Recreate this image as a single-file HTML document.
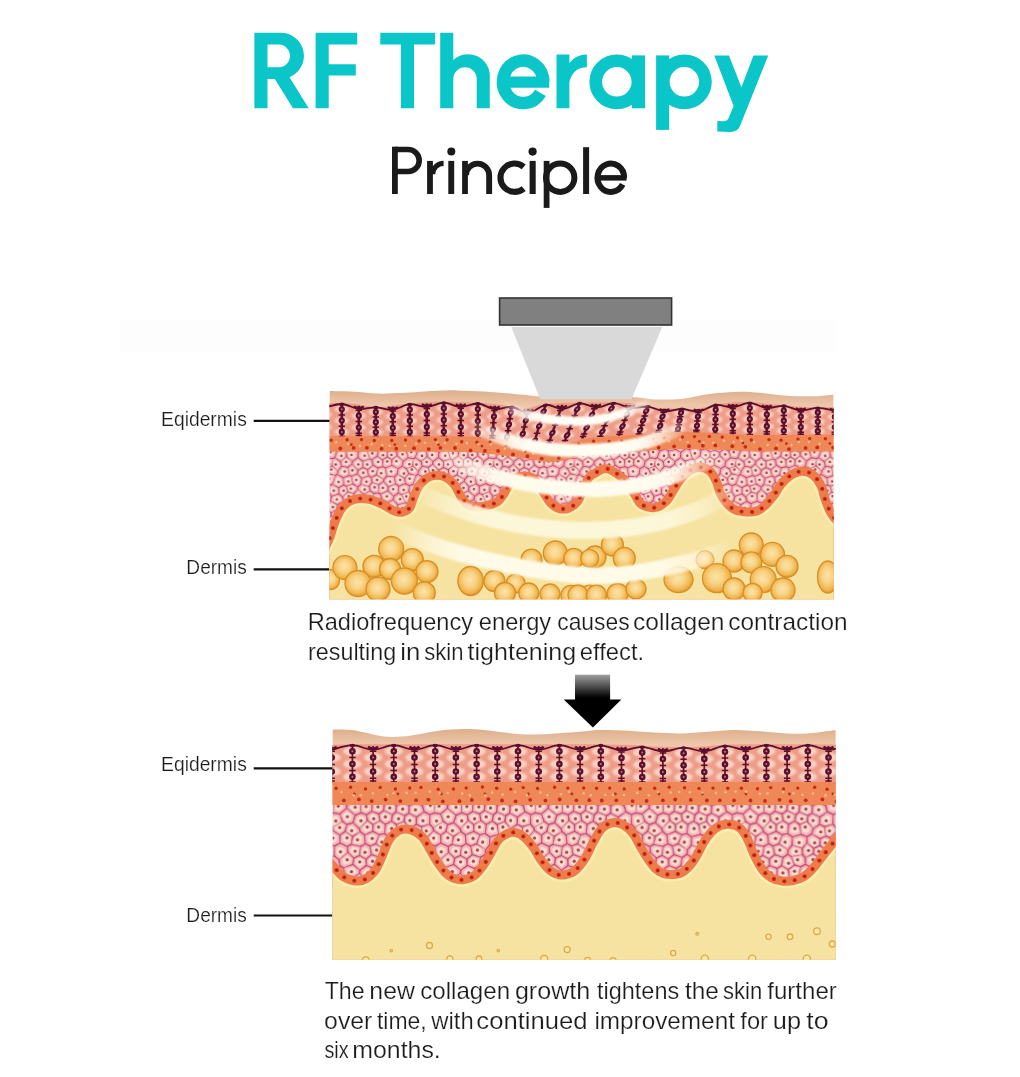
<!DOCTYPE html>
<html><head><meta charset="utf-8"><title>RF Therapy Principle</title>
<style>
html,body{margin:0;padding:0;background:#fff}
body{width:1020px;height:1077px;overflow:hidden;font-family:"Liberation Sans",sans-serif}
svg{display:block;font-family:"Liberation Sans",sans-serif}
</style></head><body>
<svg width="1020" height="1077" viewBox="0 0 1020 1077">
<defs>
<pattern id="cells2" width="100.8" height="87.3" patternUnits="userSpaceOnUse">
<rect width="100.8" height="87.3" fill="#c04a70"/>
<g fill="#f5b5b8" stroke="#f5b5b8" stroke-width="1.4" stroke-linejoin="round"><path d="M-4.7,-4.9L-1.1,-7.2L4.2,-4L3.9,4.1L0.4,6.4L-6.6,4.4Z"/><path d="M-4.7,82.4L-1.1,80.1L4.2,83.3L3.9,91.3L0.4,93.7L-6.6,91.7Z"/><path d="M96.1,-4.9L99.7,-7.2L105,-4L104.7,4.1L101.2,6.4L94.2,4.4Z"/><path d="M96.1,82.4L99.7,80.1L105,83.3L104.7,91.3L101.2,93.7L94.2,91.7Z"/><path d="M17.1,-2.3L18.4,3.1L12.6,6.5L6.5,4.1L6.6,-4L11.5,-5.7Z"/><path d="M17.1,85L18.4,90.4L12.6,93.8L6.5,91.4L6.6,83.3L11.5,81.6Z"/><path d="M20,-2.9L20.9,2.6L24.8,4.4L28.3,1.9L30.8,-3.9L24.3,-6.3Z"/><path d="M20,84.4L20.9,89.9L24.8,91.7L28.3,89.2L30.8,83.4L24.3,81Z"/><path d="M41.5,3.4L40,-3.9L37.3,-5.7L33,-3L30.6,2.9L38.5,6.3Z"/><path d="M41.5,90.7L40,83.4L37.3,81.6L33,84.3L30.6,90.2L38.5,93.6Z"/><path d="M49.3,4L55.8,0L56,-2.4L50.2,-7.1L42.4,-4.4L44.2,2.8Z"/><path d="M49.3,91.3L55.8,87.3L56,84.9L50.2,80.2L42.4,82.8L44.2,90.1Z"/><path d="M64.1,6.2L70.2,2.9L70.2,-3.6L64.3,-6L59,-2.2L58.8,0.2Z"/><path d="M64.1,93.5L70.2,90.2L70.2,83.7L64.3,81.3L59,85.1L58.8,87.5Z"/><path d="M81.5,-2.6L76.3,-5.8L72.7,-3.6L72.8,2.9L77.8,5.8L82.7,3.8Z"/><path d="M81.5,84.7L76.3,81.5L72.7,83.7L72.8,90.2L77.8,93.1L82.7,91.1Z"/><path d="M88.9,-6.4L84.3,-3L84.9,3.5L89.3,5.4L92.2,4L94,-5.3Z"/><path d="M88.9,80.9L84.3,84.3L84.9,90.8L89.3,92.7L92.2,91.3L94,82Z"/><path d="M2.3,15.7L6.3,18.6L11.9,15.9L11.6,9L5.5,6.5L2,8.8Z"/><path d="M19.7,5.3L14.1,8.9L14.5,15.8L19.2,18.6L24.7,12.5L23.5,7.1Z"/><path d="M26,6.4L29.9,4.5L37.9,7.8L37,12.3L32,13.6L27.6,11.7Z"/><path d="M43.5,5.2L48.5,6.9L50.4,13.8L44.6,18.3L39.7,12.9L40.7,8.4Z"/><path d="M57,1.8L50.7,6.2L52.7,13.1L57.4,14.3L61.6,11.7L62.2,7.9Z"/><path d="M76.5,8.1L75.4,13.7L70.1,16L64.5,12.1L65.2,8.3L71.4,5.3Z"/><path d="M83.8,6.3L88.3,8L87.9,15L82.1,17.7L78.1,14.2L79,8.5Z"/><path d="M-7.3,6.8L-0.4,8.9L-0.4,15.8L-6.4,18.5L-10.1,15.1L-10.3,8Z"/><path d="M93.5,6.8L100.4,8.9L100.4,15.8L94.4,18.5L90.7,15.1L90.5,8Z"/><path d="M-5.8,25.7L1.2,28.5L4.4,26.6L4.7,20.8L0.6,18L-5.4,20.7Z"/><path d="M95,25.7L102,28.5L105.2,26.6L105.5,20.8L101.4,18L95.4,20.7Z"/><path d="M13,18.3L7.4,21L7.1,26.8L13.1,29.9L19.5,25.8L17.9,20.9Z"/><path d="M26.5,14.1L30.8,16.3L30.3,25.8L26.8,27.4L22.1,25L20.8,20Z"/><path d="M37.1,26.8L42.8,22L42.9,20L37.7,14.7L32.8,16.4L31.9,25.9Z"/><path d="M46,20.2L52.1,16L56.9,16.9L57.5,26L52.9,28L45.8,22.2Z"/><path d="M68.4,18.3L68.3,24.7L64.1,27.5L59.6,25.9L59.1,16.8L63.1,14Z"/><path d="M80,24L76.4,26.7L70.7,24.8L71.1,18.4L76.4,16.2L80.3,19.7Z"/><path d="M89.5,27.7L82.7,24.2L83.1,19.9L88.9,17.2L92.6,20.5L92.2,25.4Z"/><path d="M2.8,31.1L5.9,29L11.9,32.1L11.9,37.9L6.9,41.5L2.4,35.5Z"/><path d="M20.8,27.7L25.6,29.9L25.1,37.8L18.6,39.6L14.6,37.9L14.7,32.2Z"/><path d="M30.5,40.6L38.6,35.6L36.6,29.6L31.5,28.7L27.9,30L27.9,37.8Z"/><path d="M41.2,34.6L44.7,37.3L49.5,35.8L51.3,29.8L44.4,24L38.8,28.8Z"/><path d="M52.1,36.6L54,30.6L58.6,28.6L63.1,30.2L63.5,34.8L57.4,41.5Z"/><path d="M75.4,29.3L76.2,34.5L70.8,37.5L66.6,34.4L65.5,29.8L69.9,27.2Z"/><path d="M88.6,29.6L87.9,34.5L83.1,37.1L78.9,34.1L78,28.9L81.7,26.3Z"/><path d="M-9.4,30L-10.2,34.9L-6.2,37.4L-0.6,35L0.3,30.7L-6.7,27.7Z"/><path d="M91.4,30L90.6,34.9L94.6,37.4L100.2,35L101.1,30.7L94.1,27.7Z"/><path d="M5.4,42.7L4.2,47.1L0.3,49.5L-4.6,47.3L-5.3,39.5L0.3,37.2Z"/><path d="M106.2,42.7L105,47.1L101.1,49.5L96.2,47.3L95.5,39.5L101.1,37.2Z"/><path d="M17.3,42.3L13.5,40.2L8.3,43.6L6.8,47.9L13.8,51.4L18.2,49.6Z"/><path d="M29,45L23.5,50.5L20.2,49.3L19.4,42.1L25.8,39.9L28.4,42.6Z"/><path d="M31.9,44.3L37.5,47.9L41.5,44.8L43.1,39.4L39.5,37.1L31.4,41.9Z"/><path d="M44.3,45.6L50,49.3L56.3,45.8L55.6,43.4L50.4,38.5L45.5,40Z"/><path d="M69.3,44.7L62.6,47.8L59.1,45.1L58.6,42.7L65.1,36.3L69.1,39.6Z"/><path d="M81.1,46.8L81.7,39.2L77.3,36.4L72,39.6L71.8,44.7L76.7,47.6Z"/><path d="M92.9,39.9L94.3,47.6L87.2,49.8L83.4,47L84.4,39.5L89.2,36.9Z"/><path d="M12.2,59L12.4,53.9L5.8,49.7L1.8,52L2.1,57.2L7.6,61.2Z"/><path d="M19.2,62.6L15,59.1L14.9,53.9L19.2,52.1L22.6,53.2L24.7,58.2Z"/><path d="M27.2,57.2L25.2,52.1L30.5,46.4L36.1,50L36.4,56.5L31.8,58.9Z"/><path d="M38.9,56.4L45.1,59.3L48,57.4L48.8,51.2L43.2,47.2L39,50Z"/><path d="M50.1,57.8L57.6,59.3L61.5,57.3L60.9,50.2L57.3,47.5L51.6,51.7Z"/><path d="M75.4,49.8L72.5,56.8L67.9,58.8L64.1,57L63.5,49.9L70.4,47.2Z"/><path d="M81.6,49.4L85.5,52.2L85,58.8L82,62.7L74.9,57.7L77.3,50.6Z"/><path d="M-1,57.2L-0.7,52L-5.7,50.2L-12.9,52.2L-12.9,58.9L-4.9,61.4Z"/><path d="M99.8,57.2L100.1,52L95.1,50.2L87.9,52.2L87.9,58.9L95.9,61.4Z"/><path d="M5.7,67.2L6,63.3L0.8,58.7L-2.7,63.2L-2.5,68.1L-0.5,70.6Z"/><path d="M106.5,67.2L106.8,63.3L101.6,58.7L98.1,63.2L98.3,68.1L100.3,70.6Z"/><path d="M17.7,68.5L13,70.8L8.4,67.3L8.8,63.5L13.3,61.3L17.7,64.4Z"/><path d="M20.5,68.6L24.3,71L30.7,69.3L30.9,61.5L26.2,60.1L20.7,64.5Z"/><path d="M33.3,69.4L36.9,72.6L43.9,66.6L43.9,61.8L37.7,58.9L33.2,61.5Z"/><path d="M51.8,70.8L56.1,68.8L57.1,61.7L49.6,60.1L46.5,61.7L47,66.5Z"/><path d="M58.6,69.1L59.2,62L62.9,59.5L66.5,61.6L67.6,68.4L63.4,71.9Z"/><path d="M80.8,67.9L81,64.2L73.6,59.7L68.8,61.1L70.2,67.9L76.8,70.4Z"/><path d="M86.6,69.7L95.6,68.2L95.2,63.4L87.3,60.7L84,64.5L83.7,68.1Z"/><path d="M10.4,78.8L5.6,80.8L0.3,77.8L0.4,72.4L6.9,69.5L11.7,72.7Z"/><path d="M111.2,78.8L106.4,80.8L101.1,77.8L101.2,72.4L107.7,69.5L112.5,72.7Z"/><path d="M18.9,70.8L14.4,73.4L12.7,79.4L18.5,82.7L22.3,78.8L22.6,73.5Z"/><path d="M25,73.5L25.1,78.9L31.6,81.6L36.3,79.6L35.2,74.7L31.4,71.6Z"/><path d="M49.3,77.7L41.7,80.8L38.9,79.1L38.2,74.1L45.3,68.3L50,72.8Z"/><path d="M51.9,78.2L57.5,83.1L62.6,79.1L62.3,74.1L57.3,71.4L52.8,73.2Z"/><path d="M65.2,73.9L69.3,70.4L76,72.6L74.8,79.1L71.2,81.3L65.3,78.9Z"/><path d="M87.4,78.9L85,72.2L82.3,70.2L78.4,73L77.5,79.5L82.8,82.4Z"/><path d="M89.7,78L86.9,71.5L95.9,70.1L98.2,72.5L98.4,77.8L94.6,79.7Z"/></g>
<g fill="#fcdfd4" stroke="#fcdfd4" stroke-width="2" stroke-linejoin="round" opacity="0.95"><path d="M-3.3,-2.8L-1.2,-4.1L1.8,-2.2L1.7,2.4L-0.4,3.8L-4.4,2.6Z"/><path d="M-3.3,84.5L-1.2,83.2L1.8,85.1L1.7,89.7L-0.4,91.1L-4.4,89.9Z"/><path d="M97.5,-2.8L99.6,-4.1L102.6,-2.2L102.5,2.4L100.4,3.8L96.4,2.6Z"/><path d="M97.5,84.5L99.6,83.2L102.6,85.1L102.5,89.7L100.4,91.1L96.4,89.9Z"/><path d="M14.9,-1.1L15.7,2L12.3,4L8.8,2.6L8.8,-2.1L11.7,-3.1Z"/><path d="M14.9,86.2L15.7,89.3L12.3,91.3L8.8,89.9L8.8,85.2L11.7,84.2Z"/><path d="M22.5,-2.6L23,0.6L25.2,1.6L27.3,0.1L28.7,-3.2L24.9,-4.6Z"/><path d="M22.5,84.7L23,87.9L25.2,88.9L27.3,87.4L28.7,84.1L24.9,82.7Z"/><path d="M38.9,2.7L38,-1.5L36.5,-2.6L33.9,-1L32.6,2.4L37.2,4.4Z"/><path d="M38.9,90L38,85.8L36.5,84.7L33.9,86.3L32.6,89.7L37.2,91.7Z"/><path d="M49.2,1.8L53,-0.6L53.1,-2L49.8,-4.7L45.3,-3.2L46.3,1Z"/><path d="M49.2,89.1L53,86.7L53.1,85.3L49.8,82.6L45.3,84.1L46.3,88.3Z"/><path d="M64.7,3.5L68.2,1.6L68.3,-2.1L64.8,-3.5L61.8,-1.3L61.7,0.1Z"/><path d="M64.7,90.8L68.2,88.9L68.3,85.2L64.8,83.8L61.8,86L61.7,87.4Z"/><path d="M79.7,-1.5L76.8,-3.4L74.7,-2.1L74.7,1.6L77.6,3.3L80.5,2.2Z"/><path d="M79.7,85.8L76.8,83.9L74.7,85.2L74.7,88.9L77.6,90.6L80.5,89.5Z"/><path d="M88.9,-4.5L86.2,-2.5L86.6,1.3L89.2,2.3L90.8,1.5L91.8,-3.9Z"/><path d="M88.9,82.8L86.2,84.8L86.6,88.6L89.2,89.6L90.8,88.8L91.8,83.4Z"/><path d="M4.3,14.5L6.6,16.2L9.9,14.6L9.7,10.6L6.1,9.1L4.1,10.5Z"/><path d="M19.4,8.2L16.1,10.3L16.4,14.3L19.1,15.9L22.3,12.3L21.6,9.2Z"/><path d="M28.7,7.4L30.9,6.3L35.6,8.1L35.1,10.8L32.2,11.5L29.6,10.4Z"/><path d="M44.3,7.8L47.2,8.8L48.3,12.8L45,15.4L42.1,12.3L42.7,9.6Z"/><path d="M56.4,4.6L52.8,7.2L53.9,11.2L56.7,11.8L59.1,10.4L59.4,8.1Z"/><path d="M74.3,9.2L73.6,12.5L70.6,13.8L67.3,11.6L67.7,9.3L71.3,7.6Z"/><path d="M83.5,9L86.1,10L85.8,14.1L82.5,15.7L80.2,13.7L80.7,10.3Z"/><path d="M-6.4,9.4L-2.4,10.7L-2.4,14.6L-5.9,16.2L-8,14.3L-8.1,10.2Z"/><path d="M94.4,9.4L98.4,10.7L98.4,14.6L94.9,16.2L92.8,14.3L92.7,10.2Z"/><path d="M-3.6,24.7L0.5,26.4L2.3,25.3L2.5,21.9L0.1,20.3L-3.3,21.8Z"/><path d="M97.2,24.7L101.3,26.4L103.1,25.3L103.3,21.9L100.9,20.3L97.5,21.8Z"/><path d="M12.7,20.7L9.5,22.3L9.3,25.6L12.8,27.5L16.5,25.1L15.5,22.2Z"/><path d="M26.8,16.4L29.3,17.7L29,23.3L27,24.2L24.2,22.8L23.5,19.9Z"/><path d="M36.6,24.1L39.9,21.3L40,20.1L37,17.1L34.1,18.1L33.6,23.6Z"/><path d="M48.8,20.7L52.4,18.3L55.2,18.9L55.5,24.1L52.8,25.2L48.8,21.9Z"/><path d="M66.4,19.3L66.3,23.1L63.9,24.7L61.3,23.7L61,18.5L63.4,16.9Z"/><path d="M78.1,22.8L76.1,24.4L72.8,23.3L73,19.6L76.1,18.3L78.3,20.3Z"/><path d="M88.6,25.4L84.7,23.4L84.9,20.9L88.3,19.3L90.4,21.2L90.2,24.1Z"/><path d="M4.5,32.7L6.3,31.5L9.8,33.3L9.7,36.6L6.8,38.7L4.2,35.2Z"/><path d="M20.4,30.7L23.2,32L22.9,36.6L19.1,37.7L16.8,36.7L16.9,33.3Z"/><path d="M31.7,38.3L36.4,35.5L35.2,32L32.3,31.5L30.2,32.2L30.2,36.8Z"/><path d="M42.8,33.1L44.8,34.6L47.6,33.8L48.7,30.3L44.6,26.9L41.4,29.7Z"/><path d="M54.8,36L55.9,32.5L58.6,31.4L61.2,32.3L61.5,35L57.9,38.8Z"/><path d="M73.7,30.9L74.2,33.9L71,35.7L68.6,33.8L68,31.2L70.5,29.7Z"/><path d="M86.2,30.3L85.8,33.1L83.1,34.6L80.6,32.9L80.1,29.9L82.2,28.4Z"/><path d="M-7.4,31.3L-7.8,34.1L-5.5,35.6L-2.3,34.2L-1.8,31.7L-5.8,30Z"/><path d="M93.4,31.3L93,34.1L95.3,35.6L98.5,34.2L99,31.7L95,30Z"/><path d="M2.6,42.1L2,44.7L-0.3,46.1L-3.1,44.8L-3.5,40.3L-0.3,38.9Z"/><path d="M103.4,42.1L102.8,44.7L100.5,46.1L97.7,44.8L97.3,40.3L100.5,38.9Z"/><path d="M16.1,44L13.9,42.7L10.9,44.7L10,47.2L14.1,49.2L16.6,48.1Z"/><path d="M26.5,45.1L23.3,48.3L21.4,47.6L20.9,43.4L24.7,42.1L26.2,43.7Z"/><path d="M34.2,43.2L37.4,45.3L39.7,43.6L40.7,40.4L38.6,39.1L33.9,41.9Z"/><path d="M46.4,45.4L49.7,47.5L53.4,45.5L53,44.1L49.9,41.2L47.1,42.1Z"/><path d="M67.5,43.3L63.6,45.1L61.6,43.5L61.3,42.1L65,38.4L67.4,40.3Z"/><path d="M79,44.5L79.4,40.1L76.8,38.5L73.8,40.3L73.6,43.3L76.5,44.9Z"/><path d="M91.4,41.1L92.2,45.6L88.1,46.8L85.9,45.2L86.5,40.9L89.3,39.4Z"/><path d="M10.6,58.2L10.7,55.2L6.8,52.8L4.5,54.1L4.7,57.1L7.9,59.5Z"/><path d="M19.1,60.3L16.6,58.3L16.6,55.3L19.1,54.2L21,54.9L22.3,57.8Z"/><path d="M28.6,55.2L27.4,52.2L30.5,48.9L33.7,51L33.9,54.8L31.3,56.2Z"/><path d="M41.3,54.6L44.9,56.3L46.6,55.2L47,51.6L43.8,49.3L41.3,50.9Z"/><path d="M52.2,56.2L56.6,57.1L58.8,55.9L58.4,51.8L56.4,50.2L53.1,52.7Z"/><path d="M73.1,51.1L71.4,55.1L68.7,56.3L66.6,55.2L66.2,51.1L70.2,49.5Z"/><path d="M80.8,52.4L83,54L82.7,57.8L80.9,60.1L76.8,57.2L78.3,53Z"/><path d="M-3.7,57.1L-3.5,54.1L-6.4,53L-10.5,54.2L-10.5,58.1L-5.9,59.5Z"/><path d="M97.1,57.1L97.3,54.1L94.4,53L90.3,54.2L90.3,58.1L94.9,59.5Z"/><path d="M4.2,66.2L4.3,63.9L1.3,61.3L-0.7,63.9L-0.6,66.7L0.6,68.2Z"/><path d="M105,66.2L105.1,63.9L102.1,61.3L100.1,63.9L100.2,66.7L101.4,68.2Z"/><path d="M15.5,67.3L12.8,68.6L10.1,66.6L10.3,64.4L12.9,63.1L15.5,64.9Z"/><path d="M22.8,67.5L25,68.9L28.7,67.9L28.8,63.4L26.1,62.5L22.9,65.1Z"/><path d="M35.3,68L37.4,69.9L41.5,66.4L41.5,63.6L37.9,61.9L35.3,63.4Z"/><path d="M52.2,68.6L54.7,67.4L55.2,63.3L50.9,62.3L49.1,63.3L49.4,66.1Z"/><path d="M60.3,68L60.6,63.9L62.8,62.5L64.9,63.7L65.5,67.6L63.1,69.7Z"/><path d="M78.1,66.5L78.1,64.3L73.8,61.7L71.1,62.5L71.9,66.4L75.7,67.9Z"/><path d="M88.3,67.9L93.6,67.1L93.3,64.3L88.7,62.7L86.8,64.9L86.6,67.1Z"/><path d="M8.8,76.7L6,77.9L2.9,76.1L3,73L6.8,71.3L9.6,73.2Z"/><path d="M109.6,76.7L106.8,77.9L103.7,76.1L103.8,73L107.6,71.3L110.4,73.2Z"/><path d="M18.7,73.3L16.1,74.8L15.1,78.3L18.5,80.2L20.7,78L20.9,74.9Z"/><path d="M26.7,75L26.7,78.1L30.5,79.6L33.2,78.5L32.6,75.6L30.4,73.9Z"/><path d="M47.4,76.2L43,78L41.4,77L41,74.1L45.1,70.7L47.8,73.3Z"/><path d="M54.2,77.4L57.4,80.2L60.4,77.9L60.2,75L57.3,73.4L54.7,74.5Z"/><path d="M67.3,74.6L69.7,72.6L73.6,73.9L72.9,77.6L70.8,78.9L67.4,77.5Z"/><path d="M85.5,78.4L84.1,74.5L82.6,73.3L80.3,74.9L79.8,78.7L82.9,80.4Z"/><path d="M90.6,76.4L89,72.6L94.3,71.8L95.6,73.1L95.7,76.2L93.5,77.3Z"/></g>
<g fill="#a34242"><circle cx="-1.4" cy="0.2" r="1.6"/><circle cx="-1.4" cy="87.5" r="1.6"/><circle cx="99.4" cy="0.2" r="1.6"/><circle cx="99.4" cy="87.5" r="1.6"/><circle cx="11.9" cy="0.5" r="1.6"/><circle cx="11.9" cy="87.8" r="1.6"/><circle cx="25.9" cy="-2.3" r="1.6"/><circle cx="25.9" cy="85" r="1.6"/><circle cx="35.3" cy="1.8" r="1.6"/><circle cx="35.3" cy="89.1" r="1.6"/><circle cx="49.1" cy="-1.4" r="1.6"/><circle cx="49.1" cy="85.9" r="1.6"/><circle cx="65.6" cy="-0.2" r="1.6"/><circle cx="65.6" cy="87.1" r="1.6"/><circle cx="77.3" cy="-0.1" r="1.6"/><circle cx="77.3" cy="87.2" r="1.6"/><circle cx="88.9" cy="-1.8" r="1.6"/><circle cx="88.9" cy="85.5" r="1.6"/><circle cx="7" cy="12.8" r="1.6"/><circle cx="19" cy="12.2" r="1.6"/><circle cx="32.4" cy="8.6" r="1.6"/><circle cx="45.4" cy="11.4" r="1.6"/><circle cx="55.7" cy="8.5" r="1.6"/><circle cx="71.2" cy="10.8" r="1.6"/><circle cx="83" cy="12.9" r="1.6"/><circle cx="-5.2" cy="13.1" r="1.6"/><circle cx="95.6" cy="13.1" r="1.6"/><circle cx="-0.5" cy="23.4" r="1.6"/><circle cx="100.3" cy="23.4" r="1.6"/><circle cx="12.3" cy="24.1" r="1.6"/><circle cx="27.2" cy="19.7" r="1.6"/><circle cx="35.9" cy="20.4" r="1.6"/><circle cx="52.8" cy="21.5" r="1.6"/><circle cx="63.7" cy="20.8" r="1.6"/><circle cx="75.6" cy="21.2" r="1.6"/><circle cx="87.4" cy="22.3" r="1.6"/><circle cx="6.7" cy="34.8" r="1.6"/><circle cx="19.8" cy="35" r="1.6"/><circle cx="33.4" cy="35.3" r="1.6"/><circle cx="45" cy="31" r="1.6"/><circle cx="58.6" cy="35.2" r="1.6"/><circle cx="71.4" cy="33.1" r="1.6"/><circle cx="83" cy="31.2" r="1.6"/><circle cx="-4.6" cy="33.1" r="1.6"/><circle cx="96.2" cy="33.1" r="1.6"/><circle cx="-1.1" cy="41.4" r="1.6"/><circle cx="99.7" cy="41.4" r="1.6"/><circle cx="14.4" cy="46.2" r="1.6"/><circle cx="23.1" cy="45.2" r="1.6"/><circle cx="37.3" cy="41.8" r="1.6"/><circle cx="49.3" cy="45" r="1.6"/><circle cx="64.9" cy="41.3" r="1.6"/><circle cx="76.2" cy="41.3" r="1.6"/><circle cx="89.3" cy="42.8" r="1.6"/><circle cx="8.3" cy="57.1" r="1.6"/><circle cx="18.9" cy="57.2" r="1.6"/><circle cx="30.5" cy="52.4" r="1.6"/><circle cx="44.6" cy="52.1" r="1.6"/><circle cx="55.1" cy="54.1" r="1.6"/><circle cx="69.9" cy="52.8" r="1.6"/><circle cx="79.5" cy="56.5" r="1.6"/><circle cx="-7.3" cy="56.9" r="1.6"/><circle cx="93.5" cy="56.9" r="1.6"/><circle cx="2.1" cy="64.8" r="1.6"/><circle cx="102.9" cy="64.8" r="1.6"/><circle cx="12.4" cy="65.6" r="1.6"/><circle cx="25.9" cy="66" r="1.6"/><circle cx="38.1" cy="66.1" r="1.6"/><circle cx="52.7" cy="65.5" r="1.6"/><circle cx="62.6" cy="66.6" r="1.6"/><circle cx="74.2" cy="64.4" r="1.6"/><circle cx="90.7" cy="65.6" r="1.6"/><circle cx="6.6" cy="73.8" r="1.6"/><circle cx="107.4" cy="73.8" r="1.6"/><circle cx="18.5" cy="76.8" r="1.6"/><circle cx="29" cy="77" r="1.6"/><circle cx="44.8" cy="74.1" r="1.6"/><circle cx="57.4" cy="76.2" r="1.6"/><circle cx="70.2" cy="75.6" r="1.6"/><circle cx="83" cy="77.6" r="1.6"/><circle cx="92" cy="74.1" r="1.6"/></g>
</pattern>
<pattern id="cells1" width="100.8" height="87.3" patternUnits="userSpaceOnUse" patternTransform="scale(0.8)">
<rect width="100.8" height="87.3" fill="#c04a70"/>
<g fill="#f5b5b8" stroke="#f5b5b8" stroke-width="1.4" stroke-linejoin="round"><path d="M-1.3,5.5L-4.8,4.5L-4.3,-2.6L2.5,-5.1L6.6,-3L5.8,2.9Z"/><path d="M-1.3,92.8L-4.8,91.8L-4.3,84.7L2.5,82.2L6.6,84.3L5.8,90.2Z"/><path d="M99.5,5.5L96,4.5L96.5,-2.6L103.3,-5.1L107.4,-3L106.6,2.9Z"/><path d="M99.5,92.8L96,91.8L96.5,84.7L103.3,82.2L107.4,84.3L106.6,90.2Z"/><path d="M11.9,7.8L19,5.4L18.9,-0.6L12.7,-4.2L8.9,-2.9L8.8,3.2Z"/><path d="M11.9,95.1L19,92.7L18.9,86.7L12.7,83L8.9,84.4L8.8,90.5Z"/><path d="M26.4,-3.5L21.6,-0.6L21.6,5.4L25.3,8.4L30.2,3.4L28.9,-2.1Z"/><path d="M26.4,83.8L21.6,86.7L21.6,92.7L25.3,95.7L30.2,90.7L28.9,85.2Z"/><path d="M42.5,0.4L38.4,4.5L32.7,2.7L31.1,-2.6L37.3,-4.8L42.7,-2Z"/><path d="M42.5,87.7L38.4,91.8L32.7,90L31.1,84.7L37.3,82.5L42.7,85.3Z"/><path d="M45.6,-1.9L45.6,0.5L51.8,5.3L58,2L57,-2.3L48.7,-4.3Z"/><path d="M45.6,85.4L45.6,87.8L51.8,92.6L58,89.3L57,85L48.7,83Z"/><path d="M62.6,-6.9L69.2,-4.5L68.9,3.7L64.4,4.1L60.8,1.4L59.8,-2.9Z"/><path d="M62.6,80.4L69.2,82.8L68.9,91L64.4,91.4L60.8,88.7L59.8,84.4Z"/><path d="M76.1,-8L80.7,-2.3L80.2,1.6L73,5.1L70.8,3.8L71.7,-4.3Z"/><path d="M76.1,79.3L80.7,85L80.2,88.9L73,92.4L70.8,91.1L71.7,83Z"/><path d="M89,7.5L93.4,4.3L93.9,-2.7L90.7,-5L83.6,-1.9L83.1,1.9Z"/><path d="M89,94.8L93.4,91.6L93.9,84.6L90.7,82.3L83.6,85.4L83.1,89.2Z"/><path d="M3,15.8L-0.5,7.6L6.5,4.8L9.7,9.3L8.6,14L5,16.6Z"/><path d="M103.8,15.8L100.3,7.6L107.3,4.8L110.5,9.3L109.4,14L105.8,16.6Z"/><path d="M11.3,14.7L18.5,18.1L25,15.1L23.6,10.6L19.8,7.7L12.6,10Z"/><path d="M26.6,9.8L27.6,14.4L31.5,16.9L38.2,14.3L37.9,6.6L32,5.3Z"/><path d="M50,7.4L44.3,2L40.6,6.5L40.4,14.2L44.6,16.1L50.3,12.5Z"/><path d="M59.8,12.8L62.8,6.3L59.1,3.8L52.9,7.4L52.7,12.5L57.1,14.2Z"/><path d="M67.6,17.1L72.3,12.5L71.4,7.7L69.2,6.4L64.7,7.1L62.2,13.8Z"/><path d="M75.3,11.8L81.1,15.7L86.8,12.9L87.6,9.2L81.3,3.9L73.9,7.1Z"/><path d="M-10.3,9.8L-5.7,6.8L-2.4,8.4L1.5,16.4L-6.2,18.2L-11.1,13.5Z"/><path d="M90.5,9.8L95.1,6.8L98.4,8.4L102.3,16.4L94.6,18.2L89.7,13.5Z"/><path d="M2,18.7L4.2,19.2L4.7,26L-2.3,29.5L-6.5,26.4L-5.6,20.6Z"/><path d="M102.8,18.7L105,19.2L105.5,26L98.5,29.5L94.3,26.4L95.2,20.6Z"/><path d="M6.6,18.9L7.5,25.7L11,28.6L16.6,25L17.3,20.4L10.3,16.5Z"/><path d="M25.2,30L29.7,25L30,19.4L26,17L19.9,20.7L19.4,25.4Z"/><path d="M44.9,25.3L43.4,18.8L39.2,16.9L32.5,19.4L32.8,25L38.3,28.4Z"/><path d="M56.3,23.4L50.5,26.9L47.6,24.6L45.8,18.2L51.7,15L56,16.9Z"/><path d="M66.9,23.2L66.5,19L61.1,15.6L58.2,16.7L58.8,23.2L64.2,25.8Z"/><path d="M69.4,23.1L78.4,25L79.8,17.7L73.8,13.9L69.5,18.8Z"/><path d="M82.4,18.2L88,15.1L92.6,20.2L91.7,26L87.4,27.6L81,25.9L80.8,25.5Z"/><path d="M5.7,27.9L9.2,30.8L9.5,33.9L3.9,38.3L-1.1,36.4L-1.2,31.6Z"/><path d="M106.5,27.9L110,30.8L110.3,33.9L104.7,38.3L99.7,36.4L99.6,31.6Z"/><path d="M12.5,33.5L18.1,38.4L24.1,36.2L24.1,31.5L18,27.3L12.1,30.4Z"/><path d="M36.8,30.6L31.6,26.7L27.2,31.7L26.7,36.4L30.1,38.7L37.1,36.8Z"/><path d="M48.7,29.2L49.9,36.2L44.4,40.1L39.2,36.8L39.5,30.7L45.8,27Z"/><path d="M63.3,27.9L63.5,34.1L55.9,36.8L52.4,35.8L51.5,28.8L57.7,25.8Z"/><path d="M69,25.4L78,26.9L78.2,27.3L74.9,35.8L70.2,37.2L66.1,34.1L66.2,27.9Z"/><path d="M86.6,37.8L86.5,30.4L80.3,28.1L77.2,36.6L81.4,39.4Z"/><path d="M92.8,40.2L97,36.5L96.7,31.7L92.7,28.5L88.5,30.3L88.8,37.7Z"/><path d="M-0,51.1L-6.1,45.3L-6.4,42.2L-2,38.7L2.8,40.9L4.9,47.6Z"/><path d="M100.8,51.1L94.7,45.3L94.4,42.2L98.8,38.7L103.6,40.9L105.7,47.6Z"/><path d="M12.1,47.9L6.9,47.1L5.5,40.2L10.8,35.5L16.6,40.2L14.3,47Z"/><path d="M22.6,51.4L28.5,46.9L28.3,41.2L25,38.7L19.1,41.1L16.7,47.9Z"/><path d="M31.5,46.7L30.7,41L37.7,39.4L43.2,42.2L42.8,47.5L37.2,51.5Z"/><path d="M50.8,51.1L45.8,47.7L46,42.3L51.5,38.4L54.9,39.7L57.8,49.1Z"/><path d="M61.8,49.5L67.2,45.6L68.4,39.5L64.3,36.4L56.7,39.1L59.8,48.5Z"/><path d="M75.3,49.6L79.5,46.6L79.7,41.8L75.7,38.7L70.9,39.9L70.1,46.1Z"/><path d="M82.4,46.6L82.1,41.8L87.4,40.4L91.6,42.4L91.7,45.5L86.5,49.4Z"/><path d="M1.5,53.3L6.5,50L11.7,50.7L10.7,57.9L5,60.8L0.2,58.5Z"/><path d="M102.3,53.3L107.3,50L112.5,50.7L111.5,57.9L105.8,60.8L101,58.5Z"/><path d="M22.4,58.6L21.1,53.8L15.4,49.8L13.3,50.8L13.5,58L18.7,63.5Z"/><path d="M25,58L31.2,58.7L35.4,55.8L35.9,53.1L29.9,48.7L23.9,53.1Z"/><path d="M49,59.6L44.5,62.4L38.4,56.3L38.8,53.7L44.3,49.7L49,53.5Z"/><path d="M61.7,57.4L60.6,52.1L58.5,51.3L51.5,53.5L51.6,59.6L56.2,61.8Z"/><path d="M64.6,56.8L63.2,51.5L68.8,47.9L73.7,51.8L74.5,58.4L69.3,59.6Z"/><path d="M76.6,58.3L79,59.5L85.5,56.9L85.1,51.4L81,48.8L76.6,51.6Z"/><path d="M98.3,57.9L94.2,60.4L87.8,56.8L88.1,51.4L93,47.2L99.4,52.6Z"/><path d="M-5.1,62.9L-5.8,68.5L1.7,72.6L5.7,68.2L3.4,63.5L-0.9,60.4Z"/><path d="M95.7,62.9L95,68.5L102.5,72.6L106.5,68.2L104.2,63.5L99.9,60.4Z"/><path d="M17.7,64.7L17.4,68.1L15.3,69.2L8.1,67L5.7,62.3L11.7,60.1Z"/><path d="M24.6,60.4L30.8,61.4L32.2,69.5L26.2,71.8L20,68.5L20.7,65.1Z"/><path d="M42.9,64L36.9,57.8L33,61L34.2,69.2L36.4,70L42.2,67.7Z"/><path d="M56.3,70.2L55.1,64.3L50.4,62L45.9,64.6L45,68.3L49.4,72.6Z"/><path d="M61.3,71.4L66.1,68.6L68,62L63.2,59.2L57.8,63.8L58.7,69.8Z"/><path d="M70.1,62.5L75.2,61L77.6,62.2L79,70.6L76,73.9L68.7,69.3Z"/><path d="M81.4,70.2L79.9,61.8L86.5,59.4L93.1,62.5L92,68L89.1,71Z"/><path d="M7.9,81.8L3.9,79.5L3.5,74.2L7.4,69.8L14.9,71.1L11.5,80.2Z"/><path d="M13.8,81L16.9,71.9L18.8,70.6L24.7,74.4L25.1,81.5L20.2,84.3Z"/><path d="M30.3,82.5L27.7,81.3L27.1,74.2L33.2,72L35.3,72.8L36.5,80.3Z"/><path d="M46.6,80.7L43.8,83.4L38.9,79.9L37.3,72.4L43.2,70.1L47.5,74.5Z"/><path d="M60.3,78.9L59.7,73.9L57.1,72.4L50.2,75L49.1,81.1L57.5,82.8Z"/><path d="M63.3,78.4L69.9,80.6L74.8,77.5L75.1,75.5L67.4,71.3L62.3,73.5Z"/><path d="M77.8,77.9L82.7,83.2L89.9,80.3L88.9,73.4L81.2,72.7L78.1,75.9Z"/><path d="M1.6,79.9L0.5,74.6L-6.7,70L-9.5,73L-8.3,79.9L-5.2,82.3Z"/><path d="M102.4,79.9L101.3,74.6L94.1,70L91.3,73L92.5,79.9L95.6,82.3Z"/></g>
<g fill="#fcdfd4" stroke="#fcdfd4" stroke-width="2" stroke-linejoin="round" opacity="0.95"><path d="M-0.5,3.7L-2.5,3.1L-2.3,-1L1.7,-2.4L4.1,-1.2L3.6,2.2Z"/><path d="M-0.5,91L-2.5,90.4L-2.3,86.3L1.7,84.9L4.1,86.1L3.6,89.5Z"/><path d="M100.3,3.7L98.3,3.1L98.5,-1L102.5,-2.4L104.9,-1.2L104.4,2.2Z"/><path d="M100.3,91L98.3,90.4L98.5,86.3L102.5,84.9L104.9,86.1L104.4,89.5Z"/><path d="M12.8,5.5L17,4.1L16.9,0.6L13.3,-1.5L11.1,-0.7L11,2.8Z"/><path d="M12.8,92.8L17,91.4L16.9,87.9L13.3,85.8L11.1,86.6L11,90.1Z"/><path d="M26.4,-1.1L23.6,0.6L23.6,4L25.8,5.8L28.6,2.9L27.9,-0.3Z"/><path d="M26.4,86.2L23.6,87.9L23.6,91.3L25.8,93.1L28.6,90.2L27.9,87Z"/><path d="M39.5,0.1L37.1,2.6L33.8,1.5L32.9,-1.6L36.5,-2.8L39.6,-1.2Z"/><path d="M39.5,87.4L37.1,89.8L33.8,88.8L32.9,85.7L36.5,84.4L39.6,86Z"/><path d="M48.6,-0.8L48.6,0.6L52.2,3.4L55.8,1.5L55.2,-1L50.4,-2.2Z"/><path d="M48.6,86.5L48.6,87.9L52.2,90.7L55.8,88.8L55.2,86.3L50.4,85.1Z"/><path d="M63.6,-4.8L67.5,-3.4L67.3,1.3L64.7,1.5L62.6,-0.1L62,-2.5Z"/><path d="M63.6,82.5L67.5,83.9L67.3,88.6L64.7,88.8L62.6,87.2L62,84.8Z"/><path d="M75.8,-5.2L78.5,-1.9L78.2,0.4L74,2.4L72.8,1.7L73.3,-3Z"/><path d="M75.8,82.1L78.5,85.4L78.2,87.7L74,89.7L72.8,89L73.3,84.3Z"/><path d="M88.8,4.5L91.3,2.7L91.6,-1.4L89.8,-2.7L85.6,-0.9L85.3,1.3Z"/><path d="M88.8,91.8L91.3,90L91.6,85.9L89.8,84.6L85.6,86.3L85.3,88.6Z"/><path d="M3.3,13.1L1.3,8.3L5.3,6.7L7.2,9.4L6.6,12.1L4.5,13.6Z"/><path d="M104.1,13.1L102.1,8.3L106.1,6.7L108,9.4L107.4,12.1L105.3,13.6Z"/><path d="M14,14L18.2,16L21.9,14.2L21.1,11.6L18.9,9.9L14.8,11.3Z"/><path d="M29.2,9.5L29.8,12.2L32.1,13.7L36,12.1L35.8,7.6L32.4,6.9Z"/><path d="M48.2,8.1L44.9,5L42.7,7.6L42.6,12.1L45,13.1L48.3,11.1Z"/><path d="M58.8,11.2L60.5,7.4L58.3,6L54.8,8.1L54.7,11L57.2,12Z"/><path d="M67.2,15.3L70,12.6L69.4,9.9L68.2,9.1L65.5,9.5L64.1,13.4Z"/><path d="M77.4,10.8L80.8,13.1L84.1,11.4L84.6,9.3L80.9,6.2L76.6,8.1Z"/><path d="M-7.6,11.1L-4.9,9.3L-3,10.3L-0.7,14.9L-5.2,15.9L-8,13.2Z"/><path d="M93.2,11.1L95.9,9.3L97.8,10.3L100.1,14.9L95.6,15.9L92.8,13.2Z"/><path d="M0.7,21L2,21.3L2.3,25.3L-1.8,27.3L-4.2,25.5L-3.7,22.1Z"/><path d="M101.5,21L102.8,21.3L103.1,25.3L99,27.3L96.6,25.5L97.1,22.1Z"/><path d="M9.2,20.5L9.7,24.5L11.8,26.2L15,24.1L15.4,21.4L11.4,19.1Z"/><path d="M24.6,27.5L27.2,24.6L27.4,21.4L25,20L21.5,22.1L21.2,24.8Z"/><path d="M42.3,24.9L41.4,21.1L39,20L35.1,21.5L35.3,24.7L38.5,26.6Z"/><path d="M54.7,22.3L51.3,24.4L49.6,23L48.6,19.3L52,17.4L54.5,18.5Z"/><path d="M65,21.9L64.7,19.4L61.6,17.5L59.9,18.2L60.3,21.9L63.4,23.4Z"/><path d="M71.2,21.6L76.4,22.7L77.2,18.5L73.8,16.3L71.3,19.1Z"/><path d="M84.4,20L87.7,18.2L90.3,21.1L89.8,24.5L87.3,25.4L83.6,24.4L83.5,24.2Z"/><path d="M4.8,30.3L6.9,32L7.1,33.8L3.8,36.4L1,35.3L0.8,32.5Z"/><path d="M105.6,30.3L107.7,32L107.9,33.8L104.6,36.4L101.8,35.3L101.6,32.5Z"/><path d="M14.9,32.8L18.1,35.6L21.5,34.3L21.6,31.6L18,29.2L14.6,31Z"/><path d="M35.3,31.5L32.3,29.2L29.7,32.1L29.4,34.8L31.4,36.2L35.4,35.1Z"/><path d="M46.3,30.7L47.1,34.7L43.9,36.9L40.9,35.1L41,31.5L44.7,29.4Z"/><path d="M61,29L61.1,32.6L56.7,34.1L54.6,33.5L54.1,29.5L57.7,27.7Z"/><path d="M70.2,27.4L75.4,28.3L75.5,28.5L73.6,33.5L70.8,34.3L68.5,32.5L68.5,28.9Z"/><path d="M85.2,36.4L85.1,32.1L81.5,30.8L79.7,35.7L82.2,37.3Z"/><path d="M92.4,37.7L94.9,35.6L94.8,32.8L92.4,30.9L89.9,32L90.1,36.3Z"/><path d="M-0.3,48.1L-3.8,44.8L-4,43L-1.5,41L1.3,42.2L2.5,46.1Z"/><path d="M100.5,48.1L97,44.8L96.8,43L99.3,41L102.1,42.2L103.3,46.1Z"/><path d="M11.2,45.1L8.2,44.7L7.4,40.7L10.5,38L13.8,40.6L12.5,44.6Z"/><path d="M23,49.2L26.4,46.5L26.3,43.2L24.4,41.8L21,43.2L19.6,47.1Z"/><path d="M33.5,46L33,42.7L37.1,41.8L40.3,43.4L40.1,46.5L36.8,48.7Z"/><path d="M51.6,48.9L48.7,47L48.8,43.9L52,41.6L54,42.3L55.6,47.8Z"/><path d="M62,46.7L65.1,44.5L65.8,40.9L63.4,39.1L59,40.7L60.8,46.1Z"/><path d="M75.5,47.7L77.9,46L78,43.2L75.7,41.4L72.9,42.1L72.5,45.7Z"/><path d="M84,45.9L83.8,43.1L86.9,42.3L89.3,43.4L89.4,45.3L86.4,47.5Z"/><path d="M4.2,54.6L7.1,52.7L10.1,53.1L9.5,57.3L6.2,59L3.4,57.6Z"/><path d="M105,54.6L107.9,52.7L110.9,53.1L110.3,57.3L107,59L104.2,57.6Z"/><path d="M19.9,57.9L19.1,55.1L15.9,52.8L14.6,53.3L14.8,57.5L17.8,60.7Z"/><path d="M26.8,56.2L30.4,56.6L32.8,54.9L33.2,53.4L29.7,50.8L26.2,53.4Z"/><path d="M47.2,58.4L44.6,60L41,56.5L41.3,55L44.5,52.6L47.2,54.8Z"/><path d="M59.3,57.2L58.6,54.1L57.4,53.6L53.3,54.9L53.4,58.4L56.1,59.7Z"/><path d="M66.7,55.4L65.9,52.4L69.1,50.3L71.9,52.5L72.4,56.4L69.4,57.1Z"/><path d="M78.4,56L79.8,56.7L83.6,55.2L83.4,52L81,50.5L78.4,52.1Z"/><path d="M95.8,55.7L93.4,57.2L89.7,55.1L89.9,52L92.7,49.5L96.4,52.7Z"/><path d="M-2.5,65.1L-2.9,68.3L1.4,70.7L3.7,68.1L2.4,65.4L-0.1,63.6Z"/><path d="M98.3,65.1L97.9,68.3L102.2,70.7L104.5,68.1L103.2,65.4L100.7,63.6Z"/><path d="M14.8,64L14.6,66L13.4,66.7L9.3,65.4L7.9,62.7L11.3,61.3Z"/><path d="M25.9,62.6L29.5,63.2L30.3,67.9L26.8,69.2L23.3,67.3L23.7,65.3Z"/><path d="M40.6,64L37.1,60.5L34.8,62.3L35.5,67L36.8,67.5L40.1,66.2Z"/><path d="M54,68.9L53.3,65.5L50.6,64.2L48,65.7L47.5,67.8L50,70.3Z"/><path d="M61.9,68.7L64.7,67.1L65.8,63.3L63,61.6L59.9,64.3L60.4,67.8Z"/><path d="M71.4,64.7L74.4,63.8L75.8,64.5L76.6,69.4L74.9,71.3L70.6,68.6Z"/><path d="M83.2,68.2L82.4,63.3L86.2,61.9L90,63.7L89.4,66.9L87.7,68.7Z"/><path d="M7.9,78.7L5.6,77.4L5.4,74.3L7.7,71.8L12,72.5L10.1,77.8Z"/><path d="M16.4,80L18.3,74.7L19.4,74L22.8,76.2L23,80.3L20.2,82Z"/><path d="M31.1,80.5L29.6,79.9L29.2,75.7L32.8,74.5L34,74.9L34.7,79.3Z"/><path d="M44.7,78.7L43.1,80.3L40.2,78.3L39.3,74L42.7,72.6L45.2,75.2Z"/><path d="M58,78.6L57.7,75.7L56.2,74.8L52.2,76.3L51.5,79.9L56.4,80.8Z"/><path d="M65.3,77.5L69.2,78.7L72,76.9L72.2,75.8L67.8,73.3L64.8,74.6Z"/><path d="M80.6,78L83.5,81.1L87.6,79.5L87,75.5L82.6,75L80.8,76.9Z"/><path d="M-0.7,78.3L-1.3,75.3L-5.5,72.6L-7.1,74.3L-6.4,78.3L-4.6,79.7Z"/><path d="M100.1,78.3L99.5,75.3L95.3,72.6L93.7,74.3L94.4,78.3L96.2,79.7Z"/></g>
<g fill="#a34242"><circle cx="0.6" cy="1.3" r="1.6"/><circle cx="0.6" cy="88.6" r="1.6"/><circle cx="101.4" cy="1.3" r="1.6"/><circle cx="101.4" cy="88.6" r="1.6"/><circle cx="14.1" cy="2.3" r="1.6"/><circle cx="14.1" cy="89.6" r="1.6"/><circle cx="26.4" cy="2.2" r="1.6"/><circle cx="26.4" cy="89.5" r="1.6"/><circle cx="35.4" cy="-0.2" r="1.6"/><circle cx="35.4" cy="87.1" r="1.6"/><circle cx="52.7" cy="0.8" r="1.6"/><circle cx="52.7" cy="88.1" r="1.6"/><circle cx="65.1" cy="-2" r="1.6"/><circle cx="65.1" cy="85.3" r="1.6"/><circle cx="75.4" cy="-1.3" r="1.6"/><circle cx="75.4" cy="86" r="1.6"/><circle cx="88.4" cy="0.4" r="1.6"/><circle cx="88.4" cy="87.7" r="1.6"/><circle cx="3.8" cy="9.4" r="1.6"/><circle cx="104.6" cy="9.4" r="1.6"/><circle cx="17.8" cy="13.1" r="1.6"/><circle cx="32.9" cy="9.1" r="1.6"/><circle cx="45.6" cy="9" r="1.6"/><circle cx="57.3" cy="9" r="1.6"/><circle cx="66.7" cy="12.8" r="1.6"/><circle cx="80.4" cy="9.4" r="1.6"/><circle cx="-3.8" cy="12.8" r="1.6"/><circle cx="97" cy="12.8" r="1.6"/><circle cx="-1.1" cy="24.2" r="1.6"/><circle cx="99.7" cy="24.2" r="1.6"/><circle cx="12.8" cy="22.7" r="1.6"/><circle cx="23.7" cy="24.1" r="1.6"/><circle cx="38.8" cy="24.2" r="1.6"/><circle cx="52.4" cy="20.8" r="1.6"/><circle cx="62.3" cy="20.1" r="1.6"/><circle cx="73.8" cy="19.6" r="1.6"/><circle cx="87.2" cy="22.4" r="1.6"/><circle cx="3.7" cy="33.7" r="1.6"/><circle cx="104.5" cy="33.7" r="1.6"/><circle cx="18.1" cy="31.7" r="1.6"/><circle cx="33.2" cy="32.6" r="1.6"/><circle cx="43.1" cy="32.6" r="1.6"/><circle cx="57.8" cy="30.4" r="1.6"/><circle cx="71.8" cy="30.3" r="1.6"/><circle cx="83.2" cy="34.5" r="1.6"/><circle cx="92" cy="34.2" r="1.6"/><circle cx="-0.7" cy="44.1" r="1.6"/><circle cx="100.1" cy="44.1" r="1.6"/><circle cx="10" cy="41.3" r="1.6"/><circle cx="23.5" cy="46" r="1.6"/><circle cx="36.2" cy="45" r="1.6"/><circle cx="52.6" cy="45.9" r="1.6"/><circle cx="62.2" cy="42.9" r="1.6"/><circle cx="75.7" cy="45.1" r="1.6"/><circle cx="86.2" cy="44.9" r="1.6"/><circle cx="7.8" cy="56.4" r="1.6"/><circle cx="108.6" cy="56.4" r="1.6"/><circle cx="16.5" cy="56.9" r="1.6"/><circle cx="29.4" cy="53.7" r="1.6"/><circle cx="44.7" cy="56.7" r="1.6"/><circle cx="55.9" cy="56.8" r="1.6"/><circle cx="69.5" cy="53.6" r="1.6"/><circle cx="80.9" cy="52.9" r="1.6"/><circle cx="92.3" cy="52.7" r="1.6"/><circle cx="1" cy="68.1" r="1.6"/><circle cx="101.8" cy="68.1" r="1.6"/><circle cx="10.8" cy="63.1" r="1.6"/><circle cx="27.7" cy="65.6" r="1.6"/><circle cx="37.3" cy="64.1" r="1.6"/><circle cx="50.9" cy="67.2" r="1.6"/><circle cx="62.8" cy="65.1" r="1.6"/><circle cx="73.3" cy="67.6" r="1.6"/><circle cx="85.8" cy="65.4" r="1.6"/><circle cx="8.1" cy="74.5" r="1.6"/><circle cx="20.1" cy="78.7" r="1.6"/><circle cx="32.2" cy="77.9" r="1.6"/><circle cx="42.1" cy="76" r="1.6"/><circle cx="54.9" cy="78.2" r="1.6"/><circle cx="68.2" cy="76.1" r="1.6"/><circle cx="84.5" cy="78.2" r="1.6"/><circle cx="-3.8" cy="76.1" r="1.6"/><circle cx="97" cy="76.1" r="1.6"/></g>
</pattern>
<filter id="b1" x="-5%" y="-20%" width="110%" height="140%"><feGaussianBlur stdDeviation="1.1"/></filter>
<filter id="b2" x="-5%" y="-10%" width="110%" height="120%"><feGaussianBlur stdDeviation="1.2"/></filter>
<radialGradient id="fatg" cx="0.47" cy="0.45" r="0.56"><stop offset="0" stop-color="#fbe4aa"/><stop offset="0.45" stop-color="#f8d284"/><stop offset="0.8" stop-color="#f0b54e"/><stop offset="1" stop-color="#df942a"/></radialGradient>
<linearGradient id="wg0" gradientUnits="userSpaceOnUse" x1="503" y1="0" x2="652" y2="0"><stop offset="0" stop-color="#fffef6" stop-opacity="0.0"/><stop offset="0.05" stop-color="#fffef6" stop-opacity="0.3"/><stop offset="0.12" stop-color="#fffef6" stop-opacity="0.7"/><stop offset="0.2" stop-color="#fffef6" stop-opacity="0.95"/><stop offset="0.28" stop-color="#fffef6" stop-opacity="1.0"/><stop offset="0.72" stop-color="#fffef6" stop-opacity="1.0"/><stop offset="0.8" stop-color="#fffef6" stop-opacity="0.95"/><stop offset="0.88" stop-color="#fffef6" stop-opacity="0.7"/><stop offset="0.95" stop-color="#fffef6" stop-opacity="0.3"/><stop offset="1" stop-color="#fffef6" stop-opacity="0.0"/></linearGradient><linearGradient id="wg1" gradientUnits="userSpaceOnUse" x1="472" y1="0" x2="688" y2="0"><stop offset="0" stop-color="#fffdf2" stop-opacity="0.0"/><stop offset="0.05" stop-color="#fffdf2" stop-opacity="0.3"/><stop offset="0.12" stop-color="#fffdf2" stop-opacity="0.7"/><stop offset="0.2" stop-color="#fffdf2" stop-opacity="0.95"/><stop offset="0.28" stop-color="#fffdf2" stop-opacity="1.0"/><stop offset="0.72" stop-color="#fffdf2" stop-opacity="1.0"/><stop offset="0.8" stop-color="#fffdf2" stop-opacity="0.95"/><stop offset="0.88" stop-color="#fffdf2" stop-opacity="0.7"/><stop offset="0.95" stop-color="#fffdf2" stop-opacity="0.3"/><stop offset="1" stop-color="#fffdf2" stop-opacity="0.0"/></linearGradient><linearGradient id="wg2" gradientUnits="userSpaceOnUse" x1="440" y1="0" x2="722" y2="0"><stop offset="0" stop-color="#fffcee" stop-opacity="0.0"/><stop offset="0.05" stop-color="#fffcee" stop-opacity="0.3"/><stop offset="0.12" stop-color="#fffcee" stop-opacity="0.7"/><stop offset="0.2" stop-color="#fffcee" stop-opacity="0.95"/><stop offset="0.28" stop-color="#fffcee" stop-opacity="1.0"/><stop offset="0.72" stop-color="#fffcee" stop-opacity="1.0"/><stop offset="0.8" stop-color="#fffcee" stop-opacity="0.95"/><stop offset="0.88" stop-color="#fffcee" stop-opacity="0.7"/><stop offset="0.95" stop-color="#fffcee" stop-opacity="0.3"/><stop offset="1" stop-color="#fffcee" stop-opacity="0.0"/></linearGradient><linearGradient id="wg3" gradientUnits="userSpaceOnUse" x1="412" y1="0" x2="735" y2="0"><stop offset="0" stop-color="#fdf8dc" stop-opacity="0.0"/><stop offset="0.05" stop-color="#fdf8dc" stop-opacity="0.28"/><stop offset="0.12" stop-color="#fdf8dc" stop-opacity="0.66"/><stop offset="0.2" stop-color="#fdf8dc" stop-opacity="0.9"/><stop offset="0.28" stop-color="#fdf8dc" stop-opacity="0.95"/><stop offset="0.72" stop-color="#fdf8dc" stop-opacity="0.95"/><stop offset="0.8" stop-color="#fdf8dc" stop-opacity="0.9"/><stop offset="0.88" stop-color="#fdf8dc" stop-opacity="0.66"/><stop offset="0.95" stop-color="#fdf8dc" stop-opacity="0.28"/><stop offset="1" stop-color="#fdf8dc" stop-opacity="0.0"/></linearGradient><linearGradient id="wg4" gradientUnits="userSpaceOnUse" x1="392" y1="0" x2="732" y2="0"><stop offset="0" stop-color="#fffbe8" stop-opacity="0.0"/><stop offset="0.05" stop-color="#fffbe8" stop-opacity="0.3"/><stop offset="0.12" stop-color="#fffbe8" stop-opacity="0.7"/><stop offset="0.2" stop-color="#fffbe8" stop-opacity="0.95"/><stop offset="0.28" stop-color="#fffbe8" stop-opacity="1.0"/><stop offset="0.72" stop-color="#fffbe8" stop-opacity="1.0"/><stop offset="0.8" stop-color="#fffbe8" stop-opacity="0.95"/><stop offset="0.88" stop-color="#fffbe8" stop-opacity="0.7"/><stop offset="0.95" stop-color="#fffbe8" stop-opacity="0.3"/><stop offset="1" stop-color="#fffbe8" stop-opacity="0.0"/></linearGradient><linearGradient id="stem" x1="0" y1="0" x2="0" y2="1"><stop offset="0" stop-color="#a0a0a0"/><stop offset="0.85" stop-color="#000"/></linearGradient>
</defs>
<rect x="119.5" y="319" width="716" height="33" fill="#fdfdfd"/>
<!-- label lines -->
<g stroke="#111" stroke-width="2.2">
<line x1="253.7" y1="420.8" x2="330" y2="420.8"/><line x1="253.7" y1="569.4" x2="330" y2="569.4"/>
<line x1="253.7" y1="768.4" x2="332.5" y2="768.4"/><line x1="253.7" y1="915.5" x2="332.5" y2="915.5"/>
</g>
<!-- arrow -->
<rect x="575" y="674.7" width="35.1" height="27" fill="url(#stem)"/>
<polygon points="563.7,699.5 621.4,699.5 592.9,727.6" fill="#000"/>
<clipPath id="clip1"><path d="M329.5,390.9C333.2,391 343.4,391.1 351.5,391.5C359.6,391.9 369.1,393.4 377.9,393.6C386.7,393.8 395.6,393.2 404.4,392.8C413.2,392.4 422.1,391.3 430.9,390.9C439.7,390.5 448.5,390.3 457.3,390.4C466.1,390.5 475,391 483.8,391.5C492.6,392 501.5,392.8 510.3,393.6C519.1,394.4 528.4,395.5 536.7,396.2C545,396.9 549.5,397.3 560,397.6C570.5,397.9 588,398.1 600,398C612,397.9 622.8,396.8 631.9,397C641,397.2 646.2,399.1 654.4,399.4C662.6,399.7 673.4,399.5 680.9,398.9C688.4,398.3 693.2,396.7 699.4,395.7C705.6,394.7 711.3,393.8 717.9,393.1C724.5,392.4 732,391.8 739.1,391.7C746.2,391.6 752.3,392.1 760.3,392.8C768.2,393.5 778,395.1 786.8,395.7C795.6,396.3 805.4,396.4 813.2,396.2C821,396 830.2,394.7 833.6,394.4L833.6,599.2 L329.5,599.2 Z"/></clipPath>
<g clip-path="url(#clip1)">
<linearGradient id="bg1" gradientUnits="userSpaceOnUse" x1="0" y1="391.4" x2="0" y2="405.4"><stop offset="0" stop-color="#deb18d"/><stop offset="1" stop-color="#efc6ac"/></linearGradient>
<rect x="329.5" y="388.4" width="504.1" height="210.8" fill="url(#bg1)"/>
<rect x="329.5" y="446" width="504.1" height="153.2" fill="url(#cells1)"/>
<path d="M329.5,403C333.1,403.1 342.9,402.8 351,403.5C359.1,404.2 369.1,406.9 377.9,407C386.7,407.1 395.3,404.8 404,404C412.7,403.2 421.2,402.3 430,402C438.8,401.7 448,401.8 457,402C466,402.2 475,402.3 483.8,403C492.6,403.7 503,405.1 510,406C517,406.9 520.2,408.8 526,408.5C531.8,408.2 536,405 545,404C554,403 567.5,402.8 580,402.5C592.5,402.2 610,402.2 620,402.5C630,402.8 634.3,403.7 640,404.5C645.7,405.3 645,406.6 654,407.4C663,408.1 683,409.6 694,409C705,408.4 711.2,404.8 720,403.6C728.8,402.4 735.9,401.7 747,402C758.1,402.3 775.8,404.6 786.8,405.5C797.8,406.4 805.2,407.2 813,407.5C820.8,407.8 830.2,407.1 833.6,407L845,437C830.8,437 780.8,437.2 760,437C739.2,436.8 733.3,436 720,435.5C706.7,435 693.3,433.8 680,434C666.7,434.2 655,435.5 640,436.5C625,437.5 601.7,438.6 590,440C578.3,441.4 576.7,443.5 570,445C563.3,446.5 557,448.8 550,449C543,449.2 537.8,447.4 527.8,446C517.8,444.6 502.1,441.8 490,440.5C477.9,439.2 483.3,438.8 455,438.5C426.7,438.2 342.5,438.5 320,438.5Z" fill="#ee9c88"/>
<g fill="#fbdccc" filter="url(#b1)" opacity="0.85"><g transform="translate(324.8,403) skewX(0)"><ellipse cx="0" cy="11.7" rx="7.2" ry="3.2"/><ellipse cx="0" cy="24.1" rx="7.2" ry="3.2"/></g><g transform="translate(341.8,403.3) skewX(0)"><ellipse cx="0" cy="6" rx="7.2" ry="3.2"/><ellipse cx="0" cy="17.3" rx="7.2" ry="3.2"/><ellipse cx="0" cy="28.6" rx="7.2" ry="3.2"/></g><g transform="translate(358.8,404.5) skewX(0)"><ellipse cx="0" cy="11.2" rx="7.2" ry="3.2"/><ellipse cx="0" cy="23" rx="7.2" ry="3.2"/></g><g transform="translate(375.8,406.7) skewX(0)"><ellipse cx="0" cy="5.4" rx="7.2" ry="3.2"/><ellipse cx="0" cy="15.5" rx="7.2" ry="3.2"/><ellipse cx="0" cy="25.6" rx="7.2" ry="3.2"/></g><g transform="translate(392.8,405.3) skewX(0)"><ellipse cx="0" cy="10.9" rx="7.2" ry="3.2"/><ellipse cx="0" cy="22.5" rx="7.2" ry="3.2"/></g><g transform="translate(409.8,403.6) skewX(0)"><ellipse cx="0" cy="5.9" rx="7.2" ry="3.2"/><ellipse cx="0" cy="17.1" rx="7.2" ry="3.2"/><ellipse cx="0" cy="28.3" rx="7.2" ry="3.2"/></g><g transform="translate(426.8,402.2) skewX(0)"><ellipse cx="0" cy="12" rx="7.2" ry="3.2"/><ellipse cx="0" cy="24.7" rx="7.2" ry="3.2"/></g><g transform="translate(443.8,402) skewX(0)"><ellipse cx="0" cy="6.2" rx="7.2" ry="3.2"/><ellipse cx="0" cy="17.9" rx="7.2" ry="3.2"/><ellipse cx="0" cy="29.7" rx="7.2" ry="3.2"/></g><g transform="translate(460.8,402.1) skewX(0)"><ellipse cx="0" cy="12.1" rx="7.2" ry="3.2"/><ellipse cx="0" cy="25" rx="7.2" ry="3.2"/></g><g transform="translate(477.8,402.8) skewX(0)"><ellipse cx="0" cy="6.3" rx="7.2" ry="3.2"/><ellipse cx="0" cy="18.2" rx="7.2" ry="3.2"/><ellipse cx="0" cy="30.1" rx="7.2" ry="3.2"/></g><g transform="translate(494.8,404.3) skewX(-4.2)"><ellipse cx="0" cy="12.2" rx="7.2" ry="3.2"/><ellipse cx="0" cy="25.2" rx="7.2" ry="3.2"/></g><g transform="translate(511.8,406.3) skewX(-8.9)"><ellipse cx="0" cy="6.4" rx="7.2" ry="3.2"/><ellipse cx="0" cy="18.4" rx="7.2" ry="3.2"/><ellipse cx="0" cy="30.4" rx="7.2" ry="3.2"/></g><g transform="translate(528.8,407.8) skewX(-13.1)"><ellipse cx="0" cy="12.7" rx="7.2" ry="3.2"/><ellipse cx="0" cy="26.1" rx="7.2" ry="3.2"/></g><g transform="translate(545.8,404) skewX(-16.7)"><ellipse cx="0" cy="7.6" rx="7.2" ry="3.2"/><ellipse cx="0" cy="22.1" rx="7.2" ry="3.2"/><ellipse cx="0" cy="36.5" rx="7.2" ry="3.2"/></g><g transform="translate(562.8,403.2) skewX(-19.4)"><ellipse cx="0" cy="14.4" rx="7.2" ry="3.2"/><ellipse cx="0" cy="29.7" rx="7.2" ry="3.2"/></g><g transform="translate(579.8,402.5) skewX(-21.2)"><ellipse cx="0" cy="6.8" rx="7.2" ry="3.2"/><ellipse cx="0" cy="19.8" rx="7.2" ry="3.2"/><ellipse cx="0" cy="32.7" rx="7.2" ry="3.2"/></g><g transform="translate(596.8,402.5) skewX(-22)"><ellipse cx="0" cy="12.3" rx="7.2" ry="3.2"/><ellipse cx="0" cy="25.2" rx="7.2" ry="3.2"/></g><g transform="translate(613.8,402.5) skewX(-21.6)"><ellipse cx="0" cy="6.1" rx="7.2" ry="3.2"/><ellipse cx="0" cy="17.6" rx="7.2" ry="3.2"/><ellipse cx="0" cy="29.1" rx="7.2" ry="3.2"/></g><g transform="translate(630.8,403.6) skewX(-20.2)"><ellipse cx="0" cy="11" rx="7.2" ry="3.2"/><ellipse cx="0" cy="22.7" rx="7.2" ry="3.2"/></g><g transform="translate(647.8,406.1) skewX(-17.8)"><ellipse cx="0" cy="5" rx="7.2" ry="3.2"/><ellipse cx="0" cy="14.5" rx="7.2" ry="3.2"/><ellipse cx="0" cy="24" rx="7.2" ry="3.2"/></g><g transform="translate(664.8,407.8) skewX(-14.5)"><ellipse cx="0" cy="8.8" rx="7.2" ry="3.2"/><ellipse cx="0" cy="18.1" rx="7.2" ry="3.2"/></g><g transform="translate(681.8,408.5) skewX(-10.5)"><ellipse cx="0" cy="4.2" rx="7.2" ry="3.2"/><ellipse cx="0" cy="12.2" rx="7.2" ry="3.2"/><ellipse cx="0" cy="20.3" rx="7.2" ry="3.2"/></g><g transform="translate(698.8,408) skewX(-6)"><ellipse cx="0" cy="8.6" rx="7.2" ry="3.2"/><ellipse cx="0" cy="17.8" rx="7.2" ry="3.2"/></g><g transform="translate(715.8,404.5) skewX(-1.2)"><ellipse cx="0" cy="5.2" rx="7.2" ry="3.2"/><ellipse cx="0" cy="15" rx="7.2" ry="3.2"/><ellipse cx="0" cy="24.8" rx="7.2" ry="3.2"/></g><g transform="translate(732.8,402.8) skewX(0)"><ellipse cx="0" cy="10.9" rx="7.2" ry="3.2"/><ellipse cx="0" cy="22.4" rx="7.2" ry="3.2"/></g><g transform="translate(749.8,402.2) skewX(0)"><ellipse cx="0" cy="5.8" rx="7.2" ry="3.2"/><ellipse cx="0" cy="16.8" rx="7.2" ry="3.2"/><ellipse cx="0" cy="27.8" rx="7.2" ry="3.2"/></g><g transform="translate(766.8,403.7) skewX(0)"><ellipse cx="0" cy="10.9" rx="7.2" ry="3.2"/><ellipse cx="0" cy="22.5" rx="7.2" ry="3.2"/></g><g transform="translate(783.8,405.2) skewX(0)"><ellipse cx="0" cy="5.4" rx="7.2" ry="3.2"/><ellipse cx="0" cy="15.5" rx="7.2" ry="3.2"/><ellipse cx="0" cy="25.6" rx="7.2" ry="3.2"/></g><g transform="translate(800.8,406.6) skewX(0)"><ellipse cx="0" cy="10" rx="7.2" ry="3.2"/><ellipse cx="0" cy="20.5" rx="7.2" ry="3.2"/></g><g transform="translate(817.8,407.4) skewX(0)"><ellipse cx="0" cy="5" rx="7.2" ry="3.2"/><ellipse cx="0" cy="14.4" rx="7.2" ry="3.2"/><ellipse cx="0" cy="23.8" rx="7.2" ry="3.2"/></g><g transform="translate(834.8,407) skewX(0)"><ellipse cx="0" cy="9.8" rx="7.2" ry="3.2"/><ellipse cx="0" cy="20.2" rx="7.2" ry="3.2"/></g></g><path d="M324.8,407.7C327.6,407.1 336.1,403.7 341.8,404C347.5,404.2 353.1,408.4 358.8,409C364.5,409.6 370.1,407.2 375.8,407.3C381.5,407.4 387.1,410.2 392.8,409.7C398.5,409.1 404.1,404.6 409.8,404.2C415.5,403.8 421.1,407.3 426.8,407C432.5,406.8 438.1,402.7 443.8,402.7C449.5,402.7 455.1,406.9 460.8,407C466.5,407.1 472.1,403.1 477.8,403.5C483.5,403.8 489.1,408.6 494.8,409.2C500.5,409.7 506.1,406.4 511.8,407C517.5,407.6 523.1,413.3 528.8,412.9C534.5,412.6 540.1,405.5 545.8,404.8C551.5,404.2 557.1,409.3 562.8,409C568.5,408.7 574.1,403.5 579.8,403.3C585.5,403 591.1,407.4 596.8,407.4C602.5,407.4 608.1,403.1 613.8,403.2C619.5,403.3 625.1,407.4 630.8,408C636.5,408.6 642.1,406.1 647.8,406.7C653.5,407.2 659.1,411 664.8,411.3C670.5,411.7 676.1,409 681.8,409C687.5,409 693.1,412.1 698.8,411.5C704.5,410.8 710.1,405.8 715.8,405C721.5,404.3 727.1,407.6 732.8,407.2C738.5,406.8 744.1,402.7 749.8,402.9C755.5,403 761.1,407.6 766.8,408.1C772.5,408.6 778.1,405.4 783.8,405.8C789.5,406.2 795.1,410.2 800.8,410.5C806.5,410.9 812.1,407.9 817.8,407.9C823.5,408 832,410.4 834.8,410.9" fill="none" stroke="#5a0f2d" stroke-width="1.8"/><g fill="#5a0f2d"><g transform="translate(324.8,403) skewX(0)"><line x1="0" y1="1.3" x2="0" y2="34.5" stroke-width="2.6" stroke="#64122f"/><circle cx="0" cy="11.7" r="3.1"/><circle cx="0" cy="11.7" r="1" fill="#c8708a"/><circle cx="0" cy="24.1" r="3.1"/><circle cx="0" cy="24.1" r="1" fill="#c8708a"/><line x1="-3.2" y1="6" x2="3.2" y2="6" stroke-width="1.5" stroke="#5a0f2d"/><line x1="-3.2" y1="17.8" x2="3.2" y2="17.8" stroke-width="1.5" stroke="#5a0f2d"/><line x1="-3.2" y1="30.2" x2="3.2" y2="30.2" stroke-width="1.5" stroke="#5a0f2d"/><line x1="-3.2" y1="32.5" x2="3.2" y2="32.5" stroke-width="1.5" stroke="#5a0f2d"/><path d="M-5,2 Q0,5.4 5,2" fill="none" stroke="#5a0f2d" stroke-width="2.4"/></g><g transform="translate(341.8,403.3) skewX(0)"><line x1="0" y1="1.3" x2="0" y2="34.2" stroke-width="2.6" stroke="#64122f"/><circle cx="0" cy="6" r="3.1"/><circle cx="0" cy="6" r="1" fill="#c8708a"/><circle cx="0" cy="17.3" r="3.1"/><circle cx="0" cy="17.3" r="1" fill="#c8708a"/><circle cx="0" cy="28.6" r="3.1"/><circle cx="0" cy="28.6" r="1" fill="#c8708a"/><line x1="-3.2" y1="11.6" x2="3.2" y2="11.6" stroke-width="1.5" stroke="#5a0f2d"/><line x1="-3.2" y1="22.9" x2="3.2" y2="22.9" stroke-width="1.5" stroke="#5a0f2d"/><line x1="-3.2" y1="33.2" x2="3.2" y2="33.2" stroke-width="1.5" stroke="#5a0f2d"/><ellipse cx="0" cy="1" rx="2.8" ry="1.8"/></g><g transform="translate(358.8,404.5) skewX(0)"><line x1="0" y1="1.3" x2="0" y2="33" stroke-width="2.6" stroke="#64122f"/><circle cx="0" cy="11.2" r="3.1"/><circle cx="0" cy="11.2" r="1" fill="#c8708a"/><circle cx="0" cy="23" r="3.1"/><circle cx="0" cy="23" r="1" fill="#c8708a"/><line x1="-3.2" y1="5.8" x2="3.2" y2="5.8" stroke-width="1.5" stroke="#5a0f2d"/><line x1="-3.2" y1="17" x2="3.2" y2="17" stroke-width="1.5" stroke="#5a0f2d"/><line x1="-3.2" y1="28.8" x2="3.2" y2="28.8" stroke-width="1.5" stroke="#5a0f2d"/><line x1="-3.2" y1="31" x2="3.2" y2="31" stroke-width="1.5" stroke="#5a0f2d"/><path d="M-5,1.9 Q0,5.1 5,1.9" fill="none" stroke="#5a0f2d" stroke-width="2.4"/></g><g transform="translate(375.8,406.7) skewX(0)"><line x1="0" y1="1.2" x2="0" y2="30.8" stroke-width="2.6" stroke="#64122f"/><circle cx="0" cy="5.4" r="3.1"/><circle cx="0" cy="5.4" r="1" fill="#c8708a"/><circle cx="0" cy="15.5" r="3.1"/><circle cx="0" cy="15.5" r="1" fill="#c8708a"/><circle cx="0" cy="25.6" r="3.1"/><circle cx="0" cy="25.6" r="1" fill="#c8708a"/><line x1="-3.2" y1="10.4" x2="3.2" y2="10.4" stroke-width="1.5" stroke="#5a0f2d"/><line x1="-3.2" y1="20.5" x2="3.2" y2="20.5" stroke-width="1.5" stroke="#5a0f2d"/><line x1="-3.2" y1="29.8" x2="3.2" y2="29.8" stroke-width="1.5" stroke="#5a0f2d"/><ellipse cx="0" cy="0.9" rx="2.8" ry="1.8"/></g><g transform="translate(392.8,405.3) skewX(0)"><line x1="0" y1="1.2" x2="0" y2="32.2" stroke-width="2.6" stroke="#64122f"/><circle cx="0" cy="10.9" r="3.1"/><circle cx="0" cy="10.9" r="1" fill="#c8708a"/><circle cx="0" cy="22.5" r="3.1"/><circle cx="0" cy="22.5" r="1" fill="#c8708a"/><line x1="-3.2" y1="5.6" x2="3.2" y2="5.6" stroke-width="1.5" stroke="#5a0f2d"/><line x1="-3.2" y1="16.5" x2="3.2" y2="16.5" stroke-width="1.5" stroke="#5a0f2d"/><line x1="-3.2" y1="28.1" x2="3.2" y2="28.1" stroke-width="1.5" stroke="#5a0f2d"/><line x1="-3.2" y1="30.3" x2="3.2" y2="30.3" stroke-width="1.5" stroke="#5a0f2d"/><path d="M-5,1.9 Q0,5 5,1.9" fill="none" stroke="#5a0f2d" stroke-width="2.4"/></g><g transform="translate(409.8,403.6) skewX(0)"><line x1="0" y1="1.3" x2="0" y2="33.9" stroke-width="2.6" stroke="#64122f"/><circle cx="0" cy="5.9" r="3.1"/><circle cx="0" cy="5.9" r="1" fill="#c8708a"/><circle cx="0" cy="17.1" r="3.1"/><circle cx="0" cy="17.1" r="1" fill="#c8708a"/><circle cx="0" cy="28.3" r="3.1"/><circle cx="0" cy="28.3" r="1" fill="#c8708a"/><line x1="-3.2" y1="11.5" x2="3.2" y2="11.5" stroke-width="1.5" stroke="#5a0f2d"/><line x1="-3.2" y1="22.7" x2="3.2" y2="22.7" stroke-width="1.5" stroke="#5a0f2d"/><line x1="-3.2" y1="32.9" x2="3.2" y2="32.9" stroke-width="1.5" stroke="#5a0f2d"/><ellipse cx="0" cy="1" rx="2.8" ry="1.8"/></g><g transform="translate(426.8,402.2) skewX(0)"><line x1="0" y1="1.4" x2="0" y2="35.3" stroke-width="2.6" stroke="#64122f"/><circle cx="0" cy="12" r="3.1"/><circle cx="0" cy="12" r="1" fill="#c8708a"/><circle cx="0" cy="24.7" r="3.1"/><circle cx="0" cy="24.7" r="1" fill="#c8708a"/><line x1="-3.2" y1="6.2" x2="3.2" y2="6.2" stroke-width="1.5" stroke="#5a0f2d"/><line x1="-3.2" y1="18.2" x2="3.2" y2="18.2" stroke-width="1.5" stroke="#5a0f2d"/><line x1="-3.2" y1="30.8" x2="3.2" y2="30.8" stroke-width="1.5" stroke="#5a0f2d"/><line x1="-3.2" y1="33.2" x2="3.2" y2="33.2" stroke-width="1.5" stroke="#5a0f2d"/><path d="M-5,2.1 Q0,5.5 5,2.1" fill="none" stroke="#5a0f2d" stroke-width="2.4"/></g><g transform="translate(443.8,402) skewX(0)"><line x1="0" y1="1.4" x2="0" y2="35.5" stroke-width="2.6" stroke="#64122f"/><circle cx="0" cy="6.2" r="3.1"/><circle cx="0" cy="6.2" r="1" fill="#c8708a"/><circle cx="0" cy="17.9" r="3.1"/><circle cx="0" cy="17.9" r="1" fill="#c8708a"/><circle cx="0" cy="29.7" r="3.1"/><circle cx="0" cy="29.7" r="1" fill="#c8708a"/><line x1="-3.2" y1="12.1" x2="3.2" y2="12.1" stroke-width="1.5" stroke="#5a0f2d"/><line x1="-3.2" y1="23.8" x2="3.2" y2="23.8" stroke-width="1.5" stroke="#5a0f2d"/><line x1="-3.2" y1="34.5" x2="3.2" y2="34.5" stroke-width="1.5" stroke="#5a0f2d"/><ellipse cx="0" cy="1" rx="2.8" ry="1.8"/></g><g transform="translate(460.8,402.1) skewX(0)"><line x1="0" y1="1.4" x2="0" y2="35.7" stroke-width="2.6" stroke="#64122f"/><circle cx="0" cy="12.1" r="3.1"/><circle cx="0" cy="12.1" r="1" fill="#c8708a"/><circle cx="0" cy="25" r="3.1"/><circle cx="0" cy="25" r="1" fill="#c8708a"/><line x1="-3.2" y1="6.2" x2="3.2" y2="6.2" stroke-width="1.5" stroke="#5a0f2d"/><line x1="-3.2" y1="18.4" x2="3.2" y2="18.4" stroke-width="1.5" stroke="#5a0f2d"/><line x1="-3.2" y1="31.2" x2="3.2" y2="31.2" stroke-width="1.5" stroke="#5a0f2d"/><line x1="-3.2" y1="33.6" x2="3.2" y2="33.6" stroke-width="1.5" stroke="#5a0f2d"/><path d="M-5,2.1 Q0,5.6 5,2.1" fill="none" stroke="#5a0f2d" stroke-width="2.4"/></g><g transform="translate(477.8,402.8) skewX(0)"><line x1="0" y1="1.4" x2="0" y2="36" stroke-width="2.6" stroke="#64122f"/><circle cx="0" cy="6.3" r="3.1"/><circle cx="0" cy="6.3" r="1" fill="#c8708a"/><circle cx="0" cy="18.2" r="3.1"/><circle cx="0" cy="18.2" r="1" fill="#c8708a"/><circle cx="0" cy="30.1" r="3.1"/><circle cx="0" cy="30.1" r="1" fill="#c8708a"/><line x1="-3.2" y1="12.3" x2="3.2" y2="12.3" stroke-width="1.5" stroke="#5a0f2d"/><line x1="-3.2" y1="24.2" x2="3.2" y2="24.2" stroke-width="1.5" stroke="#5a0f2d"/><line x1="-3.2" y1="35" x2="3.2" y2="35" stroke-width="1.5" stroke="#5a0f2d"/><ellipse cx="0" cy="1.1" rx="2.8" ry="1.8"/></g><g transform="translate(494.8,404.3) skewX(-4.2)"><line x1="0" y1="1.4" x2="0" y2="35.9" stroke-width="2.6" stroke="#64122f"/><circle cx="0" cy="12.2" r="3.1"/><circle cx="0" cy="12.2" r="1" fill="#c8708a"/><circle cx="0" cy="25.2" r="3.1"/><circle cx="0" cy="25.2" r="1" fill="#c8708a"/><line x1="-3.2" y1="6.3" x2="3.2" y2="6.3" stroke-width="1.5" stroke="#5a0f2d"/><line x1="-3.2" y1="18.5" x2="3.2" y2="18.5" stroke-width="1.5" stroke="#5a0f2d"/><line x1="-3.2" y1="31.4" x2="3.2" y2="31.4" stroke-width="1.5" stroke="#5a0f2d"/><line x1="-3.2" y1="33.9" x2="3.2" y2="33.9" stroke-width="1.5" stroke="#5a0f2d"/><path d="M-5,2.1 Q0,5.6 5,2.1" fill="none" stroke="#5a0f2d" stroke-width="2.4"/></g><g transform="translate(511.8,406.3) skewX(-8.9)"><line x1="0" y1="1.4" x2="0" y2="36.4" stroke-width="2.6" stroke="#64122f"/><circle cx="0" cy="6.4" r="3.1"/><circle cx="0" cy="6.4" r="1" fill="#c8708a"/><circle cx="0" cy="18.4" r="3.1"/><circle cx="0" cy="18.4" r="1" fill="#c8708a"/><circle cx="0" cy="30.4" r="3.1"/><circle cx="0" cy="30.4" r="1" fill="#c8708a"/><line x1="-3.2" y1="12.4" x2="3.2" y2="12.4" stroke-width="1.5" stroke="#5a0f2d"/><line x1="-3.2" y1="24.4" x2="3.2" y2="24.4" stroke-width="1.5" stroke="#5a0f2d"/><line x1="-3.2" y1="35.4" x2="3.2" y2="35.4" stroke-width="1.5" stroke="#5a0f2d"/><ellipse cx="0" cy="1.1" rx="2.8" ry="1.8"/></g><g transform="translate(528.8,407.8) skewX(-13.1)"><line x1="0" y1="1.5" x2="0" y2="37.3" stroke-width="2.6" stroke="#64122f"/><circle cx="0" cy="12.7" r="3.1"/><circle cx="0" cy="12.7" r="1" fill="#c8708a"/><circle cx="0" cy="26.1" r="3.1"/><circle cx="0" cy="26.1" r="1" fill="#c8708a"/><line x1="-3.2" y1="6.5" x2="3.2" y2="6.5" stroke-width="1.5" stroke="#5a0f2d"/><line x1="-3.2" y1="19.2" x2="3.2" y2="19.2" stroke-width="1.5" stroke="#5a0f2d"/><line x1="-3.2" y1="32.7" x2="3.2" y2="32.7" stroke-width="1.5" stroke="#5a0f2d"/><line x1="-3.2" y1="35.2" x2="3.2" y2="35.2" stroke-width="1.5" stroke="#5a0f2d"/><path d="M-5,2.2 Q0,5.8 5,2.2" fill="none" stroke="#5a0f2d" stroke-width="2.4"/></g><g transform="translate(545.8,404) skewX(-16.7)"><line x1="0" y1="1.7" x2="0" y2="43.5" stroke-width="2.6" stroke="#64122f"/><circle cx="0" cy="7.6" r="3.1"/><circle cx="0" cy="7.6" r="1" fill="#c8708a"/><circle cx="0" cy="22.1" r="3.1"/><circle cx="0" cy="22.1" r="1" fill="#c8708a"/><circle cx="0" cy="36.5" r="3.1"/><circle cx="0" cy="36.5" r="1" fill="#c8708a"/><line x1="-3.2" y1="14.9" x2="3.2" y2="14.9" stroke-width="1.5" stroke="#5a0f2d"/><line x1="-3.2" y1="29.3" x2="3.2" y2="29.3" stroke-width="1.5" stroke="#5a0f2d"/><line x1="-3.2" y1="42.5" x2="3.2" y2="42.5" stroke-width="1.5" stroke="#5a0f2d"/><ellipse cx="0" cy="1.3" rx="2.8" ry="1.8"/></g><g transform="translate(562.8,403.2) skewX(-19.4)"><line x1="0" y1="1.6" x2="0" y2="42.2" stroke-width="2.6" stroke="#64122f"/><circle cx="0" cy="14.4" r="3.1"/><circle cx="0" cy="14.4" r="1" fill="#c8708a"/><circle cx="0" cy="29.7" r="3.1"/><circle cx="0" cy="29.7" r="1" fill="#c8708a"/><line x1="-3.2" y1="7.4" x2="3.2" y2="7.4" stroke-width="1.5" stroke="#5a0f2d"/><line x1="-3.2" y1="21.8" x2="3.2" y2="21.8" stroke-width="1.5" stroke="#5a0f2d"/><line x1="-3.2" y1="37.1" x2="3.2" y2="37.1" stroke-width="1.5" stroke="#5a0f2d"/><line x1="-3.2" y1="40" x2="3.2" y2="40" stroke-width="1.5" stroke="#5a0f2d"/><path d="M-5,2.5 Q0,6.6 5,2.5" fill="none" stroke="#5a0f2d" stroke-width="2.4"/></g><g transform="translate(579.8,402.5) skewX(-21.2)"><line x1="0" y1="1.5" x2="0" y2="39" stroke-width="2.6" stroke="#64122f"/><circle cx="0" cy="6.8" r="3.1"/><circle cx="0" cy="6.8" r="1" fill="#c8708a"/><circle cx="0" cy="19.8" r="3.1"/><circle cx="0" cy="19.8" r="1" fill="#c8708a"/><circle cx="0" cy="32.7" r="3.1"/><circle cx="0" cy="32.7" r="1" fill="#c8708a"/><line x1="-3.2" y1="13.3" x2="3.2" y2="13.3" stroke-width="1.5" stroke="#5a0f2d"/><line x1="-3.2" y1="26.2" x2="3.2" y2="26.2" stroke-width="1.5" stroke="#5a0f2d"/><line x1="-3.2" y1="38" x2="3.2" y2="38" stroke-width="1.5" stroke="#5a0f2d"/><ellipse cx="0" cy="1.1" rx="2.8" ry="1.8"/></g><g transform="translate(596.8,402.5) skewX(-22)"><line x1="0" y1="1.4" x2="0" y2="36" stroke-width="2.6" stroke="#64122f"/><circle cx="0" cy="12.3" r="3.1"/><circle cx="0" cy="12.3" r="1" fill="#c8708a"/><circle cx="0" cy="25.2" r="3.1"/><circle cx="0" cy="25.2" r="1" fill="#c8708a"/><line x1="-3.2" y1="6.3" x2="3.2" y2="6.3" stroke-width="1.5" stroke="#5a0f2d"/><line x1="-3.2" y1="18.6" x2="3.2" y2="18.6" stroke-width="1.5" stroke="#5a0f2d"/><line x1="-3.2" y1="31.5" x2="3.2" y2="31.5" stroke-width="1.5" stroke="#5a0f2d"/><line x1="-3.2" y1="34" x2="3.2" y2="34" stroke-width="1.5" stroke="#5a0f2d"/><path d="M-5,2.1 Q0,5.6 5,2.1" fill="none" stroke="#5a0f2d" stroke-width="2.4"/></g><g transform="translate(613.8,402.5) skewX(-21.6)"><line x1="0" y1="1.4" x2="0" y2="34.8" stroke-width="2.6" stroke="#64122f"/><circle cx="0" cy="6.1" r="3.1"/><circle cx="0" cy="6.1" r="1" fill="#c8708a"/><circle cx="0" cy="17.6" r="3.1"/><circle cx="0" cy="17.6" r="1" fill="#c8708a"/><circle cx="0" cy="29.1" r="3.1"/><circle cx="0" cy="29.1" r="1" fill="#c8708a"/><line x1="-3.2" y1="11.8" x2="3.2" y2="11.8" stroke-width="1.5" stroke="#5a0f2d"/><line x1="-3.2" y1="23.3" x2="3.2" y2="23.3" stroke-width="1.5" stroke="#5a0f2d"/><line x1="-3.2" y1="33.8" x2="3.2" y2="33.8" stroke-width="1.5" stroke="#5a0f2d"/><ellipse cx="0" cy="1" rx="2.8" ry="1.8"/></g><g transform="translate(630.8,403.6) skewX(-20.2)"><line x1="0" y1="1.3" x2="0" y2="32.6" stroke-width="2.6" stroke="#64122f"/><circle cx="0" cy="11" r="3.1"/><circle cx="0" cy="11" r="1" fill="#c8708a"/><circle cx="0" cy="22.7" r="3.1"/><circle cx="0" cy="22.7" r="1" fill="#c8708a"/><line x1="-3.2" y1="5.7" x2="3.2" y2="5.7" stroke-width="1.5" stroke="#5a0f2d"/><line x1="-3.2" y1="16.7" x2="3.2" y2="16.7" stroke-width="1.5" stroke="#5a0f2d"/><line x1="-3.2" y1="28.4" x2="3.2" y2="28.4" stroke-width="1.5" stroke="#5a0f2d"/><line x1="-3.2" y1="30.6" x2="3.2" y2="30.6" stroke-width="1.5" stroke="#5a0f2d"/><path d="M-5,1.9 Q0,5.1 5,1.9" fill="none" stroke="#5a0f2d" stroke-width="2.4"/></g><g transform="translate(647.8,406.1) skewX(-17.8)"><line x1="0" y1="1.1" x2="0" y2="28.9" stroke-width="2.6" stroke="#64122f"/><circle cx="0" cy="5" r="3.1"/><circle cx="0" cy="5" r="1" fill="#c8708a"/><circle cx="0" cy="14.5" r="3.1"/><circle cx="0" cy="14.5" r="1" fill="#c8708a"/><circle cx="0" cy="24" r="3.1"/><circle cx="0" cy="24" r="1" fill="#c8708a"/><line x1="-3.2" y1="9.8" x2="3.2" y2="9.8" stroke-width="1.5" stroke="#5a0f2d"/><line x1="-3.2" y1="19.2" x2="3.2" y2="19.2" stroke-width="1.5" stroke="#5a0f2d"/><line x1="-3.2" y1="27.9" x2="3.2" y2="27.9" stroke-width="1.5" stroke="#5a0f2d"/><ellipse cx="0" cy="0.8" rx="2.8" ry="1.8"/></g><g transform="translate(664.8,407.8) skewX(-14.5)"><line x1="0" y1="1" x2="0" y2="26.1" stroke-width="2.6" stroke="#64122f"/><circle cx="0" cy="8.8" r="3.1"/><circle cx="0" cy="8.8" r="1" fill="#c8708a"/><circle cx="0" cy="18.1" r="3.1"/><circle cx="0" cy="18.1" r="1" fill="#c8708a"/><line x1="-3.2" y1="4.5" x2="3.2" y2="4.5" stroke-width="1.5" stroke="#5a0f2d"/><line x1="-3.2" y1="13.3" x2="3.2" y2="13.3" stroke-width="1.5" stroke="#5a0f2d"/><line x1="-3.2" y1="22.6" x2="3.2" y2="22.6" stroke-width="1.5" stroke="#5a0f2d"/><line x1="-3.2" y1="24.4" x2="3.2" y2="24.4" stroke-width="1.5" stroke="#5a0f2d"/><path d="M-5,1.5 Q0,4 5,1.5" fill="none" stroke="#5a0f2d" stroke-width="2.4"/></g><g transform="translate(681.8,408.5) skewX(-10.5)"><line x1="0" y1="0.9" x2="0" y2="24.6" stroke-width="2.6" stroke="#64122f"/><circle cx="0" cy="4.2" r="3.1"/><circle cx="0" cy="4.2" r="1" fill="#c8708a"/><circle cx="0" cy="12.2" r="3.1"/><circle cx="0" cy="12.2" r="1" fill="#c8708a"/><circle cx="0" cy="20.3" r="3.1"/><circle cx="0" cy="20.3" r="1" fill="#c8708a"/><line x1="-3.2" y1="8.2" x2="3.2" y2="8.2" stroke-width="1.5" stroke="#5a0f2d"/><line x1="-3.2" y1="16.3" x2="3.2" y2="16.3" stroke-width="1.5" stroke="#5a0f2d"/><line x1="-3.2" y1="23.6" x2="3.2" y2="23.6" stroke-width="1.5" stroke="#5a0f2d"/><ellipse cx="0" cy="0.7" rx="2.8" ry="1.8"/></g><g transform="translate(698.8,408) skewX(-6)"><line x1="0" y1="1" x2="0" y2="25.7" stroke-width="2.6" stroke="#64122f"/><circle cx="0" cy="8.6" r="3.1"/><circle cx="0" cy="8.6" r="1" fill="#c8708a"/><circle cx="0" cy="17.8" r="3.1"/><circle cx="0" cy="17.8" r="1" fill="#c8708a"/><line x1="-3.2" y1="4.4" x2="3.2" y2="4.4" stroke-width="1.5" stroke="#5a0f2d"/><line x1="-3.2" y1="13.1" x2="3.2" y2="13.1" stroke-width="1.5" stroke="#5a0f2d"/><line x1="-3.2" y1="22.2" x2="3.2" y2="22.2" stroke-width="1.5" stroke="#5a0f2d"/><line x1="-3.2" y1="24" x2="3.2" y2="24" stroke-width="1.5" stroke="#5a0f2d"/><path d="M-5,1.5 Q0,4 5,1.5" fill="none" stroke="#5a0f2d" stroke-width="2.4"/></g><g transform="translate(715.8,404.5) skewX(-1.2)"><line x1="0" y1="1.2" x2="0" y2="29.9" stroke-width="2.6" stroke="#64122f"/><circle cx="0" cy="5.2" r="3.1"/><circle cx="0" cy="5.2" r="1" fill="#c8708a"/><circle cx="0" cy="15" r="3.1"/><circle cx="0" cy="15" r="1" fill="#c8708a"/><circle cx="0" cy="24.8" r="3.1"/><circle cx="0" cy="24.8" r="1" fill="#c8708a"/><line x1="-3.2" y1="10.1" x2="3.2" y2="10.1" stroke-width="1.5" stroke="#5a0f2d"/><line x1="-3.2" y1="19.9" x2="3.2" y2="19.9" stroke-width="1.5" stroke="#5a0f2d"/><line x1="-3.2" y1="28.9" x2="3.2" y2="28.9" stroke-width="1.5" stroke="#5a0f2d"/><ellipse cx="0" cy="0.9" rx="2.8" ry="1.8"/></g><g transform="translate(732.8,402.8) skewX(0)"><line x1="0" y1="1.2" x2="0" y2="32.1" stroke-width="2.6" stroke="#64122f"/><circle cx="0" cy="10.9" r="3.1"/><circle cx="0" cy="10.9" r="1" fill="#c8708a"/><circle cx="0" cy="22.4" r="3.1"/><circle cx="0" cy="22.4" r="1" fill="#c8708a"/><line x1="-3.2" y1="5.6" x2="3.2" y2="5.6" stroke-width="1.5" stroke="#5a0f2d"/><line x1="-3.2" y1="16.5" x2="3.2" y2="16.5" stroke-width="1.5" stroke="#5a0f2d"/><line x1="-3.2" y1="28" x2="3.2" y2="28" stroke-width="1.5" stroke="#5a0f2d"/><line x1="-3.2" y1="30.2" x2="3.2" y2="30.2" stroke-width="1.5" stroke="#5a0f2d"/><path d="M-5,1.9 Q0,5 5,1.9" fill="none" stroke="#5a0f2d" stroke-width="2.4"/></g><g transform="translate(749.8,402.2) skewX(0)"><line x1="0" y1="1.3" x2="0" y2="33.4" stroke-width="2.6" stroke="#64122f"/><circle cx="0" cy="5.8" r="3.1"/><circle cx="0" cy="5.8" r="1" fill="#c8708a"/><circle cx="0" cy="16.8" r="3.1"/><circle cx="0" cy="16.8" r="1" fill="#c8708a"/><circle cx="0" cy="27.8" r="3.1"/><circle cx="0" cy="27.8" r="1" fill="#c8708a"/><line x1="-3.2" y1="11.3" x2="3.2" y2="11.3" stroke-width="1.5" stroke="#5a0f2d"/><line x1="-3.2" y1="22.3" x2="3.2" y2="22.3" stroke-width="1.5" stroke="#5a0f2d"/><line x1="-3.2" y1="32.4" x2="3.2" y2="32.4" stroke-width="1.5" stroke="#5a0f2d"/><ellipse cx="0" cy="1" rx="2.8" ry="1.8"/></g><g transform="translate(766.8,403.7) skewX(0)"><line x1="0" y1="1.3" x2="0" y2="32.3" stroke-width="2.6" stroke="#64122f"/><circle cx="0" cy="10.9" r="3.1"/><circle cx="0" cy="10.9" r="1" fill="#c8708a"/><circle cx="0" cy="22.5" r="3.1"/><circle cx="0" cy="22.5" r="1" fill="#c8708a"/><line x1="-3.2" y1="5.6" x2="3.2" y2="5.6" stroke-width="1.5" stroke="#5a0f2d"/><line x1="-3.2" y1="16.6" x2="3.2" y2="16.6" stroke-width="1.5" stroke="#5a0f2d"/><line x1="-3.2" y1="28.1" x2="3.2" y2="28.1" stroke-width="1.5" stroke="#5a0f2d"/><line x1="-3.2" y1="30.3" x2="3.2" y2="30.3" stroke-width="1.5" stroke="#5a0f2d"/><path d="M-5,1.9 Q0,5 5,1.9" fill="none" stroke="#5a0f2d" stroke-width="2.4"/></g><g transform="translate(783.8,405.2) skewX(0)"><line x1="0" y1="1.2" x2="0" y2="30.8" stroke-width="2.6" stroke="#64122f"/><circle cx="0" cy="5.4" r="3.1"/><circle cx="0" cy="5.4" r="1" fill="#c8708a"/><circle cx="0" cy="15.5" r="3.1"/><circle cx="0" cy="15.5" r="1" fill="#c8708a"/><circle cx="0" cy="25.6" r="3.1"/><circle cx="0" cy="25.6" r="1" fill="#c8708a"/><line x1="-3.2" y1="10.4" x2="3.2" y2="10.4" stroke-width="1.5" stroke="#5a0f2d"/><line x1="-3.2" y1="20.5" x2="3.2" y2="20.5" stroke-width="1.5" stroke="#5a0f2d"/><line x1="-3.2" y1="29.8" x2="3.2" y2="29.8" stroke-width="1.5" stroke="#5a0f2d"/><ellipse cx="0" cy="0.9" rx="2.8" ry="1.8"/></g><g transform="translate(800.8,406.6) skewX(0)"><line x1="0" y1="1.1" x2="0" y2="29.4" stroke-width="2.6" stroke="#64122f"/><circle cx="0" cy="10" r="3.1"/><circle cx="0" cy="10" r="1" fill="#c8708a"/><circle cx="0" cy="20.5" r="3.1"/><circle cx="0" cy="20.5" r="1" fill="#c8708a"/><line x1="-3.2" y1="5.1" x2="3.2" y2="5.1" stroke-width="1.5" stroke="#5a0f2d"/><line x1="-3.2" y1="15.1" x2="3.2" y2="15.1" stroke-width="1.5" stroke="#5a0f2d"/><line x1="-3.2" y1="25.6" x2="3.2" y2="25.6" stroke-width="1.5" stroke="#5a0f2d"/><line x1="-3.2" y1="27.6" x2="3.2" y2="27.6" stroke-width="1.5" stroke="#5a0f2d"/><path d="M-5,1.7 Q0,4.5 5,1.7" fill="none" stroke="#5a0f2d" stroke-width="2.4"/></g><g transform="translate(817.8,407.4) skewX(0)"><line x1="0" y1="1.1" x2="0" y2="28.6" stroke-width="2.6" stroke="#64122f"/><circle cx="0" cy="5" r="3.1"/><circle cx="0" cy="5" r="1" fill="#c8708a"/><circle cx="0" cy="14.4" r="3.1"/><circle cx="0" cy="14.4" r="1" fill="#c8708a"/><circle cx="0" cy="23.8" r="3.1"/><circle cx="0" cy="23.8" r="1" fill="#c8708a"/><line x1="-3.2" y1="9.7" x2="3.2" y2="9.7" stroke-width="1.5" stroke="#5a0f2d"/><line x1="-3.2" y1="19.1" x2="3.2" y2="19.1" stroke-width="1.5" stroke="#5a0f2d"/><line x1="-3.2" y1="27.6" x2="3.2" y2="27.6" stroke-width="1.5" stroke="#5a0f2d"/><ellipse cx="0" cy="0.8" rx="2.8" ry="1.8"/></g><g transform="translate(834.8,407) skewX(0)"><line x1="0" y1="1.1" x2="0" y2="29" stroke-width="2.6" stroke="#64122f"/><circle cx="0" cy="9.8" r="3.1"/><circle cx="0" cy="9.8" r="1" fill="#c8708a"/><circle cx="0" cy="20.2" r="3.1"/><circle cx="0" cy="20.2" r="1" fill="#c8708a"/><line x1="-3.2" y1="5" x2="3.2" y2="5" stroke-width="1.5" stroke="#5a0f2d"/><line x1="-3.2" y1="14.8" x2="3.2" y2="14.8" stroke-width="1.5" stroke="#5a0f2d"/><line x1="-3.2" y1="25.2" x2="3.2" y2="25.2" stroke-width="1.5" stroke="#5a0f2d"/><line x1="-3.2" y1="27.2" x2="3.2" y2="27.2" stroke-width="1.5" stroke="#5a0f2d"/><path d="M-5,1.7 Q0,4.5 5,1.7" fill="none" stroke="#5a0f2d" stroke-width="2.4"/></g></g>
<path d="M320,436.5C342.5,436.5 426.7,436.2 455,436.5C483.3,436.8 477.9,437.2 490,438.5C502.1,439.8 517.8,442.6 527.8,444C537.8,445.4 543,447.2 550,447C557,446.8 563.3,444.5 570,443C576.7,441.5 578.3,439.4 590,438C601.7,436.6 625,435.5 640,434.5C655,433.5 666.7,432.2 680,432C693.3,431.8 706.7,433 720,433.5C733.3,434 739.2,434.8 760,435C780.8,435.2 830.8,435 845,435L845,451.5C830.8,451.5 780.8,451.8 760,451.5C739.2,451.2 733.3,450.4 720,450C706.7,449.6 693.3,448.8 680,449C666.7,449.2 655,450.2 640,451C625,451.8 601.7,452.7 590,454C578.3,455.3 576.7,457.7 570,459C563.3,460.3 557,462 550,462C543,462 537.8,460.3 527.8,459C517.8,457.7 502.1,455.2 490,454C477.9,452.8 483.3,452.3 455,452C426.7,451.7 342.5,452 320,452Z" fill="#ef8757"/>
<g fill="#c42c14"><circle cx="331.1" cy="440.3" r="1.7"/><circle cx="340.4" cy="448.5" r="1.9"/><circle cx="347.1" cy="439.7" r="1.7"/><circle cx="353.7" cy="447.9" r="1.9"/><circle cx="351.4" cy="444.6" r="1.4" fill="#b8321c"/><circle cx="361.5" cy="439.6" r="1.7"/><circle cx="366.9" cy="447.8" r="1.9"/><circle cx="374.3" cy="440.5" r="1.7"/><circle cx="381.6" cy="448.7" r="1.9"/><circle cx="391.8" cy="440.5" r="1.7"/><circle cx="396.2" cy="448.7" r="1.9"/><circle cx="394.9" cy="444.6" r="1.4" fill="#b8321c"/><circle cx="405.5" cy="440" r="1.7"/><circle cx="414" cy="448.2" r="1.9"/><circle cx="419.1" cy="440.9" r="1.7"/><circle cx="428.7" cy="449.1" r="1.9"/><circle cx="435.4" cy="439.6" r="1.7"/><circle cx="440.4" cy="447.8" r="1.9"/><circle cx="438.4" cy="444.6" r="1.4" fill="#b8321c"/><circle cx="447" cy="439.8" r="1.7"/><circle cx="455" cy="448" r="1.9"/><circle cx="461.7" cy="441.8" r="1.7"/><circle cx="470.6" cy="450.5" r="1.9"/><circle cx="477" cy="442.3" r="1.7"/><circle cx="484.9" cy="450.9" r="1.9"/><circle cx="481.9" cy="446.1" r="1.4" fill="#b8321c"/><circle cx="490.2" cy="441.7" r="1.7"/><circle cx="498.1" cy="450.9" r="1.9"/><circle cx="506.2" cy="445.4" r="1.7"/><circle cx="513" cy="454.4" r="1.9"/><circle cx="520.8" cy="447.3" r="1.7"/><circle cx="527.4" cy="456.2" r="1.9"/><circle cx="525.4" cy="451.5" r="1.4" fill="#b8321c"/><circle cx="536.3" cy="449.9" r="1.7"/><circle cx="541.7" cy="458.6" r="1.9"/><circle cx="550.1" cy="451.2" r="1.7"/><circle cx="558.8" cy="457.8" r="1.9"/><circle cx="563.7" cy="449.1" r="1.7"/><circle cx="573.7" cy="455.4" r="1.9"/><circle cx="568.9" cy="451.5" r="1.4" fill="#b8321c"/><circle cx="578.7" cy="444.2" r="1.7"/><circle cx="587.3" cy="450.6" r="1.9"/><circle cx="593.5" cy="441.3" r="1.7"/><circle cx="598.9" cy="449.4" r="1.9"/><circle cx="609.1" cy="441.4" r="1.7"/><circle cx="615.5" cy="449.6" r="1.9"/><circle cx="612.4" cy="444.9" r="1.4" fill="#b8321c"/><circle cx="621.8" cy="441.1" r="1.7"/><circle cx="630.5" cy="449.2" r="1.9"/><circle cx="637.3" cy="439.4" r="1.7"/><circle cx="644.1" cy="447.7" r="1.9"/><circle cx="653.3" cy="439" r="1.7"/><circle cx="658.6" cy="447.5" r="1.9"/><circle cx="655.9" cy="442.2" r="1.4" fill="#b8321c"/><circle cx="664.2" cy="437.9" r="1.7"/><circle cx="674.1" cy="446.3" r="1.9"/><circle cx="682.5" cy="437" r="1.7"/><circle cx="689" cy="446.2" r="1.9"/><circle cx="694.5" cy="436.6" r="1.7"/><circle cx="702.9" cy="445.7" r="1.9"/><circle cx="699.4" cy="441.4" r="1.4" fill="#b8321c"/><circle cx="709.3" cy="436.4" r="1.7"/><circle cx="715.4" cy="445.4" r="1.9"/><circle cx="722.2" cy="437.1" r="1.7"/><circle cx="732.3" cy="446.2" r="1.9"/><circle cx="737.5" cy="437.7" r="1.7"/><circle cx="745.3" cy="446.8" r="1.9"/><circle cx="742.9" cy="442.9" r="1.4" fill="#b8321c"/><circle cx="751.3" cy="440" r="1.7"/><circle cx="760" cy="449.1" r="1.9"/><circle cx="769" cy="439.6" r="1.7"/><circle cx="776" cy="448.3" r="1.9"/><circle cx="781.1" cy="440.3" r="1.7"/><circle cx="788.9" cy="449.1" r="1.9"/><circle cx="786.4" cy="443.6" r="1.4" fill="#b8321c"/><circle cx="798" cy="439.1" r="1.7"/><circle cx="805.6" cy="447.9" r="1.9"/><circle cx="809.7" cy="438.6" r="1.7"/><circle cx="817.2" cy="447.4" r="1.9"/><circle cx="825.4" cy="438.8" r="1.7"/><circle cx="833.1" cy="447.6" r="1.9"/><circle cx="829.9" cy="443.6" r="1.4" fill="#b8321c"/></g><g fill="#f9c49a" opacity="0.8"><circle cx="336.1" cy="442.3" r="1.3"/><circle cx="348" cy="443.7" r="1.3"/><circle cx="359.9" cy="446.1" r="1.3"/><circle cx="371.6" cy="444.3" r="1.3"/><circle cx="382.2" cy="445" r="1.3"/><circle cx="389.8" cy="445.8" r="1.3"/><circle cx="405.2" cy="445.7" r="1.3"/><circle cx="416.3" cy="443.8" r="1.3"/><circle cx="424.9" cy="442.7" r="1.3"/><circle cx="437.3" cy="442.5" r="1.3"/><circle cx="444.9" cy="443.1" r="1.3"/><circle cx="456.5" cy="443.7" r="1.3"/><circle cx="466.8" cy="442.9" r="1.3"/><circle cx="478.4" cy="444" r="1.3"/><circle cx="490.7" cy="444.4" r="1.3"/><circle cx="504.7" cy="448.8" r="1.3"/><circle cx="511.4" cy="448.2" r="1.3"/><circle cx="523.6" cy="450.4" r="1.3"/><circle cx="533.2" cy="453.6" r="1.3"/><circle cx="549.5" cy="454.3" r="1.3"/><circle cx="557.4" cy="451.5" r="1.3"/><circle cx="566.1" cy="451.1" r="1.3"/><circle cx="578.1" cy="450.3" r="1.3"/><circle cx="588.5" cy="444.5" r="1.3"/><circle cx="604.2" cy="445.2" r="1.3"/><circle cx="610.4" cy="444.8" r="1.3"/><circle cx="620.7" cy="444.1" r="1.3"/><circle cx="637.4" cy="444.4" r="1.3"/><circle cx="646.7" cy="441.4" r="1.3"/><circle cx="655.7" cy="440.5" r="1.3"/><circle cx="669.1" cy="441.2" r="1.3"/><circle cx="680.2" cy="439.8" r="1.3"/><circle cx="687.8" cy="442" r="1.3"/><circle cx="703.4" cy="442.6" r="1.3"/><circle cx="713.3" cy="442.8" r="1.3"/><circle cx="723.9" cy="440.8" r="1.3"/><circle cx="733.6" cy="441.7" r="1.3"/><circle cx="741.7" cy="440.7" r="1.3"/><circle cx="754.2" cy="442.1" r="1.3"/><circle cx="767.7" cy="445.1" r="1.3"/><circle cx="777.2" cy="445" r="1.3"/><circle cx="791.4" cy="445.1" r="1.3"/><circle cx="798.7" cy="442.1" r="1.3"/><circle cx="808.9" cy="442" r="1.3"/><circle cx="819.7" cy="443.7" r="1.3"/><circle cx="834.9" cy="444.6" r="1.3"/></g>
<path d="M320,575C321.6,571.2 327,557.9 329.5,552C332,546.1 333.4,544 335.2,539.4C337,534.8 338.4,528.8 340.3,524.1C342.2,519.4 344.1,514.6 346.7,511.4C349.2,508.2 352,506.1 355.6,505C359.2,503.9 364.1,504.1 368.3,505C372.6,505.9 377.1,508.2 381.1,510.1C385.1,512 388.7,515.2 392.5,516.5C396.3,517.8 400.4,518.6 404,517.7C407.6,516.9 411.6,514.6 414.2,511.4C416.8,508.2 417.6,502.4 419.3,498.6C421,494.8 422.3,491.2 424.4,488.4C426.5,485.6 429,483.1 432,482C435,480.9 439.2,480.9 442.2,482C445.2,483.1 447.5,485.4 449.9,488.4C452.2,491.4 453.9,496.5 456.3,499.9C458.7,503.3 460.8,506.7 464,508.8C467.2,510.9 471.4,512.2 475.4,512.6C479.4,513 483.9,512.4 488.1,511.4C492.4,510.3 497.5,508.6 500.9,506.3C504.3,504 506.4,500.4 508.5,497.4C510.6,494.4 511.7,490.8 513.6,488.4C515.5,486 517.8,484.1 520,483C522.2,481.9 524.8,481.5 527,482C529.2,482.5 531,483.6 533,486C535,488.4 536.8,492.5 539.1,496.1C541.4,499.7 543.8,504.5 546.8,507.5C549.8,510.5 553.2,512.8 557,513.9C560.8,515 565.9,515 569.7,513.9C573.5,512.8 577.4,509.8 579.9,507.5C582.4,505.2 582.9,504.2 585,500C587.1,495.8 590.6,485.6 592.8,482C595,478.4 595.9,479.5 598,478.2C600.1,476.9 603.1,474.4 605.6,474.4C608.1,474.4 610.9,476.7 613.2,478.2C615.5,479.7 616.8,480.1 619.6,483.3C622.4,486.5 627,493.4 629.8,497.4C632.6,501.4 633.4,505 636.2,507.5C639,510 642.6,511.8 646.4,512.6C650.2,513.5 655.1,513.9 659.1,512.6C663.1,511.3 667.4,508.2 670.6,505C673.8,501.8 675.9,497.1 678.2,493.5C680.5,489.9 682.2,486.3 684.6,483.3C687,480.3 689.8,477.4 692.3,475.7C694.8,474 697.6,473.1 699.9,473.1C702.2,473.1 704.4,473.8 706.3,475.7C708.2,477.6 709.9,481.2 711.4,484.6C712.9,488 713.3,492.3 715.2,496.1C717.1,499.9 719.8,504.3 722.8,507.5C725.8,510.7 729.2,513.5 733,515.2C736.8,516.9 741.5,517.5 745.8,517.7C750,517.9 754.7,517.8 758.5,516.5C762.3,515.2 765.5,512.9 768.7,510.1C771.9,507.3 774.9,503.5 777.7,499.9C780.5,496.3 782.8,491.6 785.3,488.4C787.8,485.2 790.2,482.7 793,480.8C795.8,478.9 799.1,477.2 801.9,477C804.6,476.8 807.2,477.6 809.5,479.5C811.8,481.4 814.2,484.8 815.9,488.4C817.6,492 818.2,496.9 819.7,501.2C821.2,505.4 823.1,510.5 824.8,513.9C826.5,517.3 828.4,519.7 829.9,521.6C831.4,523.5 831.7,523.5 833.7,525.4C835.7,527.3 840.6,531.7 842,533L843.6,609.2 L319.5,609.2 Z" fill="#f6e3a1" stroke="#ee7c4a" stroke-width="20.5" stroke-linejoin="round"/>
<path d="M320,575C321.6,571.2 327,557.9 329.5,552C332,546.1 333.4,544 335.2,539.4C337,534.8 338.4,528.8 340.3,524.1C342.2,519.4 344.1,514.6 346.7,511.4C349.2,508.2 352,506.1 355.6,505C359.2,503.9 364.1,504.1 368.3,505C372.6,505.9 377.1,508.2 381.1,510.1C385.1,512 388.7,515.2 392.5,516.5C396.3,517.8 400.4,518.6 404,517.7C407.6,516.9 411.6,514.6 414.2,511.4C416.8,508.2 417.6,502.4 419.3,498.6C421,494.8 422.3,491.2 424.4,488.4C426.5,485.6 429,483.1 432,482C435,480.9 439.2,480.9 442.2,482C445.2,483.1 447.5,485.4 449.9,488.4C452.2,491.4 453.9,496.5 456.3,499.9C458.7,503.3 460.8,506.7 464,508.8C467.2,510.9 471.4,512.2 475.4,512.6C479.4,513 483.9,512.4 488.1,511.4C492.4,510.3 497.5,508.6 500.9,506.3C504.3,504 506.4,500.4 508.5,497.4C510.6,494.4 511.7,490.8 513.6,488.4C515.5,486 517.8,484.1 520,483C522.2,481.9 524.8,481.5 527,482C529.2,482.5 531,483.6 533,486C535,488.4 536.8,492.5 539.1,496.1C541.4,499.7 543.8,504.5 546.8,507.5C549.8,510.5 553.2,512.8 557,513.9C560.8,515 565.9,515 569.7,513.9C573.5,512.8 577.4,509.8 579.9,507.5C582.4,505.2 582.9,504.2 585,500C587.1,495.8 590.6,485.6 592.8,482C595,478.4 595.9,479.5 598,478.2C600.1,476.9 603.1,474.4 605.6,474.4C608.1,474.4 610.9,476.7 613.2,478.2C615.5,479.7 616.8,480.1 619.6,483.3C622.4,486.5 627,493.4 629.8,497.4C632.6,501.4 633.4,505 636.2,507.5C639,510 642.6,511.8 646.4,512.6C650.2,513.5 655.1,513.9 659.1,512.6C663.1,511.3 667.4,508.2 670.6,505C673.8,501.8 675.9,497.1 678.2,493.5C680.5,489.9 682.2,486.3 684.6,483.3C687,480.3 689.8,477.4 692.3,475.7C694.8,474 697.6,473.1 699.9,473.1C702.2,473.1 704.4,473.8 706.3,475.7C708.2,477.6 709.9,481.2 711.4,484.6C712.9,488 713.3,492.3 715.2,496.1C717.1,499.9 719.8,504.3 722.8,507.5C725.8,510.7 729.2,513.5 733,515.2C736.8,516.9 741.5,517.5 745.8,517.7C750,517.9 754.7,517.8 758.5,516.5C762.3,515.2 765.5,512.9 768.7,510.1C771.9,507.3 774.9,503.5 777.7,499.9C780.5,496.3 782.8,491.6 785.3,488.4C787.8,485.2 790.2,482.7 793,480.8C795.8,478.9 799.1,477.2 801.9,477C804.6,476.8 807.2,477.6 809.5,479.5C811.8,481.4 814.2,484.8 815.9,488.4C817.6,492 818.2,496.9 819.7,501.2C821.2,505.4 823.1,510.5 824.8,513.9C826.5,517.3 828.4,519.7 829.9,521.6C831.4,523.5 831.7,523.5 833.7,525.4C835.7,527.3 840.6,531.7 842,533L843.6,609.2 L319.5,609.2 Z" fill="#f6e3a1" stroke="#f9eeb0" stroke-width="2.6" stroke-linejoin="round"/>
<g fill="#d22f1a"><circle cx="316.9" cy="567.6" r="2.15"/><circle cx="320.8" cy="557.9" r="2.15"/><circle cx="325.1" cy="547.8" r="2.15"/><circle cx="329.5" cy="538.2" r="2.15"/><circle cx="332.9" cy="528.1" r="2.15"/><circle cx="336.7" cy="517.9" r="2.15"/><circle cx="341.9" cy="508.3" r="2.15"/><circle cx="350" cy="501.1" r="2.15"/><circle cx="360.2" cy="498.6" r="2.15"/><circle cx="370.6" cy="499.7" r="2.15"/><circle cx="380.3" cy="503.4" r="2.15"/><circle cx="389.5" cy="508.5" r="2.15"/><circle cx="399.2" cy="512.3" r="2.15"/><circle cx="408.8" cy="508.8" r="2.15"/><circle cx="413" cy="499.1" r="2.15"/><circle cx="417.3" cy="489.1" r="2.15"/><circle cx="423.8" cy="480.5" r="2.15"/><circle cx="433.6" cy="475.8" r="2.15"/><circle cx="444.1" cy="476.6" r="2.15"/><circle cx="452.8" cy="482.9" r="2.15"/><circle cx="458.5" cy="492" r="2.15"/><circle cx="464.1" cy="501.1" r="2.15"/><circle cx="473.1" cy="506.5" r="2.15"/><circle cx="483.5" cy="506.5" r="2.15"/><circle cx="493.9" cy="503.6" r="2.15"/><circle cx="501.9" cy="497" r="2.15"/><circle cx="507.3" cy="487.6" r="2.15"/><circle cx="514.6" cy="479.6" r="2.15"/><circle cx="525" cy="476.1" r="2.15"/><circle cx="535.1" cy="480" r="2.15"/><circle cx="541.3" cy="488.5" r="2.15"/><circle cx="546.6" cy="497.5" r="2.15"/><circle cx="553.4" cy="505.7" r="2.15"/><circle cx="563.1" cy="509" r="2.15"/><circle cx="573.2" cy="505.7" r="2.15"/><circle cx="579.9" cy="497.5" r="2.15"/><circle cx="583.9" cy="487.8" r="2.15"/><circle cx="588.7" cy="477.9" r="2.15"/><circle cx="597" cy="472" r="2.15"/><circle cx="607.7" cy="468.9" r="2.15"/><circle cx="617" cy="473.8" r="2.15"/><circle cx="624.8" cy="480.6" r="2.15"/><circle cx="631" cy="489.1" r="2.15"/><circle cx="636.9" cy="498.2" r="2.15"/><circle cx="643.8" cy="505.7" r="2.15"/><circle cx="654.2" cy="507.7" r="2.15"/><circle cx="663.9" cy="503.3" r="2.15"/><circle cx="670.7" cy="495" r="2.15"/><circle cx="676.2" cy="485.7" r="2.15"/><circle cx="682.5" cy="477" r="2.15"/><circle cx="690.4" cy="470.2" r="2.15"/><circle cx="700.7" cy="467.4" r="2.15"/><circle cx="710.3" cy="471.6" r="2.15"/><circle cx="715.9" cy="480.7" r="2.15"/><circle cx="719.3" cy="491" r="2.15"/><circle cx="724.3" cy="500.3" r="2.15"/><circle cx="731.6" cy="507.8" r="2.15"/><circle cx="741.5" cy="511.6" r="2.15"/><circle cx="752.1" cy="512" r="2.15"/><circle cx="761.7" cy="508.4" r="2.15"/><circle cx="769.5" cy="501.1" r="2.15"/><circle cx="775.8" cy="492.6" r="2.15"/><circle cx="781.6" cy="483.9" r="2.15"/><circle cx="789.3" cy="476.4" r="2.15"/><circle cx="798.6" cy="471.8" r="2.15"/><circle cx="809.1" cy="472.6" r="2.15"/><circle cx="817" cy="479.2" r="2.15"/><circle cx="822.2" cy="488.8" r="2.15"/><circle cx="824.9" cy="498.9" r="2.15"/><circle cx="828.7" cy="508.7" r="2.15"/><circle cx="834.1" cy="517.8" r="2.15"/><circle cx="841.9" cy="525.2" r="2.15"/></g><g fill="#9c1c0c"><circle cx="316.9" cy="567.6" r="0.97"/><circle cx="320.8" cy="557.9" r="0.97"/><circle cx="325.1" cy="547.8" r="0.97"/><circle cx="329.5" cy="538.2" r="0.97"/><circle cx="332.9" cy="528.1" r="0.97"/><circle cx="336.7" cy="517.9" r="0.97"/><circle cx="341.9" cy="508.3" r="0.97"/><circle cx="350" cy="501.1" r="0.97"/><circle cx="360.2" cy="498.6" r="0.97"/><circle cx="370.6" cy="499.7" r="0.97"/><circle cx="380.3" cy="503.4" r="0.97"/><circle cx="389.5" cy="508.5" r="0.97"/><circle cx="399.2" cy="512.3" r="0.97"/><circle cx="408.8" cy="508.8" r="0.97"/><circle cx="413" cy="499.1" r="0.97"/><circle cx="417.3" cy="489.1" r="0.97"/><circle cx="423.8" cy="480.5" r="0.97"/><circle cx="433.6" cy="475.8" r="0.97"/><circle cx="444.1" cy="476.6" r="0.97"/><circle cx="452.8" cy="482.9" r="0.97"/><circle cx="458.5" cy="492" r="0.97"/><circle cx="464.1" cy="501.1" r="0.97"/><circle cx="473.1" cy="506.5" r="0.97"/><circle cx="483.5" cy="506.5" r="0.97"/><circle cx="493.9" cy="503.6" r="0.97"/><circle cx="501.9" cy="497" r="0.97"/><circle cx="507.3" cy="487.6" r="0.97"/><circle cx="514.6" cy="479.6" r="0.97"/><circle cx="525" cy="476.1" r="0.97"/><circle cx="535.1" cy="480" r="0.97"/><circle cx="541.3" cy="488.5" r="0.97"/><circle cx="546.6" cy="497.5" r="0.97"/><circle cx="553.4" cy="505.7" r="0.97"/><circle cx="563.1" cy="509" r="0.97"/><circle cx="573.2" cy="505.7" r="0.97"/><circle cx="579.9" cy="497.5" r="0.97"/><circle cx="583.9" cy="487.8" r="0.97"/><circle cx="588.7" cy="477.9" r="0.97"/><circle cx="597" cy="472" r="0.97"/><circle cx="607.7" cy="468.9" r="0.97"/><circle cx="617" cy="473.8" r="0.97"/><circle cx="624.8" cy="480.6" r="0.97"/><circle cx="631" cy="489.1" r="0.97"/><circle cx="636.9" cy="498.2" r="0.97"/><circle cx="643.8" cy="505.7" r="0.97"/><circle cx="654.2" cy="507.7" r="0.97"/><circle cx="663.9" cy="503.3" r="0.97"/><circle cx="670.7" cy="495" r="0.97"/><circle cx="676.2" cy="485.7" r="0.97"/><circle cx="682.5" cy="477" r="0.97"/><circle cx="690.4" cy="470.2" r="0.97"/><circle cx="700.7" cy="467.4" r="0.97"/><circle cx="710.3" cy="471.6" r="0.97"/><circle cx="715.9" cy="480.7" r="0.97"/><circle cx="719.3" cy="491" r="0.97"/><circle cx="724.3" cy="500.3" r="0.97"/><circle cx="731.6" cy="507.8" r="0.97"/><circle cx="741.5" cy="511.6" r="0.97"/><circle cx="752.1" cy="512" r="0.97"/><circle cx="761.7" cy="508.4" r="0.97"/><circle cx="769.5" cy="501.1" r="0.97"/><circle cx="775.8" cy="492.6" r="0.97"/><circle cx="781.6" cy="483.9" r="0.97"/><circle cx="789.3" cy="476.4" r="0.97"/><circle cx="798.6" cy="471.8" r="0.97"/><circle cx="809.1" cy="472.6" r="0.97"/><circle cx="817" cy="479.2" r="0.97"/><circle cx="822.2" cy="488.8" r="0.97"/><circle cx="824.9" cy="498.9" r="0.97"/><circle cx="828.7" cy="508.7" r="0.97"/><circle cx="834.1" cy="517.8" r="0.97"/><circle cx="841.9" cy="525.2" r="0.97"/></g>
<g fill="url(#fatg)" stroke="#d98f25" stroke-width="1.3"><ellipse cx="331.6" cy="579.5" rx="8" ry="10"/><ellipse cx="344.9" cy="567.6" rx="12" ry="12"/><ellipse cx="374" cy="566.3" rx="11" ry="11"/><ellipse cx="391.2" cy="549" rx="12.5" ry="12.5"/><ellipse cx="412.3" cy="559.7" rx="11" ry="11"/><ellipse cx="390" cy="569" rx="10.5" ry="10.5"/><ellipse cx="427" cy="571.6" rx="11" ry="11"/><ellipse cx="358" cy="583.5" rx="13" ry="13"/><ellipse cx="404.4" cy="581" rx="13" ry="13"/><ellipse cx="378" cy="589" rx="12" ry="12"/><ellipse cx="424.3" cy="592.8" rx="11" ry="11"/><ellipse cx="531.5" cy="559.7" rx="10.5" ry="10.5"/><ellipse cx="555.3" cy="553" rx="12" ry="12"/><ellipse cx="573.8" cy="558.4" rx="10" ry="10"/><ellipse cx="595" cy="557" rx="11" ry="11"/><ellipse cx="612.4" cy="545" rx="11" ry="11"/><ellipse cx="624.3" cy="558.4" rx="11" ry="11"/><ellipse cx="589.7" cy="558.4" rx="9" ry="9"/><ellipse cx="470.6" cy="581" rx="12.7" ry="14.5"/><ellipse cx="494.4" cy="581" rx="10.5" ry="10.5"/><ellipse cx="515.6" cy="583.5" rx="9.5" ry="9.5"/><ellipse cx="505" cy="593" rx="10.5" ry="10.5"/><ellipse cx="528.8" cy="593" rx="10" ry="10"/><ellipse cx="550" cy="594" rx="10" ry="10"/><ellipse cx="571" cy="595.4" rx="10" ry="10"/><ellipse cx="589.7" cy="594" rx="9" ry="9"/><ellipse cx="578" cy="595" rx="10" ry="10"/><ellipse cx="596.5" cy="595" rx="10" ry="10"/><ellipse cx="617.6" cy="594" rx="10.5" ry="10.5"/><ellipse cx="636" cy="589" rx="10" ry="10"/><ellipse cx="705" cy="559.7" rx="9" ry="9"/><ellipse cx="678.5" cy="579.6" rx="14.5" ry="13"/><ellipse cx="751.3" cy="545" rx="12" ry="12"/><ellipse cx="734" cy="561" rx="11" ry="11"/><ellipse cx="772.5" cy="554.4" rx="12" ry="12"/><ellipse cx="751.3" cy="562.4" rx="10.5" ry="10.5"/><ellipse cx="787" cy="566.3" rx="11" ry="11"/><ellipse cx="717" cy="578.2" rx="14.5" ry="14.5"/><ellipse cx="763.2" cy="579.6" rx="13" ry="13"/><ellipse cx="734" cy="589" rx="11" ry="11"/><ellipse cx="752.6" cy="592.8" rx="9.5" ry="9.5"/><ellipse cx="783" cy="590" rx="12" ry="12"/><ellipse cx="828" cy="577" rx="10.5" ry="16"/></g><g fill="none" stroke-linecap="round" filter="url(#b2)"><path d="M503,406.5C505.8,407.5 514.7,410.8 520,412.5C525.3,414.2 530,415.4 535,416.5C540,417.6 545,418.6 550,419.3C555,420 560,420.5 565,420.8C570,421.1 574.5,421.4 580,421.2C585.5,421 592.2,420.6 598,419.6C603.8,418.7 609.3,417.1 615,415.5C620.7,413.9 625.8,412.2 632,410C638.2,407.8 648.7,403.3 652,402" stroke="url(#wg0)" stroke-width="9"/><path d="M472,426C475.8,427.7 487,433.1 495,436C503,438.9 510.8,441.3 520,443.5C529.2,445.7 539.5,447.8 550,449C560.5,450.2 572.2,450.6 583,450.5C593.8,450.4 604.7,449.8 615,448.5C625.3,447.2 636.2,444.9 645,442.5C653.8,440.1 660.8,436.9 668,434C675.2,431.1 684.7,426.5 688,425" stroke="url(#wg1)" stroke-width="13"/><path d="M440,455C445,457.2 459.2,464 470,468C480.8,472 492.5,475.9 505,479C517.5,482.1 530.9,484.8 545,486.5C559.1,488.2 575.2,489.5 589.4,489.5C603.6,489.5 617.4,488.3 630,486.5C642.6,484.7 654.2,481.7 665,478.5C675.8,475.3 685.5,471.6 695,467.5C704.5,463.4 717.5,456.2 722,454" stroke="url(#wg2)" stroke-width="15"/><path d="M412,490C417.5,492.3 432.8,499.5 445,504C457.2,508.5 470,513.2 485,517C500,520.8 518.2,524.8 535,527C551.8,529.2 569.3,530.5 586,530.5C602.7,530.5 620.2,529.1 635,527C649.8,524.9 663.3,521.3 675,518C686.7,514.7 695,511.5 705,507C715,502.5 730,493.7 735,491" stroke="url(#wg3)" stroke-width="17"/><path d="M392,528C398.3,530.7 417,539.3 430,544C443,548.7 454.2,552 470,556C485.8,560 505.7,564.8 525,568C544.3,571.2 568.5,574.6 586,575.5C603.5,576.4 616,575 630,573.5C644,572 658.3,568.9 670,566.5C681.7,564.1 689.7,562.2 700,559C710.3,555.8 726.7,549 732,547" stroke="url(#wg4)" stroke-width="16.5"/></g>
</g>
<clipPath id="clip2"><path d="M332.4,729.4C335.6,729.5 345.7,729.3 351.5,729.9C357.3,730.5 362.1,732 367.4,733.1C372.7,734.2 377.5,736 383.2,736.6C388.9,737.2 395.6,737.1 401.8,736.6C408,736.1 414.1,734.9 420.3,733.9C426.5,732.9 431.8,731.5 438.8,730.7C445.9,729.9 455.1,729.2 462.6,729.1C470.1,729 476.7,729.3 483.8,729.9C490.9,730.5 497.9,731.9 505,732.6C512.1,733.4 518.7,734.2 526.2,734.4C533.7,734.6 543,734.2 550,733.9C557,733.6 561.9,733.1 568.5,732.6C575.1,732.1 584.2,731.2 589.7,730.7C595.2,730.2 595.1,729.9 601.5,729.9C607.9,729.9 619.1,730.2 627.9,730.7C636.7,731.2 645.6,732.2 654.4,732.6C663.2,733 672.1,733.5 680.9,733.4C689.7,733.3 698.5,732.4 707.3,731.8C716.1,731.2 725,730 733.8,729.9C742.6,729.8 751.5,730.7 760.3,731.3C769.1,731.9 778.9,733 786.8,733.4C794.7,733.8 801.3,733.8 807.9,733.4C814.5,733 821.8,731.9 826.4,731.3C831,730.7 834.2,730.1 835.8,729.9L835.8,959.7 L332.5,959.7 Z"/></clipPath>
<g clip-path="url(#clip2)">
<linearGradient id="bg2" gradientUnits="userSpaceOnUse" x1="0" y1="730.1" x2="0" y2="744.1"><stop offset="0" stop-color="#deb18d"/><stop offset="1" stop-color="#efc6ac"/></linearGradient>
<rect x="332.5" y="727.1" width="503.3" height="232.6" fill="url(#bg2)"/>
<rect x="332.5" y="802" width="503.3" height="157.7" fill="url(#cells2)"/>
<path d="M332.5,744.5C377.1,744.5 546.4,744.2 600,744.5C653.6,744.8 638.3,746.1 654,746.5C669.7,746.9 680.5,747.3 694,747C707.5,746.7 711.4,744.9 735,744.5C758.6,744.1 819,744.5 835.8,744.5L845,784C757.5,784 407.5,784 320,784Z" fill="#ee9c88"/>
<g fill="#fbdccc" filter="url(#b1)" opacity="0.85"><g transform="translate(331.7,744.5) skewX(0)"><ellipse cx="0" cy="13.1" rx="9.2" ry="4.6"/><ellipse cx="0" cy="27" rx="9.2" ry="4.6"/></g><g transform="translate(352.4,744.5) skewX(0)"><ellipse cx="0" cy="6.8" rx="9.2" ry="4.6"/><ellipse cx="0" cy="19.5" rx="9.2" ry="4.6"/><ellipse cx="0" cy="32.2" rx="9.2" ry="4.6"/></g><g transform="translate(373.1,744.5) skewX(0)"><ellipse cx="0" cy="13.1" rx="9.2" ry="4.6"/><ellipse cx="0" cy="27" rx="9.2" ry="4.6"/></g><g transform="translate(393.8,744.5) skewX(0)"><ellipse cx="0" cy="6.8" rx="9.2" ry="4.6"/><ellipse cx="0" cy="19.5" rx="9.2" ry="4.6"/><ellipse cx="0" cy="32.2" rx="9.2" ry="4.6"/></g><g transform="translate(414.5,744.5) skewX(0)"><ellipse cx="0" cy="13.1" rx="9.2" ry="4.6"/><ellipse cx="0" cy="27" rx="9.2" ry="4.6"/></g><g transform="translate(435.2,744.5) skewX(0)"><ellipse cx="0" cy="6.8" rx="9.2" ry="4.6"/><ellipse cx="0" cy="19.5" rx="9.2" ry="4.6"/><ellipse cx="0" cy="32.2" rx="9.2" ry="4.6"/></g><g transform="translate(455.9,744.5) skewX(0)"><ellipse cx="0" cy="13.1" rx="9.2" ry="4.6"/><ellipse cx="0" cy="27" rx="9.2" ry="4.6"/></g><g transform="translate(476.6,744.5) skewX(0)"><ellipse cx="0" cy="6.8" rx="9.2" ry="4.6"/><ellipse cx="0" cy="19.5" rx="9.2" ry="4.6"/><ellipse cx="0" cy="32.2" rx="9.2" ry="4.6"/></g><g transform="translate(497.3,744.5) skewX(0)"><ellipse cx="0" cy="13.1" rx="9.2" ry="4.6"/><ellipse cx="0" cy="27" rx="9.2" ry="4.6"/></g><g transform="translate(518,744.5) skewX(0)"><ellipse cx="0" cy="6.8" rx="9.2" ry="4.6"/><ellipse cx="0" cy="19.5" rx="9.2" ry="4.6"/><ellipse cx="0" cy="32.2" rx="9.2" ry="4.6"/></g><g transform="translate(538.7,744.5) skewX(0)"><ellipse cx="0" cy="13.1" rx="9.2" ry="4.6"/><ellipse cx="0" cy="27" rx="9.2" ry="4.6"/></g><g transform="translate(559.4,744.5) skewX(0)"><ellipse cx="0" cy="6.8" rx="9.2" ry="4.6"/><ellipse cx="0" cy="19.5" rx="9.2" ry="4.6"/><ellipse cx="0" cy="32.2" rx="9.2" ry="4.6"/></g><g transform="translate(580.1,744.5) skewX(0)"><ellipse cx="0" cy="13.1" rx="9.2" ry="4.6"/><ellipse cx="0" cy="27" rx="9.2" ry="4.6"/></g><g transform="translate(600.8,744.5) skewX(0)"><ellipse cx="0" cy="6.7" rx="9.2" ry="4.6"/><ellipse cx="0" cy="19.5" rx="9.2" ry="4.6"/><ellipse cx="0" cy="32.2" rx="9.2" ry="4.6"/></g><g transform="translate(621.5,745.3) skewX(0)"><ellipse cx="0" cy="12.8" rx="9.2" ry="4.6"/><ellipse cx="0" cy="26.4" rx="9.2" ry="4.6"/></g><g transform="translate(642.2,746.1) skewX(0)"><ellipse cx="0" cy="6.5" rx="9.2" ry="4.6"/><ellipse cx="0" cy="18.7" rx="9.2" ry="4.6"/><ellipse cx="0" cy="30.9" rx="9.2" ry="4.6"/></g><g transform="translate(662.9,746.6) skewX(0)"><ellipse cx="0" cy="12.4" rx="9.2" ry="4.6"/><ellipse cx="0" cy="25.5" rx="9.2" ry="4.6"/></g><g transform="translate(683.6,746.9) skewX(0)"><ellipse cx="0" cy="6.3" rx="9.2" ry="4.6"/><ellipse cx="0" cy="18.3" rx="9.2" ry="4.6"/><ellipse cx="0" cy="30.2" rx="9.2" ry="4.6"/></g><g transform="translate(704.3,746.4) skewX(0)"><ellipse cx="0" cy="12.5" rx="9.2" ry="4.6"/><ellipse cx="0" cy="25.7" rx="9.2" ry="4.6"/></g><g transform="translate(725,745.1) skewX(0)"><ellipse cx="0" cy="6.6" rx="9.2" ry="4.6"/><ellipse cx="0" cy="19.2" rx="9.2" ry="4.6"/><ellipse cx="0" cy="31.7" rx="9.2" ry="4.6"/></g><g transform="translate(745.7,744.5) skewX(0)"><ellipse cx="0" cy="13.1" rx="9.2" ry="4.6"/><ellipse cx="0" cy="27" rx="9.2" ry="4.6"/></g><g transform="translate(766.4,744.5) skewX(0)"><ellipse cx="0" cy="6.8" rx="9.2" ry="4.6"/><ellipse cx="0" cy="19.5" rx="9.2" ry="4.6"/><ellipse cx="0" cy="32.2" rx="9.2" ry="4.6"/></g><g transform="translate(787.1,744.5) skewX(0)"><ellipse cx="0" cy="13.1" rx="9.2" ry="4.6"/><ellipse cx="0" cy="27" rx="9.2" ry="4.6"/></g><g transform="translate(807.8,744.5) skewX(0)"><ellipse cx="0" cy="6.8" rx="9.2" ry="4.6"/><ellipse cx="0" cy="19.5" rx="9.2" ry="4.6"/><ellipse cx="0" cy="32.2" rx="9.2" ry="4.6"/></g><g transform="translate(828.5,744.5) skewX(0)"><ellipse cx="0" cy="13.1" rx="9.2" ry="4.6"/><ellipse cx="0" cy="27" rx="9.2" ry="4.6"/></g><g transform="translate(849.2,744.5) skewX(0)"><ellipse cx="0" cy="6.8" rx="9.2" ry="4.6"/><ellipse cx="0" cy="19.5" rx="9.2" ry="4.6"/><ellipse cx="0" cy="32.2" rx="9.2" ry="4.6"/></g></g><path d="M331.7,749.8C335.1,749 345.5,745.2 352.4,745.2C359.3,745.2 366.2,749.8 373.1,749.8C380,749.8 386.9,745.2 393.8,745.2C400.7,745.2 407.6,749.8 414.5,749.8C421.4,749.8 428.3,745.2 435.2,745.2C442.1,745.2 449,749.8 455.9,749.8C462.8,749.8 469.7,745.2 476.6,745.2C483.5,745.2 490.4,749.8 497.3,749.8C504.2,749.8 511.1,745.2 518,745.2C524.9,745.2 531.8,749.8 538.7,749.8C545.6,749.8 552.5,745.2 559.4,745.2C566.3,745.2 573.2,749.7 580.1,749.8C587,749.8 593.9,745.2 600.8,745.3C607.7,745.4 614.6,750.2 621.5,750.4C628.4,750.7 635.3,746.6 642.2,746.8C649.1,747 656,751.4 662.9,751.6C669.8,751.7 676.7,747.6 683.6,747.6C690.5,747.5 697.4,751.6 704.3,751.4C711.2,751.1 718.1,746.1 725,745.8C731.9,745.6 738.8,749.8 745.7,749.8C752.6,749.7 759.5,745.2 766.4,745.2C773.3,745.2 780.2,749.8 787.1,749.8C794,749.8 800.9,745.2 807.8,745.2C814.7,745.2 821.6,749.8 828.5,749.8C835.4,749.8 845.8,746 849.2,745.2" fill="none" stroke="#5a0f2d" stroke-width="1.8"/><g fill="#5a0f2d"><g transform="translate(331.7,744.5) skewX(0)"><line x1="0" y1="1.5" x2="0" y2="38.5" stroke-width="1.7" stroke="#64122f"/><circle cx="0" cy="13.1" r="3.3"/><circle cx="0" cy="13.1" r="1" fill="#c8708a"/><circle cx="0" cy="27" r="3.3"/><circle cx="0" cy="27" r="1" fill="#c8708a"/><line x1="-3.2" y1="6.8" x2="3.2" y2="6.8" stroke-width="1.5" stroke="#5a0f2d"/><line x1="-3.2" y1="19.9" x2="3.2" y2="19.9" stroke-width="1.5" stroke="#5a0f2d"/><line x1="-3.2" y1="33.8" x2="3.2" y2="33.8" stroke-width="1.5" stroke="#5a0f2d"/><line x1="-3.2" y1="36.4" x2="3.2" y2="36.4" stroke-width="1.5" stroke="#5a0f2d"/><path d="M-5,2.2 Q0,6 5,2.2" fill="none" stroke="#5a0f2d" stroke-width="2.4"/></g><g transform="translate(352.4,744.5) skewX(0)"><line x1="0" y1="1.5" x2="0" y2="38.5" stroke-width="1.7" stroke="#64122f"/><circle cx="0" cy="6.8" r="3.3"/><circle cx="0" cy="6.8" r="1" fill="#c8708a"/><circle cx="0" cy="19.5" r="3.3"/><circle cx="0" cy="19.5" r="1" fill="#c8708a"/><circle cx="0" cy="32.2" r="3.3"/><circle cx="0" cy="32.2" r="1" fill="#c8708a"/><line x1="-3.2" y1="13.1" x2="3.2" y2="13.1" stroke-width="1.5" stroke="#5a0f2d"/><line x1="-3.2" y1="25.9" x2="3.2" y2="25.9" stroke-width="1.5" stroke="#5a0f2d"/><line x1="-3.2" y1="37.5" x2="3.2" y2="37.5" stroke-width="1.5" stroke="#5a0f2d"/><ellipse cx="0" cy="1.1" rx="2.8" ry="1.8"/></g><g transform="translate(373.1,744.5) skewX(0)"><line x1="0" y1="1.5" x2="0" y2="38.5" stroke-width="1.7" stroke="#64122f"/><circle cx="0" cy="13.1" r="3.3"/><circle cx="0" cy="13.1" r="1" fill="#c8708a"/><circle cx="0" cy="27" r="3.3"/><circle cx="0" cy="27" r="1" fill="#c8708a"/><line x1="-3.2" y1="6.8" x2="3.2" y2="6.8" stroke-width="1.5" stroke="#5a0f2d"/><line x1="-3.2" y1="19.9" x2="3.2" y2="19.9" stroke-width="1.5" stroke="#5a0f2d"/><line x1="-3.2" y1="33.8" x2="3.2" y2="33.8" stroke-width="1.5" stroke="#5a0f2d"/><line x1="-3.2" y1="36.4" x2="3.2" y2="36.4" stroke-width="1.5" stroke="#5a0f2d"/><path d="M-5,2.2 Q0,6 5,2.2" fill="none" stroke="#5a0f2d" stroke-width="2.4"/></g><g transform="translate(393.8,744.5) skewX(0)"><line x1="0" y1="1.5" x2="0" y2="38.5" stroke-width="1.7" stroke="#64122f"/><circle cx="0" cy="6.8" r="3.3"/><circle cx="0" cy="6.8" r="1" fill="#c8708a"/><circle cx="0" cy="19.5" r="3.3"/><circle cx="0" cy="19.5" r="1" fill="#c8708a"/><circle cx="0" cy="32.2" r="3.3"/><circle cx="0" cy="32.2" r="1" fill="#c8708a"/><line x1="-3.2" y1="13.1" x2="3.2" y2="13.1" stroke-width="1.5" stroke="#5a0f2d"/><line x1="-3.2" y1="25.9" x2="3.2" y2="25.9" stroke-width="1.5" stroke="#5a0f2d"/><line x1="-3.2" y1="37.5" x2="3.2" y2="37.5" stroke-width="1.5" stroke="#5a0f2d"/><ellipse cx="0" cy="1.1" rx="2.8" ry="1.8"/></g><g transform="translate(414.5,744.5) skewX(0)"><line x1="0" y1="1.5" x2="0" y2="38.5" stroke-width="1.7" stroke="#64122f"/><circle cx="0" cy="13.1" r="3.3"/><circle cx="0" cy="13.1" r="1" fill="#c8708a"/><circle cx="0" cy="27" r="3.3"/><circle cx="0" cy="27" r="1" fill="#c8708a"/><line x1="-3.2" y1="6.8" x2="3.2" y2="6.8" stroke-width="1.5" stroke="#5a0f2d"/><line x1="-3.2" y1="19.9" x2="3.2" y2="19.9" stroke-width="1.5" stroke="#5a0f2d"/><line x1="-3.2" y1="33.8" x2="3.2" y2="33.8" stroke-width="1.5" stroke="#5a0f2d"/><line x1="-3.2" y1="36.4" x2="3.2" y2="36.4" stroke-width="1.5" stroke="#5a0f2d"/><path d="M-5,2.2 Q0,6 5,2.2" fill="none" stroke="#5a0f2d" stroke-width="2.4"/></g><g transform="translate(435.2,744.5) skewX(0)"><line x1="0" y1="1.5" x2="0" y2="38.5" stroke-width="1.7" stroke="#64122f"/><circle cx="0" cy="6.8" r="3.3"/><circle cx="0" cy="6.8" r="1" fill="#c8708a"/><circle cx="0" cy="19.5" r="3.3"/><circle cx="0" cy="19.5" r="1" fill="#c8708a"/><circle cx="0" cy="32.2" r="3.3"/><circle cx="0" cy="32.2" r="1" fill="#c8708a"/><line x1="-3.2" y1="13.1" x2="3.2" y2="13.1" stroke-width="1.5" stroke="#5a0f2d"/><line x1="-3.2" y1="25.9" x2="3.2" y2="25.9" stroke-width="1.5" stroke="#5a0f2d"/><line x1="-3.2" y1="37.5" x2="3.2" y2="37.5" stroke-width="1.5" stroke="#5a0f2d"/><ellipse cx="0" cy="1.1" rx="2.8" ry="1.8"/></g><g transform="translate(455.9,744.5) skewX(0)"><line x1="0" y1="1.5" x2="0" y2="38.5" stroke-width="1.7" stroke="#64122f"/><circle cx="0" cy="13.1" r="3.3"/><circle cx="0" cy="13.1" r="1" fill="#c8708a"/><circle cx="0" cy="27" r="3.3"/><circle cx="0" cy="27" r="1" fill="#c8708a"/><line x1="-3.2" y1="6.8" x2="3.2" y2="6.8" stroke-width="1.5" stroke="#5a0f2d"/><line x1="-3.2" y1="19.9" x2="3.2" y2="19.9" stroke-width="1.5" stroke="#5a0f2d"/><line x1="-3.2" y1="33.8" x2="3.2" y2="33.8" stroke-width="1.5" stroke="#5a0f2d"/><line x1="-3.2" y1="36.4" x2="3.2" y2="36.4" stroke-width="1.5" stroke="#5a0f2d"/><path d="M-5,2.2 Q0,6 5,2.2" fill="none" stroke="#5a0f2d" stroke-width="2.4"/></g><g transform="translate(476.6,744.5) skewX(0)"><line x1="0" y1="1.5" x2="0" y2="38.5" stroke-width="1.7" stroke="#64122f"/><circle cx="0" cy="6.8" r="3.3"/><circle cx="0" cy="6.8" r="1" fill="#c8708a"/><circle cx="0" cy="19.5" r="3.3"/><circle cx="0" cy="19.5" r="1" fill="#c8708a"/><circle cx="0" cy="32.2" r="3.3"/><circle cx="0" cy="32.2" r="1" fill="#c8708a"/><line x1="-3.2" y1="13.1" x2="3.2" y2="13.1" stroke-width="1.5" stroke="#5a0f2d"/><line x1="-3.2" y1="25.9" x2="3.2" y2="25.9" stroke-width="1.5" stroke="#5a0f2d"/><line x1="-3.2" y1="37.5" x2="3.2" y2="37.5" stroke-width="1.5" stroke="#5a0f2d"/><ellipse cx="0" cy="1.1" rx="2.8" ry="1.8"/></g><g transform="translate(497.3,744.5) skewX(0)"><line x1="0" y1="1.5" x2="0" y2="38.5" stroke-width="1.7" stroke="#64122f"/><circle cx="0" cy="13.1" r="3.3"/><circle cx="0" cy="13.1" r="1" fill="#c8708a"/><circle cx="0" cy="27" r="3.3"/><circle cx="0" cy="27" r="1" fill="#c8708a"/><line x1="-3.2" y1="6.8" x2="3.2" y2="6.8" stroke-width="1.5" stroke="#5a0f2d"/><line x1="-3.2" y1="19.9" x2="3.2" y2="19.9" stroke-width="1.5" stroke="#5a0f2d"/><line x1="-3.2" y1="33.8" x2="3.2" y2="33.8" stroke-width="1.5" stroke="#5a0f2d"/><line x1="-3.2" y1="36.4" x2="3.2" y2="36.4" stroke-width="1.5" stroke="#5a0f2d"/><path d="M-5,2.2 Q0,6 5,2.2" fill="none" stroke="#5a0f2d" stroke-width="2.4"/></g><g transform="translate(518,744.5) skewX(0)"><line x1="0" y1="1.5" x2="0" y2="38.5" stroke-width="1.7" stroke="#64122f"/><circle cx="0" cy="6.8" r="3.3"/><circle cx="0" cy="6.8" r="1" fill="#c8708a"/><circle cx="0" cy="19.5" r="3.3"/><circle cx="0" cy="19.5" r="1" fill="#c8708a"/><circle cx="0" cy="32.2" r="3.3"/><circle cx="0" cy="32.2" r="1" fill="#c8708a"/><line x1="-3.2" y1="13.1" x2="3.2" y2="13.1" stroke-width="1.5" stroke="#5a0f2d"/><line x1="-3.2" y1="25.9" x2="3.2" y2="25.9" stroke-width="1.5" stroke="#5a0f2d"/><line x1="-3.2" y1="37.5" x2="3.2" y2="37.5" stroke-width="1.5" stroke="#5a0f2d"/><ellipse cx="0" cy="1.1" rx="2.8" ry="1.8"/></g><g transform="translate(538.7,744.5) skewX(0)"><line x1="0" y1="1.5" x2="0" y2="38.5" stroke-width="1.7" stroke="#64122f"/><circle cx="0" cy="13.1" r="3.3"/><circle cx="0" cy="13.1" r="1" fill="#c8708a"/><circle cx="0" cy="27" r="3.3"/><circle cx="0" cy="27" r="1" fill="#c8708a"/><line x1="-3.2" y1="6.8" x2="3.2" y2="6.8" stroke-width="1.5" stroke="#5a0f2d"/><line x1="-3.2" y1="19.9" x2="3.2" y2="19.9" stroke-width="1.5" stroke="#5a0f2d"/><line x1="-3.2" y1="33.8" x2="3.2" y2="33.8" stroke-width="1.5" stroke="#5a0f2d"/><line x1="-3.2" y1="36.4" x2="3.2" y2="36.4" stroke-width="1.5" stroke="#5a0f2d"/><path d="M-5,2.2 Q0,6 5,2.2" fill="none" stroke="#5a0f2d" stroke-width="2.4"/></g><g transform="translate(559.4,744.5) skewX(0)"><line x1="0" y1="1.5" x2="0" y2="38.5" stroke-width="1.7" stroke="#64122f"/><circle cx="0" cy="6.8" r="3.3"/><circle cx="0" cy="6.8" r="1" fill="#c8708a"/><circle cx="0" cy="19.5" r="3.3"/><circle cx="0" cy="19.5" r="1" fill="#c8708a"/><circle cx="0" cy="32.2" r="3.3"/><circle cx="0" cy="32.2" r="1" fill="#c8708a"/><line x1="-3.2" y1="13.1" x2="3.2" y2="13.1" stroke-width="1.5" stroke="#5a0f2d"/><line x1="-3.2" y1="25.9" x2="3.2" y2="25.9" stroke-width="1.5" stroke="#5a0f2d"/><line x1="-3.2" y1="37.5" x2="3.2" y2="37.5" stroke-width="1.5" stroke="#5a0f2d"/><ellipse cx="0" cy="1.1" rx="2.8" ry="1.8"/></g><g transform="translate(580.1,744.5) skewX(0)"><line x1="0" y1="1.5" x2="0" y2="38.5" stroke-width="1.7" stroke="#64122f"/><circle cx="0" cy="13.1" r="3.3"/><circle cx="0" cy="13.1" r="1" fill="#c8708a"/><circle cx="0" cy="27" r="3.3"/><circle cx="0" cy="27" r="1" fill="#c8708a"/><line x1="-3.2" y1="6.8" x2="3.2" y2="6.8" stroke-width="1.5" stroke="#5a0f2d"/><line x1="-3.2" y1="19.9" x2="3.2" y2="19.9" stroke-width="1.5" stroke="#5a0f2d"/><line x1="-3.2" y1="33.8" x2="3.2" y2="33.8" stroke-width="1.5" stroke="#5a0f2d"/><line x1="-3.2" y1="36.4" x2="3.2" y2="36.4" stroke-width="1.5" stroke="#5a0f2d"/><path d="M-5,2.2 Q0,6 5,2.2" fill="none" stroke="#5a0f2d" stroke-width="2.4"/></g><g transform="translate(600.8,744.5) skewX(0)"><line x1="0" y1="1.5" x2="0" y2="38.5" stroke-width="1.7" stroke="#64122f"/><circle cx="0" cy="6.7" r="3.3"/><circle cx="0" cy="6.7" r="1" fill="#c8708a"/><circle cx="0" cy="19.5" r="3.3"/><circle cx="0" cy="19.5" r="1" fill="#c8708a"/><circle cx="0" cy="32.2" r="3.3"/><circle cx="0" cy="32.2" r="1" fill="#c8708a"/><line x1="-3.2" y1="13.1" x2="3.2" y2="13.1" stroke-width="1.5" stroke="#5a0f2d"/><line x1="-3.2" y1="25.9" x2="3.2" y2="25.9" stroke-width="1.5" stroke="#5a0f2d"/><line x1="-3.2" y1="37.5" x2="3.2" y2="37.5" stroke-width="1.5" stroke="#5a0f2d"/><ellipse cx="0" cy="1.1" rx="2.8" ry="1.8"/></g><g transform="translate(621.5,745.3) skewX(0)"><line x1="0" y1="1.5" x2="0" y2="37.7" stroke-width="1.7" stroke="#64122f"/><circle cx="0" cy="12.8" r="3.3"/><circle cx="0" cy="12.8" r="1" fill="#c8708a"/><circle cx="0" cy="26.4" r="3.3"/><circle cx="0" cy="26.4" r="1" fill="#c8708a"/><line x1="-3.2" y1="6.6" x2="3.2" y2="6.6" stroke-width="1.5" stroke="#5a0f2d"/><line x1="-3.2" y1="19.5" x2="3.2" y2="19.5" stroke-width="1.5" stroke="#5a0f2d"/><line x1="-3.2" y1="33" x2="3.2" y2="33" stroke-width="1.5" stroke="#5a0f2d"/><line x1="-3.2" y1="35.6" x2="3.2" y2="35.6" stroke-width="1.5" stroke="#5a0f2d"/><path d="M-5,2.2 Q0,5.9 5,2.2" fill="none" stroke="#5a0f2d" stroke-width="2.4"/></g><g transform="translate(642.2,746.1) skewX(0)"><line x1="0" y1="1.4" x2="0" y2="36.9" stroke-width="1.7" stroke="#64122f"/><circle cx="0" cy="6.5" r="3.3"/><circle cx="0" cy="6.5" r="1" fill="#c8708a"/><circle cx="0" cy="18.7" r="3.3"/><circle cx="0" cy="18.7" r="1" fill="#c8708a"/><circle cx="0" cy="30.9" r="3.3"/><circle cx="0" cy="30.9" r="1" fill="#c8708a"/><line x1="-3.2" y1="12.6" x2="3.2" y2="12.6" stroke-width="1.5" stroke="#5a0f2d"/><line x1="-3.2" y1="24.8" x2="3.2" y2="24.8" stroke-width="1.5" stroke="#5a0f2d"/><line x1="-3.2" y1="35.9" x2="3.2" y2="35.9" stroke-width="1.5" stroke="#5a0f2d"/><ellipse cx="0" cy="1.1" rx="2.8" ry="1.8"/></g><g transform="translate(662.9,746.6) skewX(0)"><line x1="0" y1="1.4" x2="0" y2="36.4" stroke-width="1.7" stroke="#64122f"/><circle cx="0" cy="12.4" r="3.3"/><circle cx="0" cy="12.4" r="1" fill="#c8708a"/><circle cx="0" cy="25.5" r="3.3"/><circle cx="0" cy="25.5" r="1" fill="#c8708a"/><line x1="-3.2" y1="6.4" x2="3.2" y2="6.4" stroke-width="1.5" stroke="#5a0f2d"/><line x1="-3.2" y1="18.8" x2="3.2" y2="18.8" stroke-width="1.5" stroke="#5a0f2d"/><line x1="-3.2" y1="31.8" x2="3.2" y2="31.8" stroke-width="1.5" stroke="#5a0f2d"/><line x1="-3.2" y1="34.3" x2="3.2" y2="34.3" stroke-width="1.5" stroke="#5a0f2d"/><path d="M-5,2.1 Q0,5.7 5,2.1" fill="none" stroke="#5a0f2d" stroke-width="2.4"/></g><g transform="translate(683.6,746.9) skewX(0)"><line x1="0" y1="1.4" x2="0" y2="36.1" stroke-width="1.7" stroke="#64122f"/><circle cx="0" cy="6.3" r="3.3"/><circle cx="0" cy="6.3" r="1" fill="#c8708a"/><circle cx="0" cy="18.3" r="3.3"/><circle cx="0" cy="18.3" r="1" fill="#c8708a"/><circle cx="0" cy="30.2" r="3.3"/><circle cx="0" cy="30.2" r="1" fill="#c8708a"/><line x1="-3.2" y1="12.3" x2="3.2" y2="12.3" stroke-width="1.5" stroke="#5a0f2d"/><line x1="-3.2" y1="24.2" x2="3.2" y2="24.2" stroke-width="1.5" stroke="#5a0f2d"/><line x1="-3.2" y1="35.1" x2="3.2" y2="35.1" stroke-width="1.5" stroke="#5a0f2d"/><ellipse cx="0" cy="1.1" rx="2.8" ry="1.8"/></g><g transform="translate(704.3,746.4) skewX(0)"><line x1="0" y1="1.4" x2="0" y2="36.6" stroke-width="1.7" stroke="#64122f"/><circle cx="0" cy="12.5" r="3.3"/><circle cx="0" cy="12.5" r="1" fill="#c8708a"/><circle cx="0" cy="25.7" r="3.3"/><circle cx="0" cy="25.7" r="1" fill="#c8708a"/><line x1="-3.2" y1="6.4" x2="3.2" y2="6.4" stroke-width="1.5" stroke="#5a0f2d"/><line x1="-3.2" y1="18.9" x2="3.2" y2="18.9" stroke-width="1.5" stroke="#5a0f2d"/><line x1="-3.2" y1="32.1" x2="3.2" y2="32.1" stroke-width="1.5" stroke="#5a0f2d"/><line x1="-3.2" y1="34.6" x2="3.2" y2="34.6" stroke-width="1.5" stroke="#5a0f2d"/><path d="M-5,2.1 Q0,5.7 5,2.1" fill="none" stroke="#5a0f2d" stroke-width="2.4"/></g><g transform="translate(725,745.1) skewX(0)"><line x1="0" y1="1.5" x2="0" y2="37.9" stroke-width="1.7" stroke="#64122f"/><circle cx="0" cy="6.6" r="3.3"/><circle cx="0" cy="6.6" r="1" fill="#c8708a"/><circle cx="0" cy="19.2" r="3.3"/><circle cx="0" cy="19.2" r="1" fill="#c8708a"/><circle cx="0" cy="31.7" r="3.3"/><circle cx="0" cy="31.7" r="1" fill="#c8708a"/><line x1="-3.2" y1="12.9" x2="3.2" y2="12.9" stroke-width="1.5" stroke="#5a0f2d"/><line x1="-3.2" y1="25.5" x2="3.2" y2="25.5" stroke-width="1.5" stroke="#5a0f2d"/><line x1="-3.2" y1="36.9" x2="3.2" y2="36.9" stroke-width="1.5" stroke="#5a0f2d"/><ellipse cx="0" cy="1.1" rx="2.8" ry="1.8"/></g><g transform="translate(745.7,744.5) skewX(0)"><line x1="0" y1="1.5" x2="0" y2="38.5" stroke-width="1.7" stroke="#64122f"/><circle cx="0" cy="13.1" r="3.3"/><circle cx="0" cy="13.1" r="1" fill="#c8708a"/><circle cx="0" cy="27" r="3.3"/><circle cx="0" cy="27" r="1" fill="#c8708a"/><line x1="-3.2" y1="6.8" x2="3.2" y2="6.8" stroke-width="1.5" stroke="#5a0f2d"/><line x1="-3.2" y1="19.9" x2="3.2" y2="19.9" stroke-width="1.5" stroke="#5a0f2d"/><line x1="-3.2" y1="33.8" x2="3.2" y2="33.8" stroke-width="1.5" stroke="#5a0f2d"/><line x1="-3.2" y1="36.4" x2="3.2" y2="36.4" stroke-width="1.5" stroke="#5a0f2d"/><path d="M-5,2.2 Q0,6 5,2.2" fill="none" stroke="#5a0f2d" stroke-width="2.4"/></g><g transform="translate(766.4,744.5) skewX(0)"><line x1="0" y1="1.5" x2="0" y2="38.5" stroke-width="1.7" stroke="#64122f"/><circle cx="0" cy="6.8" r="3.3"/><circle cx="0" cy="6.8" r="1" fill="#c8708a"/><circle cx="0" cy="19.5" r="3.3"/><circle cx="0" cy="19.5" r="1" fill="#c8708a"/><circle cx="0" cy="32.2" r="3.3"/><circle cx="0" cy="32.2" r="1" fill="#c8708a"/><line x1="-3.2" y1="13.1" x2="3.2" y2="13.1" stroke-width="1.5" stroke="#5a0f2d"/><line x1="-3.2" y1="25.9" x2="3.2" y2="25.9" stroke-width="1.5" stroke="#5a0f2d"/><line x1="-3.2" y1="37.5" x2="3.2" y2="37.5" stroke-width="1.5" stroke="#5a0f2d"/><ellipse cx="0" cy="1.1" rx="2.8" ry="1.8"/></g><g transform="translate(787.1,744.5) skewX(0)"><line x1="0" y1="1.5" x2="0" y2="38.5" stroke-width="1.7" stroke="#64122f"/><circle cx="0" cy="13.1" r="3.3"/><circle cx="0" cy="13.1" r="1" fill="#c8708a"/><circle cx="0" cy="27" r="3.3"/><circle cx="0" cy="27" r="1" fill="#c8708a"/><line x1="-3.2" y1="6.8" x2="3.2" y2="6.8" stroke-width="1.5" stroke="#5a0f2d"/><line x1="-3.2" y1="19.9" x2="3.2" y2="19.9" stroke-width="1.5" stroke="#5a0f2d"/><line x1="-3.2" y1="33.8" x2="3.2" y2="33.8" stroke-width="1.5" stroke="#5a0f2d"/><line x1="-3.2" y1="36.4" x2="3.2" y2="36.4" stroke-width="1.5" stroke="#5a0f2d"/><path d="M-5,2.2 Q0,6 5,2.2" fill="none" stroke="#5a0f2d" stroke-width="2.4"/></g><g transform="translate(807.8,744.5) skewX(0)"><line x1="0" y1="1.5" x2="0" y2="38.5" stroke-width="1.7" stroke="#64122f"/><circle cx="0" cy="6.8" r="3.3"/><circle cx="0" cy="6.8" r="1" fill="#c8708a"/><circle cx="0" cy="19.5" r="3.3"/><circle cx="0" cy="19.5" r="1" fill="#c8708a"/><circle cx="0" cy="32.2" r="3.3"/><circle cx="0" cy="32.2" r="1" fill="#c8708a"/><line x1="-3.2" y1="13.1" x2="3.2" y2="13.1" stroke-width="1.5" stroke="#5a0f2d"/><line x1="-3.2" y1="25.9" x2="3.2" y2="25.9" stroke-width="1.5" stroke="#5a0f2d"/><line x1="-3.2" y1="37.5" x2="3.2" y2="37.5" stroke-width="1.5" stroke="#5a0f2d"/><ellipse cx="0" cy="1.1" rx="2.8" ry="1.8"/></g><g transform="translate(828.5,744.5) skewX(0)"><line x1="0" y1="1.5" x2="0" y2="38.5" stroke-width="1.7" stroke="#64122f"/><circle cx="0" cy="13.1" r="3.3"/><circle cx="0" cy="13.1" r="1" fill="#c8708a"/><circle cx="0" cy="27" r="3.3"/><circle cx="0" cy="27" r="1" fill="#c8708a"/><line x1="-3.2" y1="6.8" x2="3.2" y2="6.8" stroke-width="1.5" stroke="#5a0f2d"/><line x1="-3.2" y1="19.9" x2="3.2" y2="19.9" stroke-width="1.5" stroke="#5a0f2d"/><line x1="-3.2" y1="33.8" x2="3.2" y2="33.8" stroke-width="1.5" stroke="#5a0f2d"/><line x1="-3.2" y1="36.4" x2="3.2" y2="36.4" stroke-width="1.5" stroke="#5a0f2d"/><path d="M-5,2.2 Q0,6 5,2.2" fill="none" stroke="#5a0f2d" stroke-width="2.4"/></g><g transform="translate(849.2,744.5) skewX(0)"><line x1="0" y1="1.5" x2="0" y2="38.5" stroke-width="1.7" stroke="#64122f"/><circle cx="0" cy="6.8" r="3.3"/><circle cx="0" cy="6.8" r="1" fill="#c8708a"/><circle cx="0" cy="19.5" r="3.3"/><circle cx="0" cy="19.5" r="1" fill="#c8708a"/><circle cx="0" cy="32.2" r="3.3"/><circle cx="0" cy="32.2" r="1" fill="#c8708a"/><line x1="-3.2" y1="13.1" x2="3.2" y2="13.1" stroke-width="1.5" stroke="#5a0f2d"/><line x1="-3.2" y1="25.9" x2="3.2" y2="25.9" stroke-width="1.5" stroke="#5a0f2d"/><line x1="-3.2" y1="37.5" x2="3.2" y2="37.5" stroke-width="1.5" stroke="#5a0f2d"/><ellipse cx="0" cy="1.1" rx="2.8" ry="1.8"/></g></g>
<path d="M320,782C407.5,782 757.5,782 845,782L845,805C757.5,805 407.5,805 320,805Z" fill="#ef8757"/>
<g fill="#c42c14"><circle cx="336.1" cy="788.2" r="1.7"/><circle cx="343.9" cy="800.4" r="1.9"/><circle cx="350.6" cy="787.2" r="1.7"/><circle cx="358.9" cy="799.4" r="1.9"/><circle cx="354.4" cy="794" r="1.4" fill="#b8321c"/><circle cx="365.5" cy="788.9" r="1.7"/><circle cx="371.7" cy="801.1" r="1.9"/><circle cx="380.2" cy="787.4" r="1.7"/><circle cx="385.6" cy="799.6" r="1.9"/><circle cx="395.4" cy="788.9" r="1.7"/><circle cx="400.3" cy="801.1" r="1.9"/><circle cx="397.9" cy="794" r="1.4" fill="#b8321c"/><circle cx="409.8" cy="788" r="1.7"/><circle cx="416.1" cy="800.2" r="1.9"/><circle cx="421" cy="787.4" r="1.7"/><circle cx="428.4" cy="799.6" r="1.9"/><circle cx="438.2" cy="789.2" r="1.7"/><circle cx="442.8" cy="801.4" r="1.9"/><circle cx="441.4" cy="794" r="1.4" fill="#b8321c"/><circle cx="453.4" cy="789" r="1.7"/><circle cx="459.4" cy="801.2" r="1.9"/><circle cx="466.2" cy="787.9" r="1.7"/><circle cx="471.8" cy="800" r="1.9"/><circle cx="482.4" cy="787" r="1.7"/><circle cx="488.3" cy="799.2" r="1.9"/><circle cx="484.9" cy="794" r="1.4" fill="#b8321c"/><circle cx="496.7" cy="788.3" r="1.7"/><circle cx="502" cy="800.5" r="1.9"/><circle cx="510.8" cy="789.1" r="1.7"/><circle cx="515.6" cy="801.3" r="1.9"/><circle cx="523.2" cy="787.6" r="1.7"/><circle cx="530.2" cy="799.8" r="1.9"/><circle cx="528.4" cy="794" r="1.4" fill="#b8321c"/><circle cx="537.5" cy="788.4" r="1.7"/><circle cx="545.4" cy="800.6" r="1.9"/><circle cx="554.6" cy="787.3" r="1.7"/><circle cx="559.7" cy="799.5" r="1.9"/><circle cx="567.8" cy="788.1" r="1.7"/><circle cx="576.4" cy="800.3" r="1.9"/><circle cx="571.9" cy="794" r="1.4" fill="#b8321c"/><circle cx="583.7" cy="788" r="1.7"/><circle cx="589.3" cy="800.2" r="1.9"/><circle cx="596.6" cy="788.3" r="1.7"/><circle cx="601.8" cy="800.5" r="1.9"/><circle cx="609.7" cy="788.1" r="1.7"/><circle cx="616.3" cy="800.3" r="1.9"/><circle cx="615.4" cy="794" r="1.4" fill="#b8321c"/><circle cx="624.2" cy="788.9" r="1.7"/><circle cx="632.6" cy="801.1" r="1.9"/><circle cx="640.2" cy="788.8" r="1.7"/><circle cx="646.6" cy="800.9" r="1.9"/><circle cx="654.7" cy="788.3" r="1.7"/><circle cx="662.9" cy="800.4" r="1.9"/><circle cx="658.9" cy="794" r="1.4" fill="#b8321c"/><circle cx="669.2" cy="787.3" r="1.7"/><circle cx="675.2" cy="799.5" r="1.9"/><circle cx="684.6" cy="787.7" r="1.7"/><circle cx="690.8" cy="799.9" r="1.9"/><circle cx="699" cy="788.4" r="1.7"/><circle cx="706.9" cy="800.5" r="1.9"/><circle cx="702.4" cy="794" r="1.4" fill="#b8321c"/><circle cx="713" cy="788.1" r="1.7"/><circle cx="719.8" cy="800.3" r="1.9"/><circle cx="727.8" cy="788.2" r="1.7"/><circle cx="734.1" cy="800.4" r="1.9"/><circle cx="741.4" cy="788.3" r="1.7"/><circle cx="750.5" cy="800.5" r="1.9"/><circle cx="745.9" cy="794" r="1.4" fill="#b8321c"/><circle cx="757.5" cy="788.7" r="1.7"/><circle cx="765" cy="800.9" r="1.9"/><circle cx="770.7" cy="787.6" r="1.7"/><circle cx="779.5" cy="799.8" r="1.9"/><circle cx="783.5" cy="789" r="1.7"/><circle cx="790.7" cy="801.2" r="1.9"/><circle cx="789.4" cy="794" r="1.4" fill="#b8321c"/><circle cx="797.8" cy="788.1" r="1.7"/><circle cx="805.7" cy="800.3" r="1.9"/><circle cx="814.7" cy="787.2" r="1.7"/><circle cx="822.4" cy="799.4" r="1.9"/><circle cx="827.1" cy="789.2" r="1.7"/><circle cx="836.6" cy="801.4" r="1.9"/><circle cx="832.9" cy="794" r="1.4" fill="#b8321c"/></g><g fill="#f9c49a" opacity="0.8"><circle cx="341.5" cy="792.1" r="1.3"/><circle cx="353.8" cy="795.4" r="1.3"/><circle cx="360.8" cy="795.3" r="1.3"/><circle cx="372.9" cy="793.4" r="1.3"/><circle cx="387.4" cy="794.8" r="1.3"/><circle cx="393.5" cy="793.2" r="1.3"/><circle cx="406.6" cy="792.9" r="1.3"/><circle cx="415.7" cy="792.8" r="1.3"/><circle cx="429.8" cy="791.6" r="1.3"/><circle cx="439.8" cy="793.3" r="1.3"/><circle cx="447.6" cy="792.8" r="1.3"/><circle cx="462.2" cy="793.5" r="1.3"/><circle cx="469.9" cy="795.4" r="1.3"/><circle cx="485.2" cy="795.4" r="1.3"/><circle cx="492.1" cy="792.6" r="1.3"/><circle cx="502.7" cy="794.6" r="1.3"/><circle cx="515.1" cy="792" r="1.3"/><circle cx="527" cy="795.1" r="1.3"/><circle cx="540.4" cy="792.5" r="1.3"/><circle cx="547.4" cy="795.2" r="1.3"/><circle cx="560.9" cy="794.3" r="1.3"/><circle cx="569" cy="791.7" r="1.3"/><circle cx="583.6" cy="793.2" r="1.3"/><circle cx="590.9" cy="795.3" r="1.3"/><circle cx="605.3" cy="794.7" r="1.3"/><circle cx="613" cy="794.9" r="1.3"/><circle cx="623.9" cy="795" r="1.3"/><circle cx="637.2" cy="792.9" r="1.3"/><circle cx="648.8" cy="795.2" r="1.3"/><circle cx="658.1" cy="792" r="1.3"/><circle cx="670.7" cy="792.5" r="1.3"/><circle cx="679.2" cy="792.1" r="1.3"/><circle cx="689.8" cy="792.3" r="1.3"/><circle cx="702.4" cy="792.7" r="1.3"/><circle cx="716.1" cy="792.7" r="1.3"/><circle cx="725.5" cy="792.2" r="1.3"/><circle cx="735.6" cy="791.6" r="1.3"/><circle cx="746" cy="791.6" r="1.3"/><circle cx="759.9" cy="793.7" r="1.3"/><circle cx="767.6" cy="793.4" r="1.3"/><circle cx="783.1" cy="791.9" r="1.3"/><circle cx="793.4" cy="793.2" r="1.3"/><circle cx="802.5" cy="794.8" r="1.3"/><circle cx="812.9" cy="793.5" r="1.3"/><circle cx="825.6" cy="795.4" r="1.3"/><circle cx="834.6" cy="794.8" r="1.3"/></g>
<path d="M322,862C323.8,864 329.5,870.7 332.5,874C335.5,877.3 336.4,879.5 340.2,881.6C344,883.7 350.8,886.3 355.5,886.7C360.2,887.1 364.2,886.2 368.2,884.1C372.2,882 376.5,878.2 379.7,874C382.9,869.8 385.1,863.7 387.4,858.6C389.7,853.5 391.4,847.1 393.7,843.3C396,839.5 398.8,837.1 401.4,835.7C403.9,834.4 406.2,834.4 409,835.2C411.8,836.1 415.2,837.8 418,840.8C420.8,843.8 423.1,849.2 425.6,853.5C428.1,857.8 430.4,862.3 433.2,866.3C436,870.3 439,874.7 442.2,877.7C445.4,880.7 448.6,882.8 452.4,884.1C456.2,885.4 460.9,886 465.1,885.4C469.3,884.8 474,883.1 477.8,880.3C481.6,877.5 485,872.8 488,868.8C491,864.8 493.3,860.1 495.7,856.1C498.1,852.1 500,847.4 502.1,844.6C504.2,841.8 506.3,840.6 508.4,839.5C510.5,838.4 512.7,837.8 514.8,838.2C516.9,838.6 518.9,840 521.2,842.1C523.5,844.2 526.2,847.4 528.8,851C531.3,854.6 533.5,859.7 536.5,863.7C539.5,867.7 543.3,872.4 546.7,875.2C550.1,878 553.5,879.4 556.9,880.3C560.3,881.1 563.5,881.1 567.1,880.3C570.7,879.4 574.6,878.4 578.5,875.2C582.4,872 587,866.1 590.2,861.2C593.4,856.3 595.2,850.6 597.8,845.9C600.3,841.2 603,836 605.5,833.1C608,830.2 610.6,829 613.1,828.5C615.6,828 618.2,828.7 620.8,830.1C623.3,831.5 626.1,834 628.4,837C630.7,840 632.4,844.4 634.8,848.4C637.1,852.4 639.7,857.2 642.5,861.2C645.3,865.2 648.2,869.6 651.4,872.6C654.6,875.6 658,877.7 661.6,879C665.2,880.3 669.2,880.5 673,880.3C676.8,880.1 680.9,879.6 684.5,877.7C688.1,875.8 691.7,872.2 694.7,868.8C697.7,865.4 699.9,861.6 702.4,857.4C704.9,853.1 707.2,847.3 710,843.3C712.8,839.2 715.9,835.3 718.9,833.1C721.9,830.9 724.8,830.1 727.8,830.1C730.8,830.1 734.2,830.9 736.8,833.1C739.3,835.3 741,839 743.1,843.3C745.2,847.5 747,853.5 749.5,858.6C752,863.7 755.2,869.9 758.4,873.9C761.6,877.9 764.8,880.7 768.6,882.8C772.4,884.9 777.1,886.1 781.4,886.7C785.6,887.3 789.9,887.1 794.1,886.2C798.4,885.4 803.1,883.9 806.9,881.6C810.7,879.3 813.8,876 817,872.6C820.2,869.2 823,865 826,861.2C829,857.4 831.8,853.7 835,849.7C838.2,845.7 843.3,839.1 845,837L845.8,969.7 L322.5,969.7 Z" fill="#f6e3a1" stroke="#ee7c4a" stroke-width="20.5" stroke-linejoin="round"/>
<path d="M322,862C323.8,864 329.5,870.7 332.5,874C335.5,877.3 336.4,879.5 340.2,881.6C344,883.7 350.8,886.3 355.5,886.7C360.2,887.1 364.2,886.2 368.2,884.1C372.2,882 376.5,878.2 379.7,874C382.9,869.8 385.1,863.7 387.4,858.6C389.7,853.5 391.4,847.1 393.7,843.3C396,839.5 398.8,837.1 401.4,835.7C403.9,834.4 406.2,834.4 409,835.2C411.8,836.1 415.2,837.8 418,840.8C420.8,843.8 423.1,849.2 425.6,853.5C428.1,857.8 430.4,862.3 433.2,866.3C436,870.3 439,874.7 442.2,877.7C445.4,880.7 448.6,882.8 452.4,884.1C456.2,885.4 460.9,886 465.1,885.4C469.3,884.8 474,883.1 477.8,880.3C481.6,877.5 485,872.8 488,868.8C491,864.8 493.3,860.1 495.7,856.1C498.1,852.1 500,847.4 502.1,844.6C504.2,841.8 506.3,840.6 508.4,839.5C510.5,838.4 512.7,837.8 514.8,838.2C516.9,838.6 518.9,840 521.2,842.1C523.5,844.2 526.2,847.4 528.8,851C531.3,854.6 533.5,859.7 536.5,863.7C539.5,867.7 543.3,872.4 546.7,875.2C550.1,878 553.5,879.4 556.9,880.3C560.3,881.1 563.5,881.1 567.1,880.3C570.7,879.4 574.6,878.4 578.5,875.2C582.4,872 587,866.1 590.2,861.2C593.4,856.3 595.2,850.6 597.8,845.9C600.3,841.2 603,836 605.5,833.1C608,830.2 610.6,829 613.1,828.5C615.6,828 618.2,828.7 620.8,830.1C623.3,831.5 626.1,834 628.4,837C630.7,840 632.4,844.4 634.8,848.4C637.1,852.4 639.7,857.2 642.5,861.2C645.3,865.2 648.2,869.6 651.4,872.6C654.6,875.6 658,877.7 661.6,879C665.2,880.3 669.2,880.5 673,880.3C676.8,880.1 680.9,879.6 684.5,877.7C688.1,875.8 691.7,872.2 694.7,868.8C697.7,865.4 699.9,861.6 702.4,857.4C704.9,853.1 707.2,847.3 710,843.3C712.8,839.2 715.9,835.3 718.9,833.1C721.9,830.9 724.8,830.1 727.8,830.1C730.8,830.1 734.2,830.9 736.8,833.1C739.3,835.3 741,839 743.1,843.3C745.2,847.5 747,853.5 749.5,858.6C752,863.7 755.2,869.9 758.4,873.9C761.6,877.9 764.8,880.7 768.6,882.8C772.4,884.9 777.1,886.1 781.4,886.7C785.6,887.3 789.9,887.1 794.1,886.2C798.4,885.4 803.1,883.9 806.9,881.6C810.7,879.3 813.8,876 817,872.6C820.2,869.2 823,865 826,861.2C829,857.4 831.8,853.7 835,849.7C838.2,845.7 843.3,839.1 845,837L845.8,969.7 L322.5,969.7 Z" fill="#f6e3a1" stroke="#f9eeb0" stroke-width="2.6" stroke-linejoin="round"/>
<g fill="#d22f1a"><circle cx="329.7" cy="862.3" r="2.15"/><circle cx="336.7" cy="870.2" r="2.15"/><circle cx="344.3" cy="877.3" r="2.15"/><circle cx="354.3" cy="880.8" r="2.15"/><circle cx="364.8" cy="879.4" r="2.15"/><circle cx="373.1" cy="873" r="2.15"/><circle cx="378.7" cy="864.2" r="2.15"/><circle cx="382.9" cy="854.5" r="2.15"/><circle cx="386.7" cy="844.7" r="2.15"/><circle cx="392.3" cy="835.7" r="2.15"/><circle cx="401.1" cy="829.6" r="2.15"/><circle cx="411.7" cy="830.1" r="2.15"/><circle cx="420.6" cy="835.4" r="2.15"/><circle cx="426.8" cy="843.7" r="2.15"/><circle cx="431.8" cy="852.9" r="2.15"/><circle cx="437.1" cy="861.9" r="2.15"/><circle cx="443.4" cy="870.6" r="2.15"/><circle cx="451.5" cy="877.5" r="2.15"/><circle cx="461.5" cy="879.9" r="2.15"/><circle cx="471.6" cy="877.4" r="2.15"/><circle cx="479.5" cy="870.6" r="2.15"/><circle cx="485.8" cy="861.9" r="2.15"/><circle cx="491" cy="852.8" r="2.15"/><circle cx="496" cy="843.4" r="2.15"/><circle cx="503.4" cy="835.8" r="2.15"/><circle cx="513.2" cy="832.4" r="2.15"/><circle cx="523.3" cy="836.4" r="2.15"/><circle cx="530.9" cy="844.3" r="2.15"/><circle cx="536.8" cy="853.3" r="2.15"/><circle cx="542.6" cy="862.3" r="2.15"/><circle cx="549.5" cy="870.1" r="2.15"/><circle cx="558.7" cy="874.9" r="2.15"/><circle cx="569.1" cy="873.9" r="2.15"/><circle cx="577.7" cy="868.1" r="2.15"/><circle cx="584.4" cy="859.6" r="2.15"/><circle cx="589.5" cy="850.2" r="2.15"/><circle cx="594.1" cy="840.7" r="2.15"/><circle cx="599.5" cy="831.5" r="2.15"/><circle cx="607.4" cy="824.4" r="2.15"/><circle cx="617.8" cy="822.9" r="2.15"/><circle cx="627.1" cy="827.5" r="2.15"/><circle cx="634.2" cy="835.4" r="2.15"/><circle cx="639.2" cy="844.7" r="2.15"/><circle cx="644.6" cy="853.9" r="2.15"/><circle cx="650.5" cy="862.7" r="2.15"/><circle cx="657.7" cy="870.4" r="2.15"/><circle cx="667.4" cy="874.5" r="2.15"/><circle cx="677.9" cy="874" r="2.15"/><circle cx="686.8" cy="868.8" r="2.15"/><circle cx="693.8" cy="860.5" r="2.15"/><circle cx="699.2" cy="851.4" r="2.15"/><circle cx="704.1" cy="842" r="2.15"/><circle cx="710.6" cy="833.1" r="2.15"/><circle cx="718.8" cy="826.5" r="2.15"/><circle cx="729.2" cy="824.4" r="2.15"/><circle cx="739.2" cy="827.7" r="2.15"/><circle cx="745.8" cy="835.9" r="2.15"/><circle cx="750.3" cy="845.5" r="2.15"/><circle cx="754.2" cy="855.2" r="2.15"/><circle cx="759" cy="864.5" r="2.15"/><circle cx="765.3" cy="873.2" r="2.15"/><circle cx="773.9" cy="879" r="2.15"/><circle cx="784.3" cy="881.3" r="2.15"/><circle cx="794.7" cy="880.2" r="2.15"/><circle cx="804.6" cy="876.3" r="2.15"/><circle cx="812.5" cy="869.1" r="2.15"/><circle cx="819.3" cy="860.6" r="2.15"/><circle cx="825.8" cy="852.2" r="2.15"/><circle cx="832.5" cy="843.7" r="2.15"/><circle cx="839" cy="835.4" r="2.15"/></g><g fill="#9c1c0c"><circle cx="329.7" cy="862.3" r="0.97"/><circle cx="336.7" cy="870.2" r="0.97"/><circle cx="344.3" cy="877.3" r="0.97"/><circle cx="354.3" cy="880.8" r="0.97"/><circle cx="364.8" cy="879.4" r="0.97"/><circle cx="373.1" cy="873" r="0.97"/><circle cx="378.7" cy="864.2" r="0.97"/><circle cx="382.9" cy="854.5" r="0.97"/><circle cx="386.7" cy="844.7" r="0.97"/><circle cx="392.3" cy="835.7" r="0.97"/><circle cx="401.1" cy="829.6" r="0.97"/><circle cx="411.7" cy="830.1" r="0.97"/><circle cx="420.6" cy="835.4" r="0.97"/><circle cx="426.8" cy="843.7" r="0.97"/><circle cx="431.8" cy="852.9" r="0.97"/><circle cx="437.1" cy="861.9" r="0.97"/><circle cx="443.4" cy="870.6" r="0.97"/><circle cx="451.5" cy="877.5" r="0.97"/><circle cx="461.5" cy="879.9" r="0.97"/><circle cx="471.6" cy="877.4" r="0.97"/><circle cx="479.5" cy="870.6" r="0.97"/><circle cx="485.8" cy="861.9" r="0.97"/><circle cx="491" cy="852.8" r="0.97"/><circle cx="496" cy="843.4" r="0.97"/><circle cx="503.4" cy="835.8" r="0.97"/><circle cx="513.2" cy="832.4" r="0.97"/><circle cx="523.3" cy="836.4" r="0.97"/><circle cx="530.9" cy="844.3" r="0.97"/><circle cx="536.8" cy="853.3" r="0.97"/><circle cx="542.6" cy="862.3" r="0.97"/><circle cx="549.5" cy="870.1" r="0.97"/><circle cx="558.7" cy="874.9" r="0.97"/><circle cx="569.1" cy="873.9" r="0.97"/><circle cx="577.7" cy="868.1" r="0.97"/><circle cx="584.4" cy="859.6" r="0.97"/><circle cx="589.5" cy="850.2" r="0.97"/><circle cx="594.1" cy="840.7" r="0.97"/><circle cx="599.5" cy="831.5" r="0.97"/><circle cx="607.4" cy="824.4" r="0.97"/><circle cx="617.8" cy="822.9" r="0.97"/><circle cx="627.1" cy="827.5" r="0.97"/><circle cx="634.2" cy="835.4" r="0.97"/><circle cx="639.2" cy="844.7" r="0.97"/><circle cx="644.6" cy="853.9" r="0.97"/><circle cx="650.5" cy="862.7" r="0.97"/><circle cx="657.7" cy="870.4" r="0.97"/><circle cx="667.4" cy="874.5" r="0.97"/><circle cx="677.9" cy="874" r="0.97"/><circle cx="686.8" cy="868.8" r="0.97"/><circle cx="693.8" cy="860.5" r="0.97"/><circle cx="699.2" cy="851.4" r="0.97"/><circle cx="704.1" cy="842" r="0.97"/><circle cx="710.6" cy="833.1" r="0.97"/><circle cx="718.8" cy="826.5" r="0.97"/><circle cx="729.2" cy="824.4" r="0.97"/><circle cx="739.2" cy="827.7" r="0.97"/><circle cx="745.8" cy="835.9" r="0.97"/><circle cx="750.3" cy="845.5" r="0.97"/><circle cx="754.2" cy="855.2" r="0.97"/><circle cx="759" cy="864.5" r="0.97"/><circle cx="765.3" cy="873.2" r="0.97"/><circle cx="773.9" cy="879" r="0.97"/><circle cx="784.3" cy="881.3" r="0.97"/><circle cx="794.7" cy="880.2" r="0.97"/><circle cx="804.6" cy="876.3" r="0.97"/><circle cx="812.5" cy="869.1" r="0.97"/><circle cx="819.3" cy="860.6" r="0.97"/><circle cx="825.8" cy="852.2" r="0.97"/><circle cx="832.5" cy="843.7" r="0.97"/><circle cx="839" cy="835.4" r="0.97"/></g>
<g fill="#f8e8a8" stroke="#deaa48" stroke-width="1.3"><circle cx="429.5" cy="945.5" r="3"/><circle cx="567.2" cy="949.6" r="3"/><circle cx="817" cy="931.2" r="3.3"/><circle cx="790" cy="936.8" r="2.8"/><circle cx="768.5" cy="936.8" r="2.6"/><circle cx="832.3" cy="944" r="3"/><circle cx="697.2" cy="933.8" r="1.3"/><circle cx="673.2" cy="953" r="2.6"/><circle cx="391.3" cy="950.6" r="1.2"/><circle cx="498.3" cy="950.6" r="1.2"/><circle cx="365.8" cy="960.2" r="3.4"/><circle cx="449.9" cy="958.8" r="3"/><circle cx="479" cy="958.8" r="2.8"/><circle cx="544.2" cy="958.8" r="3.4"/><circle cx="587.6" cy="960.4" r="3"/><circle cx="613" cy="960.6" r="3"/><circle cx="704.8" cy="958.8" r="3.6"/><circle cx="752.2" cy="958.8" r="3.6"/><circle cx="806.8" cy="958.8" r="3.6"/></g>
</g>
<!-- device -->
<polygon points="511.3,327 662.2,327 631.5,399.2 540.2,399.2" fill="#d9d9d9"/>
<rect x="499.6" y="298" width="172" height="27" fill="#808080" stroke="#333" stroke-width="1.6"/>
<g fill="#0ac6c8" stroke="none">
<path fill-rule="evenodd" d="M254.4,32.8H280.7A23.1,23.1 0 0 1 289.5,77.3L308.7,108.3H293L274.8,79H267.5V108.3H254.4ZM267.5,44.6H278.7A11.3,11.3 0 0 1 278.7,67.2H267.5Z"/>
<path d="M315.6,32.8H357.2V44.6H328.7V64.2H355.8V75.6H328.7V108.3H315.6Z"/>
<path d="M380.3,32.8H435.1V44.6H414V108.3H400.9V44.6H380.3Z"/>
<path d="M440.2,32.8H453.3V59.9A21.8,21.8 0 0 1 489.8,76V108.3H476.7V78.9A11.7,11.7 0 0 0 453.3,78.9V108.3H440.2Z"/>
<path d="M556.5,54.4H569.4V63Q575.5,54.4 586.9,54.4V67.2Q573,67.2 569.4,82V108.3H556.5Z"/>
<rect x="632" y="55.4" width="13.1" height="52.9"/>
<rect x="656.1" y="55.4" width="13.1" height="74.5"/>
<path d="M714.3,55.4H729L741.4,87.2L753.5,55.4H768.2L740,126Q737.5,131.9 730,131.9L717.3,131.5V121L723.5,121.3Q727.5,121.3 729,117.3L733.6,106Z"/>
<path d="M503,76.4H549.2V87.7H503Z"/>
</g>
<g fill="none" stroke="#0ac6c8">
<circle cx="616.85" cy="81.85" r="21.1" stroke-width="12.7"/>
<circle cx="684.35" cy="81.85" r="21.1" stroke-width="12.7"/>
<path d="M540.42,92.79A20.15,21.25 0 1 1 543.3,81.85" stroke-width="12.5"/>
</g>
<g fill="#1a1a1a" stroke="none">
<rect x="392" y="146.7" width="5.8" height="47.3"/>
<rect x="427.1" y="160.9" width="5.8" height="33.1"/>
<rect x="448.3" y="160.9" width="5.9" height="33.1"/><circle cx="451.3" cy="151.5" r="4"/>
<rect x="462.1" y="160.9" width="5.8" height="33.1"/>
<rect x="529.6" y="160.9" width="6.1" height="33.1"/><circle cx="532.6" cy="151.6" r="4.1"/>
<rect x="543.7" y="160.9" width="5.8" height="47"/>
<rect x="583.1" y="147.2" width="6" height="46.8"/>
<rect x="598" y="175.1" width="28.6" height="5.5"/>
</g>
<g fill="none" stroke="#1a1a1a">
<path d="M395,149.5H408.2A11,11 0 0 1 408.2,171.5H395" stroke-width="5.6"/>
<path d="M432.7,174.2A10.9,10.9 0 0 1 443.6,163.3" stroke-width="5.2"/>
<path d="M466.05,175.2A11.55,11.55 0 0 1 489.15,175.2V194" stroke-width="5.9"/>
<path d="M523.70,166.86A14.15,14.15 0 1 0 523.70,188.54" stroke-width="6.1"/>
<circle cx="560.2" cy="177.7" r="14.2" stroke-width="6"/>
<path d="M622.64,184.37A13.35,14.2 0 1 1 624.2,177.7" stroke-width="6"/>
</g>
<g fill="#1c1c1c" stroke="#fff" stroke-width="0.2" opacity="0.999">
<text x="161.06" y="426.4" font-size="19.6" textLength="85.74" lengthAdjust="spacingAndGlyphs">Eqidermis</text>
<text x="186.37" y="574.1" font-size="19.6" textLength="60.43" lengthAdjust="spacingAndGlyphs">Dermis</text>
<text x="161.06" y="771.4" font-size="19.6" textLength="85.74" lengthAdjust="spacingAndGlyphs">Eqidermis</text>
<text x="186.37" y="921.5" font-size="19.6" textLength="60.43" lengthAdjust="spacingAndGlyphs">Dermis</text>
<text x="307.71" y="629.6" font-size="23.8" textLength="165.28" lengthAdjust="spacingAndGlyphs">Radiofrequency</text>
<text x="478.85" y="629.6" font-size="23.8" textLength="72.29" lengthAdjust="spacingAndGlyphs">energy</text>
<text x="557.29" y="629.6" font-size="23.8" textLength="72.28" lengthAdjust="spacingAndGlyphs">causes</text>
<text x="633.12" y="629.6" font-size="23.8" textLength="91.38" lengthAdjust="spacingAndGlyphs">collagen</text>
<text x="728.22" y="629.6" font-size="23.8" textLength="119.30" lengthAdjust="spacingAndGlyphs">contraction</text>
<text x="308.08" y="659.8" font-size="23.8" textLength="88.13" lengthAdjust="spacingAndGlyphs">resulting</text>
<text x="400.33" y="659.8" font-size="23.8" textLength="20.03" lengthAdjust="spacingAndGlyphs">in</text>
<text x="424.34" y="659.8" font-size="23.8" textLength="39.17" lengthAdjust="spacingAndGlyphs">skin</text>
<text x="467.62" y="659.8" font-size="23.8" textLength="108.55" lengthAdjust="spacingAndGlyphs">tightening</text>
<text x="579.85" y="659.8" font-size="23.8" textLength="64.30" lengthAdjust="spacingAndGlyphs">effect.</text>
<text x="324.64" y="999.3" font-size="23.8" textLength="39.98" lengthAdjust="spacingAndGlyphs">The</text>
<text x="369.39" y="999.3" font-size="23.8" textLength="45.50" lengthAdjust="spacingAndGlyphs">new</text>
<text x="420.24" y="999.3" font-size="23.8" textLength="89.84" lengthAdjust="spacingAndGlyphs">collagen</text>
<text x="514.90" y="999.3" font-size="23.8" textLength="75.38" lengthAdjust="spacingAndGlyphs">growth</text>
<text x="597.05" y="999.3" font-size="23.8" textLength="82.11" lengthAdjust="spacingAndGlyphs">tightens</text>
<text x="684.93" y="999.3" font-size="23.8" textLength="33.87" lengthAdjust="spacingAndGlyphs">the</text>
<text x="723.04" y="999.3" font-size="23.8" textLength="39.27" lengthAdjust="spacingAndGlyphs">skin</text>
<text x="767.24" y="999.3" font-size="23.8" textLength="69.55" lengthAdjust="spacingAndGlyphs">further</text>
<text x="324.11" y="1028.7" font-size="23.8" textLength="48.20" lengthAdjust="spacingAndGlyphs">over</text>
<text x="376.96" y="1028.7" font-size="23.8" textLength="49.74" lengthAdjust="spacingAndGlyphs">time,</text>
<text x="431.30" y="1028.7" font-size="23.8" textLength="42.33" lengthAdjust="spacingAndGlyphs">with</text>
<text x="476.37" y="1028.7" font-size="23.8" textLength="111.25" lengthAdjust="spacingAndGlyphs">continued</text>
<text x="594.42" y="1028.7" font-size="23.8" textLength="140.52" lengthAdjust="spacingAndGlyphs">improvement</text>
<text x="740.34" y="1028.7" font-size="23.8" textLength="27.66" lengthAdjust="spacingAndGlyphs">for</text>
<text x="772.85" y="1028.7" font-size="23.8" textLength="28.22" lengthAdjust="spacingAndGlyphs">up</text>
<text x="806.20" y="1028.7" font-size="23.8" textLength="22.35" lengthAdjust="spacingAndGlyphs">to</text>
<text x="324.51" y="1058.3" font-size="23.8" textLength="24.13" lengthAdjust="spacingAndGlyphs">six</text>
<text x="352.28" y="1058.3" font-size="23.8" textLength="88.51" lengthAdjust="spacingAndGlyphs">months.</text>
</g>
</svg>
</body></html>
